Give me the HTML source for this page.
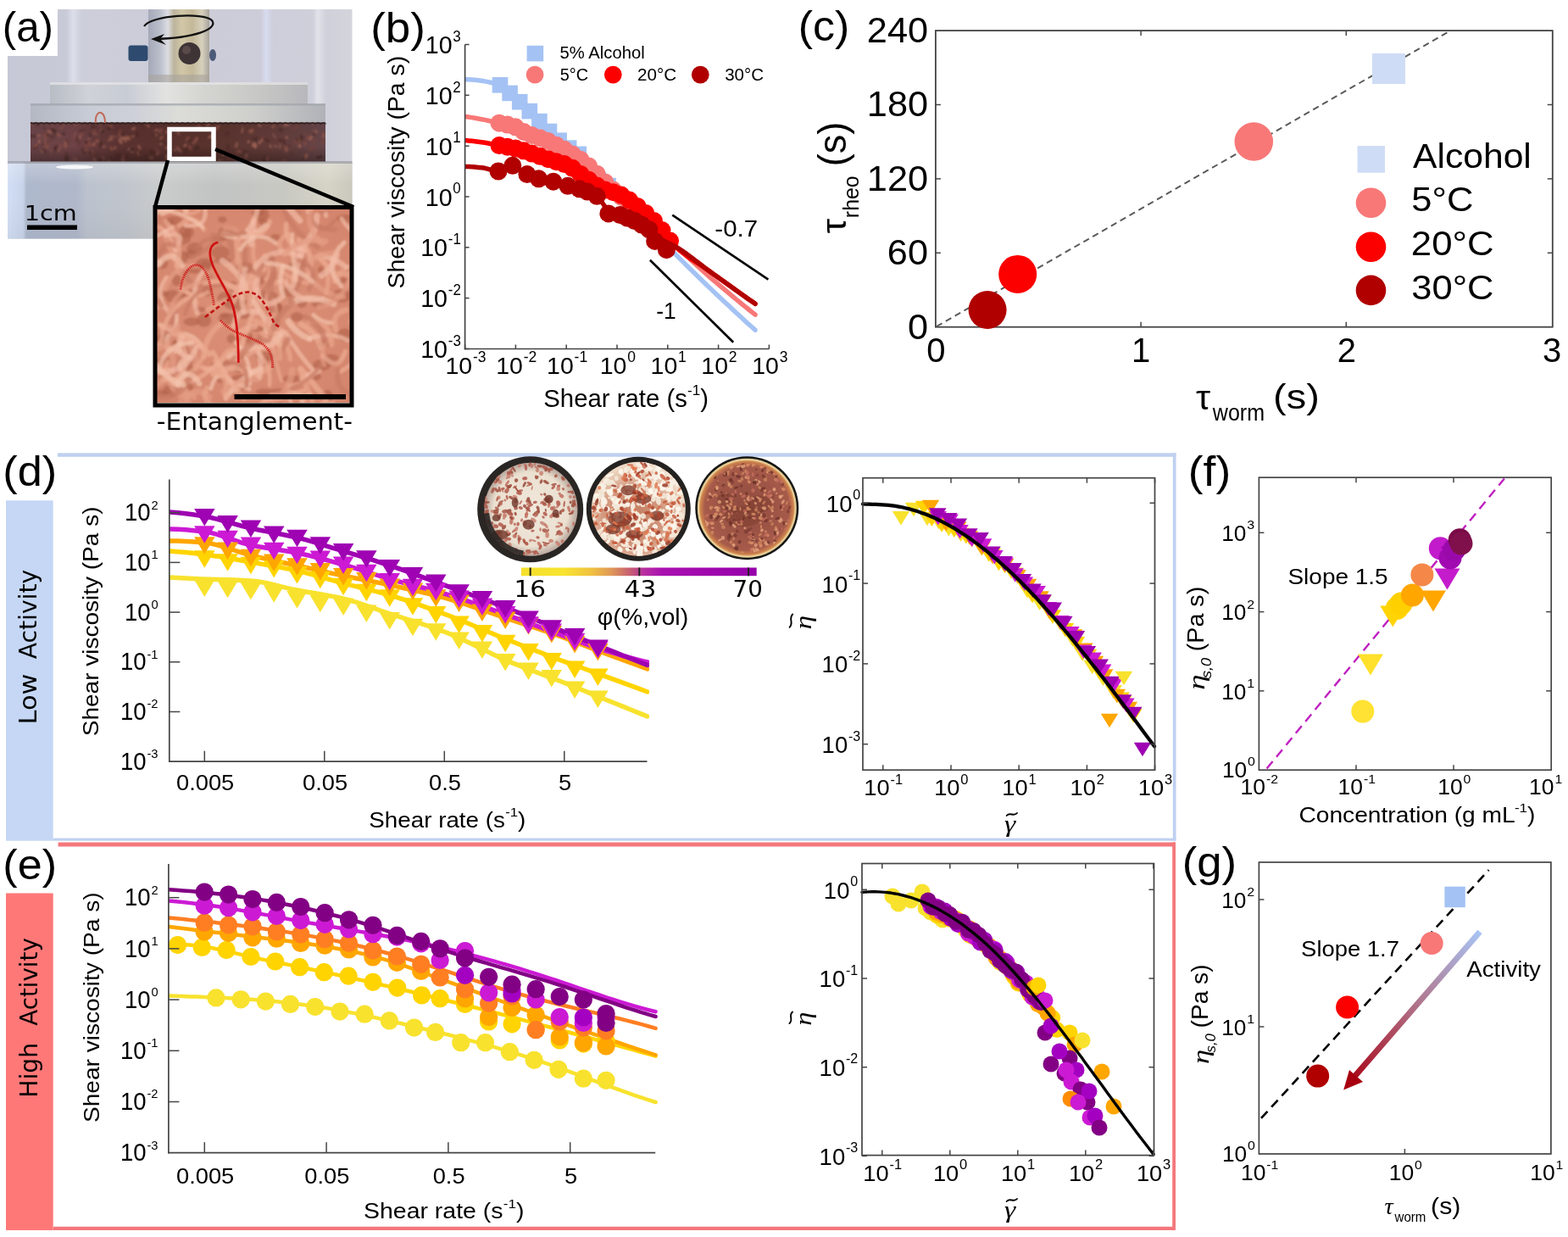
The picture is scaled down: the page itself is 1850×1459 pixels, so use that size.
<!DOCTYPE html>
<html><head><meta charset="utf-8"><title>Figure</title>
<style>html,body{margin:0;padding:0;background:#fff;width:1850px;height:1459px;overflow:hidden}svg{display:block}</style>
</head><body>
<svg width="1850" height="1459" viewBox="0 0 1850 1459">
<defs>
<linearGradient id="bgA" x1="0" x2="1" y1="0" y2="0">
 <stop offset="0" stop-color="#c6c8d6"/><stop offset="0.17" stop-color="#c8cad8"/><stop offset="0.19" stop-color="#dcdeea"/><stop offset="0.215" stop-color="#ccced9"/>
 <stop offset="0.5" stop-color="#ccccd8"/><stop offset="0.735" stop-color="#cdcdd9"/><stop offset="0.75" stop-color="#d8dcf0"/><stop offset="0.77" stop-color="#cecedb"/>
 <stop offset="0.885" stop-color="#cfcfda"/><stop offset="0.9" stop-color="#e2e2ea"/><stop offset="0.925" stop-color="#d0d0da"/><stop offset="1" stop-color="#d4d4dc"/>
</linearGradient>
<linearGradient id="shaft" x1="0" x2="1" y1="0" y2="0">
 <stop offset="0" stop-color="#a4a8b8"/><stop offset="0.2" stop-color="#bcc0cc"/><stop offset="0.32" stop-color="#dcdde2"/><stop offset="0.42" stop-color="#bcb49c"/><stop offset="0.55" stop-color="#d2c8a8"/><stop offset="0.72" stop-color="#c4b898"/><stop offset="0.88" stop-color="#d6d0bc"/><stop offset="1" stop-color="#a8a49c"/>
</linearGradient>
<linearGradient id="plate1" x1="0" x2="1" y1="0" y2="0">
 <stop offset="0" stop-color="#b8bcc4"/><stop offset="0.15" stop-color="#cfd2d8"/><stop offset="0.3" stop-color="#c8ccd4"/><stop offset="0.45" stop-color="#e2e2e0"/><stop offset="0.6" stop-color="#d4d4d0"/><stop offset="0.8" stop-color="#c8c8c6"/><stop offset="1" stop-color="#b8b8bc"/>
</linearGradient>
<linearGradient id="plate2" x1="0" x2="1" y1="0" y2="0">
 <stop offset="0" stop-color="#b4b8c2"/><stop offset="0.2" stop-color="#c8ccd6"/><stop offset="0.35" stop-color="#cdd0d8"/><stop offset="0.5" stop-color="#dcdcd8"/><stop offset="0.75" stop-color="#cfcfcc"/><stop offset="1" stop-color="#b0b2b8"/>
</linearGradient>
<linearGradient id="worms" x1="0" x2="1" y1="0" y2="0">
 <stop offset="0" stop-color="#6a4448"/><stop offset="0.15" stop-color="#6e4246"/><stop offset="0.3" stop-color="#5a3230"/><stop offset="0.6" stop-color="#58322c"/><stop offset="0.85" stop-color="#623c3a"/><stop offset="1" stop-color="#66464a"/>
</linearGradient>
<filter id="blurA" x="-5%" y="-5%" width="110%" height="110%"><feGaussianBlur stdDeviation="1.1"/></filter>
<filter id="blurB" x="-5%" y="-5%" width="110%" height="110%"><feGaussianBlur stdDeviation="1.1"/></filter>
<linearGradient id="wormV" x1="0" x2="0" y1="0" y2="1"><stop offset="0" stop-color="#000" stop-opacity="0.05"/><stop offset="0.6" stop-color="#000" stop-opacity="0"/><stop offset="1" stop-color="#000" stop-opacity="0.3"/></linearGradient>
<linearGradient id="base" x1="0" x2="1" y1="0" y2="0">
 <stop offset="0" stop-color="#d2def4"/><stop offset="0.045" stop-color="#c8d4ea"/><stop offset="0.055" stop-color="#aeb8cc"/><stop offset="0.2" stop-color="#b0b8ca"/><stop offset="0.23" stop-color="#bcc2ce"/><stop offset="0.34" stop-color="#c0c5cc"/><stop offset="0.45" stop-color="#cacccc"/><stop offset="0.6" stop-color="#c2c4c4"/><stop offset="0.8" stop-color="#c8c8c2"/><stop offset="0.93" stop-color="#d6d4c6"/><stop offset="1" stop-color="#cac8bc"/>
</linearGradient>
<linearGradient id="baseV" x1="0" x2="0" y1="0" y2="1">
 <stop offset="0" stop-color="#ffffff" stop-opacity="0.25"/><stop offset="0.3" stop-color="#ffffff" stop-opacity="0"/><stop offset="1" stop-color="#000000" stop-opacity="0.04"/>
</linearGradient>
<clipPath id="clipInset"><rect x="185" y="247" width="228" height="228"/></clipPath>
<clipPath id="clipWorm"><rect x="36" y="145" width="348" height="46"/></clipPath>
</defs>
<rect x="9.0" y="11.0" width="406.5" height="270.5" fill="url(#bgA)" />
<rect x="175.0" y="11.0" width="72.0" height="86.0" fill="url(#shaft)" />
<rect x="175.0" y="88.0" width="72.0" height="9.0" fill="#a8a49c" opacity="0.6"/>
<rect x="151.5" y="53.5" width="23" height="18.5" rx="3" fill="#2e4a6e"/>
<ellipse cx="251" cy="65" rx="4" ry="7" fill="#4a5a78"/>
<circle cx="223.5" cy="63.0" r="13.0" fill="#3e3436" />
<circle cx="220.0" cy="59.0" r="5.0" fill="#5a4a4a" />
<path d="M 170 31 C 178 18, 240 14, 250 24 C 258 34, 230 45, 182 46" fill="none" stroke="#111" stroke-width="2.2"/>
<path d="M 178 46 L 194 40 L 189 46 L 196 53 Z" fill="#111"/>
<rect x="59.0" y="97.0" width="304.0" height="27.0" fill="url(#plate1)" />
<rect x="59.0" y="97.0" width="304.0" height="3.0" fill="#e4e4e6" opacity="0.8"/>
<rect x="36.0" y="123.0" width="348.0" height="23.0" fill="url(#plate2)" />
<rect x="36.0" y="122.0" width="348.0" height="2.5" fill="#9ea2aa" opacity="0.7"/>
<rect x="36.0" y="145.0" width="348.0" height="46.0" fill="url(#worms)" />
<g clip-path="url(#clipWorm)"><g filter="url(#blurB)"><ellipse cx="118.8" cy="170.0" rx="4.2" ry="1.5" fill="#3e2420" opacity="0.7" transform="rotate(105 118.8 170.0)"/><ellipse cx="246.7" cy="186.8" rx="2.3" ry="1.1" fill="#5a3430" opacity="0.7" transform="rotate(179 246.7 186.8)"/><ellipse cx="199.7" cy="183.5" rx="2.7" ry="2.0" fill="#5a3430" opacity="0.7" transform="rotate(42 199.7 183.5)"/><ellipse cx="88.8" cy="187.6" rx="3.7" ry="1.7" fill="#8e5a50" opacity="0.7" transform="rotate(12 88.8 187.6)"/><ellipse cx="299.9" cy="172.2" rx="3.8" ry="2.0" fill="#a86a5a" opacity="0.7" transform="rotate(48 299.9 172.2)"/><ellipse cx="243.0" cy="187.3" rx="3.6" ry="2.1" fill="#8e5a50" opacity="0.7" transform="rotate(71 243.0 187.3)"/><ellipse cx="314.7" cy="165.5" rx="4.1" ry="0.9" fill="#4a2a26" opacity="0.7" transform="rotate(24 314.7 165.5)"/><ellipse cx="111.5" cy="189.4" rx="3.8" ry="2.0" fill="#8e5a50" opacity="0.7" transform="rotate(76 111.5 189.4)"/><ellipse cx="326.1" cy="171.4" rx="3.3" ry="2.1" fill="#8e5a50" opacity="0.7" transform="rotate(123 326.1 171.4)"/><ellipse cx="359.3" cy="184.4" rx="3.6" ry="1.3" fill="#4a2a26" opacity="0.7" transform="rotate(98 359.3 184.4)"/><ellipse cx="235.0" cy="149.8" rx="3.4" ry="2.2" fill="#7a443c" opacity="0.7" transform="rotate(48 235.0 149.8)"/><ellipse cx="79.3" cy="167.2" rx="1.8" ry="1.9" fill="#5a3430" opacity="0.7" transform="rotate(74 79.3 167.2)"/><ellipse cx="88.5" cy="158.5" rx="4.1" ry="0.9" fill="#8e5a50" opacity="0.7" transform="rotate(111 88.5 158.5)"/><ellipse cx="51.6" cy="178.0" rx="3.2" ry="2.1" fill="#3e2420" opacity="0.7" transform="rotate(50 51.6 178.0)"/><ellipse cx="118.1" cy="146.7" rx="1.7" ry="1.6" fill="#8a4c44" opacity="0.7" transform="rotate(6 118.1 146.7)"/><ellipse cx="104.7" cy="163.8" rx="2.0" ry="0.9" fill="#a86a5a" opacity="0.7" transform="rotate(156 104.7 163.8)"/><ellipse cx="145.2" cy="189.1" rx="2.6" ry="2.0" fill="#8e5a50" opacity="0.7" transform="rotate(70 145.2 189.1)"/><ellipse cx="337.7" cy="176.3" rx="3.4" ry="2.1" fill="#9a5a4c" opacity="0.7" transform="rotate(91 337.7 176.3)"/><ellipse cx="186.1" cy="178.1" rx="4.3" ry="1.4" fill="#7a443c" opacity="0.7" transform="rotate(46 186.1 178.1)"/><ellipse cx="141.4" cy="160.6" rx="4.5" ry="1.2" fill="#8e5a50" opacity="0.7" transform="rotate(68 141.4 160.6)"/><ellipse cx="241.0" cy="151.1" rx="2.9" ry="1.8" fill="#3e2420" opacity="0.7" transform="rotate(63 241.0 151.1)"/><ellipse cx="282.0" cy="178.9" rx="3.3" ry="2.1" fill="#8a4c44" opacity="0.7" transform="rotate(4 282.0 178.9)"/><ellipse cx="164.5" cy="173.9" rx="3.3" ry="1.2" fill="#a86a5a" opacity="0.7" transform="rotate(66 164.5 173.9)"/><ellipse cx="144.8" cy="162.0" rx="2.4" ry="1.3" fill="#a86a5a" opacity="0.7" transform="rotate(139 144.8 162.0)"/><ellipse cx="45.4" cy="171.2" rx="2.4" ry="1.1" fill="#4a2a26" opacity="0.7" transform="rotate(145 45.4 171.2)"/><ellipse cx="119.1" cy="153.6" rx="3.4" ry="0.9" fill="#8e5a50" opacity="0.7" transform="rotate(108 119.1 153.6)"/><ellipse cx="366.3" cy="176.0" rx="2.8" ry="2.0" fill="#7a443c" opacity="0.7" transform="rotate(30 366.3 176.0)"/><ellipse cx="153.2" cy="174.9" rx="2.3" ry="1.9" fill="#5a3430" opacity="0.7" transform="rotate(6 153.2 174.9)"/><ellipse cx="369.2" cy="159.5" rx="4.1" ry="1.3" fill="#4a2a26" opacity="0.7" transform="rotate(149 369.2 159.5)"/><ellipse cx="65.8" cy="173.5" rx="2.8" ry="1.5" fill="#4a2a26" opacity="0.7" transform="rotate(153 65.8 173.5)"/><ellipse cx="197.7" cy="174.2" rx="2.8" ry="1.4" fill="#a86a5a" opacity="0.7" transform="rotate(166 197.7 174.2)"/><ellipse cx="90.3" cy="145.2" rx="3.2" ry="2.2" fill="#8e5a50" opacity="0.7" transform="rotate(129 90.3 145.2)"/><ellipse cx="47.2" cy="166.0" rx="3.1" ry="2.0" fill="#a86a5a" opacity="0.7" transform="rotate(155 47.2 166.0)"/><ellipse cx="334.6" cy="189.7" rx="3.9" ry="0.9" fill="#9a5a4c" opacity="0.7" transform="rotate(163 334.6 189.7)"/><ellipse cx="277.4" cy="187.5" rx="3.2" ry="0.8" fill="#8e5a50" opacity="0.7" transform="rotate(134 277.4 187.5)"/><ellipse cx="95.8" cy="158.8" rx="3.1" ry="1.4" fill="#8a4c44" opacity="0.7" transform="rotate(169 95.8 158.8)"/><ellipse cx="249.0" cy="160.7" rx="4.4" ry="1.6" fill="#a86a5a" opacity="0.7" transform="rotate(146 249.0 160.7)"/><ellipse cx="57.4" cy="155.2" rx="3.1" ry="1.9" fill="#9a5a4c" opacity="0.7" transform="rotate(31 57.4 155.2)"/><ellipse cx="311.5" cy="187.4" rx="4.0" ry="0.8" fill="#4a2a26" opacity="0.7" transform="rotate(113 311.5 187.4)"/><ellipse cx="336.2" cy="147.3" rx="2.2" ry="1.7" fill="#a86a5a" opacity="0.7" transform="rotate(94 336.2 147.3)"/><ellipse cx="53.7" cy="159.9" rx="4.1" ry="1.9" fill="#8a4c44" opacity="0.7" transform="rotate(8 53.7 159.9)"/><ellipse cx="53.3" cy="167.2" rx="4.1" ry="0.9" fill="#8a4c44" opacity="0.7" transform="rotate(90 53.3 167.2)"/><ellipse cx="145.9" cy="159.5" rx="2.7" ry="1.3" fill="#3e2420" opacity="0.7" transform="rotate(55 145.9 159.5)"/><ellipse cx="128.2" cy="190.4" rx="1.9" ry="1.6" fill="#8e5a50" opacity="0.7" transform="rotate(129 128.2 190.4)"/><ellipse cx="168.3" cy="148.7" rx="1.6" ry="1.4" fill="#4a2a26" opacity="0.7" transform="rotate(117 168.3 148.7)"/><ellipse cx="224.4" cy="174.3" rx="3.4" ry="1.4" fill="#8a4c44" opacity="0.7" transform="rotate(67 224.4 174.3)"/><ellipse cx="208.7" cy="177.3" rx="4.4" ry="1.4" fill="#8e5a50" opacity="0.7" transform="rotate(3 208.7 177.3)"/><ellipse cx="112.1" cy="157.4" rx="3.9" ry="1.1" fill="#9a5a4c" opacity="0.7" transform="rotate(23 112.1 157.4)"/><ellipse cx="45.8" cy="160.0" rx="1.9" ry="1.8" fill="#a86a5a" opacity="0.7" transform="rotate(169 45.8 160.0)"/><ellipse cx="290.6" cy="184.1" rx="3.5" ry="1.8" fill="#8e5a50" opacity="0.7" transform="rotate(101 290.6 184.1)"/><ellipse cx="71.9" cy="172.0" rx="2.9" ry="1.1" fill="#8a4c44" opacity="0.7" transform="rotate(70 71.9 172.0)"/><ellipse cx="219.5" cy="171.0" rx="2.0" ry="0.8" fill="#8e5a50" opacity="0.7" transform="rotate(151 219.5 171.0)"/><ellipse cx="78.2" cy="183.8" rx="4.0" ry="2.1" fill="#5a3430" opacity="0.7" transform="rotate(104 78.2 183.8)"/><ellipse cx="314.0" cy="146.7" rx="1.8" ry="1.8" fill="#7a443c" opacity="0.7" transform="rotate(168 314.0 146.7)"/><ellipse cx="57.3" cy="159.9" rx="4.0" ry="1.1" fill="#4a2a26" opacity="0.7" transform="rotate(32 57.3 159.9)"/><ellipse cx="123.0" cy="173.3" rx="2.3" ry="1.6" fill="#8e5a50" opacity="0.7" transform="rotate(169 123.0 173.3)"/><ellipse cx="229.7" cy="189.5" rx="3.0" ry="2.2" fill="#8e5a50" opacity="0.7" transform="rotate(74 229.7 189.5)"/><ellipse cx="296.1" cy="152.4" rx="2.0" ry="1.4" fill="#5a3430" opacity="0.7" transform="rotate(160 296.1 152.4)"/><ellipse cx="92.6" cy="167.9" rx="4.2" ry="1.5" fill="#5a3430" opacity="0.7" transform="rotate(80 92.6 167.9)"/><ellipse cx="286.2" cy="153.6" rx="3.8" ry="1.0" fill="#a86a5a" opacity="0.7" transform="rotate(93 286.2 153.6)"/><ellipse cx="361.3" cy="184.2" rx="3.5" ry="2.0" fill="#a86a5a" opacity="0.7" transform="rotate(107 361.3 184.2)"/><ellipse cx="239.4" cy="190.3" rx="2.4" ry="1.2" fill="#7a443c" opacity="0.7" transform="rotate(145 239.4 190.3)"/><ellipse cx="105.8" cy="171.2" rx="2.5" ry="1.9" fill="#7a443c" opacity="0.7" transform="rotate(26 105.8 171.2)"/><ellipse cx="380.9" cy="167.1" rx="2.9" ry="2.0" fill="#7a443c" opacity="0.7" transform="rotate(148 380.9 167.1)"/><ellipse cx="229.9" cy="167.1" rx="4.1" ry="1.4" fill="#9a5a4c" opacity="0.7" transform="rotate(132 229.9 167.1)"/><ellipse cx="370.2" cy="166.5" rx="4.2" ry="1.7" fill="#7a443c" opacity="0.7" transform="rotate(140 370.2 166.5)"/><ellipse cx="60.1" cy="155.0" rx="2.2" ry="1.1" fill="#a86a5a" opacity="0.7" transform="rotate(47 60.1 155.0)"/><ellipse cx="101.1" cy="177.4" rx="4.2" ry="1.2" fill="#8a4c44" opacity="0.7" transform="rotate(156 101.1 177.4)"/><ellipse cx="145.1" cy="164.5" rx="1.9" ry="1.2" fill="#9a5a4c" opacity="0.7" transform="rotate(164 145.1 164.5)"/><ellipse cx="48.6" cy="165.8" rx="1.5" ry="1.3" fill="#3e2420" opacity="0.7" transform="rotate(79 48.6 165.8)"/><ellipse cx="205.1" cy="154.7" rx="2.7" ry="1.6" fill="#5a3430" opacity="0.7" transform="rotate(21 205.1 154.7)"/><ellipse cx="131.6" cy="175.6" rx="2.8" ry="1.5" fill="#9a5a4c" opacity="0.7" transform="rotate(45 131.6 175.6)"/><ellipse cx="219.6" cy="177.2" rx="3.8" ry="1.2" fill="#3e2420" opacity="0.7" transform="rotate(122 219.6 177.2)"/><ellipse cx="263.6" cy="182.1" rx="1.8" ry="2.1" fill="#a86a5a" opacity="0.7" transform="rotate(61 263.6 182.1)"/><ellipse cx="233.0" cy="169.2" rx="3.0" ry="0.9" fill="#5a3430" opacity="0.7" transform="rotate(53 233.0 169.2)"/><ellipse cx="289.3" cy="179.1" rx="2.0" ry="2.0" fill="#4a2a26" opacity="0.7" transform="rotate(118 289.3 179.1)"/><ellipse cx="78.8" cy="187.9" rx="4.3" ry="1.7" fill="#4a2a26" opacity="0.7" transform="rotate(117 78.8 187.9)"/><ellipse cx="182.2" cy="158.8" rx="2.9" ry="1.2" fill="#4a2a26" opacity="0.7" transform="rotate(32 182.2 158.8)"/><ellipse cx="59.9" cy="177.9" rx="2.6" ry="1.2" fill="#8e5a50" opacity="0.7" transform="rotate(69 59.9 177.9)"/><ellipse cx="339.6" cy="146.9" rx="2.2" ry="1.9" fill="#a86a5a" opacity="0.7" transform="rotate(64 339.6 146.9)"/><ellipse cx="151.8" cy="163.6" rx="2.6" ry="2.0" fill="#9a5a4c" opacity="0.7" transform="rotate(20 151.8 163.6)"/><ellipse cx="130.1" cy="149.6" rx="3.2" ry="2.1" fill="#9a5a4c" opacity="0.7" transform="rotate(20 130.1 149.6)"/><ellipse cx="279.0" cy="171.1" rx="3.9" ry="1.8" fill="#8e5a50" opacity="0.7" transform="rotate(107 279.0 171.1)"/><ellipse cx="87.0" cy="163.3" rx="3.1" ry="1.0" fill="#7a443c" opacity="0.7" transform="rotate(32 87.0 163.3)"/><ellipse cx="338.3" cy="162.0" rx="1.6" ry="1.9" fill="#a86a5a" opacity="0.7" transform="rotate(160 338.3 162.0)"/><ellipse cx="366.4" cy="162.6" rx="3.4" ry="2.2" fill="#a86a5a" opacity="0.7" transform="rotate(124 366.4 162.6)"/><ellipse cx="140.2" cy="184.6" rx="1.6" ry="1.1" fill="#5a3430" opacity="0.7" transform="rotate(114 140.2 184.6)"/><ellipse cx="73.4" cy="179.8" rx="3.0" ry="1.5" fill="#7a443c" opacity="0.7" transform="rotate(83 73.4 179.8)"/><ellipse cx="103.3" cy="169.4" rx="3.9" ry="2.1" fill="#8a4c44" opacity="0.7" transform="rotate(170 103.3 169.4)"/><ellipse cx="74.8" cy="158.0" rx="1.9" ry="1.9" fill="#4a2a26" opacity="0.7" transform="rotate(112 74.8 158.0)"/><ellipse cx="53.6" cy="161.6" rx="3.0" ry="1.5" fill="#7a443c" opacity="0.7" transform="rotate(3 53.6 161.6)"/><ellipse cx="154.2" cy="160.1" rx="3.6" ry="1.0" fill="#3e2420" opacity="0.7" transform="rotate(154 154.2 160.1)"/><ellipse cx="245.2" cy="187.6" rx="3.7" ry="1.3" fill="#9a5a4c" opacity="0.7" transform="rotate(145 245.2 187.6)"/><ellipse cx="360.2" cy="184.6" rx="3.6" ry="1.1" fill="#8e5a50" opacity="0.7" transform="rotate(57 360.2 184.6)"/><ellipse cx="309.8" cy="163.8" rx="3.6" ry="1.3" fill="#7a443c" opacity="0.7" transform="rotate(85 309.8 163.8)"/><ellipse cx="59.7" cy="184.2" rx="3.4" ry="1.2" fill="#7a443c" opacity="0.7" transform="rotate(84 59.7 184.2)"/><ellipse cx="299.5" cy="163.5" rx="2.9" ry="0.9" fill="#4a2a26" opacity="0.7" transform="rotate(46 299.5 163.5)"/><ellipse cx="331.4" cy="165.6" rx="3.3" ry="1.1" fill="#3e2420" opacity="0.7" transform="rotate(0 331.4 165.6)"/><ellipse cx="108.7" cy="181.0" rx="4.1" ry="1.5" fill="#4a2a26" opacity="0.7" transform="rotate(29 108.7 181.0)"/><ellipse cx="43.7" cy="171.9" rx="3.4" ry="1.0" fill="#4a2a26" opacity="0.7" transform="rotate(110 43.7 171.9)"/><ellipse cx="190.1" cy="153.5" rx="2.7" ry="1.2" fill="#8a4c44" opacity="0.7" transform="rotate(6 190.1 153.5)"/><ellipse cx="284.5" cy="156.0" rx="2.7" ry="0.8" fill="#8a4c44" opacity="0.7" transform="rotate(174 284.5 156.0)"/><ellipse cx="112.2" cy="149.3" rx="2.1" ry="1.3" fill="#5a3430" opacity="0.7" transform="rotate(21 112.2 149.3)"/><ellipse cx="353.6" cy="172.3" rx="2.3" ry="1.9" fill="#a86a5a" opacity="0.7" transform="rotate(84 353.6 172.3)"/><ellipse cx="360.7" cy="158.8" rx="3.2" ry="0.8" fill="#7a443c" opacity="0.7" transform="rotate(61 360.7 158.8)"/><ellipse cx="381.5" cy="159.6" rx="3.5" ry="2.2" fill="#8a4c44" opacity="0.7" transform="rotate(107 381.5 159.6)"/><ellipse cx="37.3" cy="146.4" rx="1.6" ry="1.5" fill="#9a5a4c" opacity="0.7" transform="rotate(87 37.3 146.4)"/><ellipse cx="101.8" cy="168.4" rx="2.1" ry="2.2" fill="#3e2420" opacity="0.7" transform="rotate(86 101.8 168.4)"/><ellipse cx="315.6" cy="187.2" rx="2.6" ry="1.9" fill="#8a4c44" opacity="0.7" transform="rotate(114 315.6 187.2)"/><ellipse cx="173.2" cy="188.6" rx="4.0" ry="1.0" fill="#4a2a26" opacity="0.7" transform="rotate(70 173.2 188.6)"/><ellipse cx="152.3" cy="176.3" rx="2.0" ry="1.8" fill="#8e5a50" opacity="0.7" transform="rotate(132 152.3 176.3)"/><ellipse cx="326.8" cy="170.5" rx="2.6" ry="1.4" fill="#4a2a26" opacity="0.7" transform="rotate(41 326.8 170.5)"/><ellipse cx="307.3" cy="167.1" rx="4.0" ry="1.5" fill="#a86a5a" opacity="0.7" transform="rotate(135 307.3 167.1)"/><ellipse cx="354.4" cy="177.1" rx="1.6" ry="1.0" fill="#5a3430" opacity="0.7" transform="rotate(135 354.4 177.1)"/><ellipse cx="322.3" cy="149.2" rx="2.5" ry="1.6" fill="#9a5a4c" opacity="0.7" transform="rotate(144 322.3 149.2)"/><ellipse cx="55.6" cy="173.2" rx="2.8" ry="2.1" fill="#8a4c44" opacity="0.7" transform="rotate(132 55.6 173.2)"/><ellipse cx="152.1" cy="162.0" rx="2.1" ry="1.9" fill="#9a5a4c" opacity="0.7" transform="rotate(165 152.1 162.0)"/><ellipse cx="153.8" cy="159.3" rx="1.7" ry="1.7" fill="#5a3430" opacity="0.7" transform="rotate(43 153.8 159.3)"/><ellipse cx="53.0" cy="152.0" rx="3.3" ry="0.8" fill="#4a2a26" opacity="0.7" transform="rotate(41 53.0 152.0)"/><ellipse cx="372.6" cy="155.1" rx="3.0" ry="2.1" fill="#8e5a50" opacity="0.7" transform="rotate(57 372.6 155.1)"/><ellipse cx="343.2" cy="181.0" rx="2.0" ry="0.9" fill="#5a3430" opacity="0.7" transform="rotate(149 343.2 181.0)"/><ellipse cx="75.2" cy="146.1" rx="2.1" ry="2.1" fill="#9a5a4c" opacity="0.7" transform="rotate(15 75.2 146.1)"/><ellipse cx="197.9" cy="155.2" rx="3.4" ry="1.9" fill="#9a5a4c" opacity="0.7" transform="rotate(157 197.9 155.2)"/><ellipse cx="156.4" cy="172.7" rx="3.8" ry="1.2" fill="#5a3430" opacity="0.7" transform="rotate(170 156.4 172.7)"/><ellipse cx="190.4" cy="162.5" rx="3.1" ry="1.4" fill="#9a5a4c" opacity="0.7" transform="rotate(131 190.4 162.5)"/><ellipse cx="62.9" cy="160.9" rx="3.8" ry="2.1" fill="#5a3430" opacity="0.7" transform="rotate(124 62.9 160.9)"/><ellipse cx="162.9" cy="181.1" rx="3.3" ry="1.1" fill="#9a5a4c" opacity="0.7" transform="rotate(63 162.9 181.1)"/><ellipse cx="382.5" cy="160.4" rx="2.8" ry="1.2" fill="#8e5a50" opacity="0.7" transform="rotate(58 382.5 160.4)"/><ellipse cx="296.8" cy="154.5" rx="4.1" ry="2.2" fill="#7a443c" opacity="0.7" transform="rotate(110 296.8 154.5)"/><ellipse cx="360.1" cy="169.6" rx="2.6" ry="1.1" fill="#8e5a50" opacity="0.7" transform="rotate(112 360.1 169.6)"/><ellipse cx="178.4" cy="186.1" rx="2.9" ry="1.6" fill="#8e5a50" opacity="0.7" transform="rotate(6 178.4 186.1)"/><ellipse cx="369.2" cy="145.8" rx="1.6" ry="1.0" fill="#9a5a4c" opacity="0.7" transform="rotate(91 369.2 145.8)"/><ellipse cx="57.4" cy="166.7" rx="3.7" ry="1.2" fill="#7a443c" opacity="0.7" transform="rotate(78 57.4 166.7)"/><ellipse cx="156.0" cy="179.1" rx="1.9" ry="1.4" fill="#a86a5a" opacity="0.7" transform="rotate(164 156.0 179.1)"/><ellipse cx="190.5" cy="154.5" rx="3.8" ry="1.8" fill="#5a3430" opacity="0.7" transform="rotate(176 190.5 154.5)"/><ellipse cx="376.9" cy="185.3" rx="4.3" ry="1.4" fill="#3e2420" opacity="0.7" transform="rotate(169 376.9 185.3)"/><ellipse cx="201.0" cy="190.9" rx="2.6" ry="2.0" fill="#7a443c" opacity="0.7" transform="rotate(51 201.0 190.9)"/><ellipse cx="197.2" cy="185.8" rx="3.7" ry="2.1" fill="#a86a5a" opacity="0.7" transform="rotate(94 197.2 185.8)"/><ellipse cx="41.0" cy="173.9" rx="3.1" ry="1.0" fill="#4a2a26" opacity="0.7" transform="rotate(9 41.0 173.9)"/><ellipse cx="107.0" cy="180.4" rx="2.6" ry="2.2" fill="#5a3430" opacity="0.7" transform="rotate(65 107.0 180.4)"/><ellipse cx="228.3" cy="167.5" rx="1.5" ry="1.4" fill="#7a443c" opacity="0.7" transform="rotate(61 228.3 167.5)"/><ellipse cx="53.8" cy="170.1" rx="2.9" ry="1.2" fill="#9a5a4c" opacity="0.7" transform="rotate(121 53.8 170.1)"/><ellipse cx="209.5" cy="178.3" rx="1.6" ry="1.4" fill="#3e2420" opacity="0.7" transform="rotate(113 209.5 178.3)"/><ellipse cx="271.0" cy="187.0" rx="4.4" ry="1.8" fill="#7a443c" opacity="0.7" transform="rotate(151 271.0 187.0)"/><ellipse cx="179.5" cy="179.5" rx="3.2" ry="1.2" fill="#3e2420" opacity="0.7" transform="rotate(30 179.5 179.5)"/><ellipse cx="41.9" cy="174.6" rx="2.9" ry="1.7" fill="#5a3430" opacity="0.7" transform="rotate(167 41.9 174.6)"/><ellipse cx="319.3" cy="172.7" rx="2.6" ry="1.7" fill="#8e5a50" opacity="0.7" transform="rotate(53 319.3 172.7)"/><ellipse cx="61.7" cy="151.4" rx="2.7" ry="1.3" fill="#9a5a4c" opacity="0.7" transform="rotate(82 61.7 151.4)"/><ellipse cx="315.4" cy="165.8" rx="3.2" ry="1.0" fill="#4a2a26" opacity="0.7" transform="rotate(7 315.4 165.8)"/><ellipse cx="205.0" cy="155.6" rx="4.3" ry="1.7" fill="#5a3430" opacity="0.7" transform="rotate(6 205.0 155.6)"/><ellipse cx="235.9" cy="170.3" rx="1.9" ry="1.9" fill="#5a3430" opacity="0.7" transform="rotate(136 235.9 170.3)"/><ellipse cx="129.1" cy="165.0" rx="2.6" ry="1.5" fill="#9a5a4c" opacity="0.7" transform="rotate(161 129.1 165.0)"/><ellipse cx="370.2" cy="174.6" rx="2.4" ry="1.3" fill="#7a443c" opacity="0.7" transform="rotate(118 370.2 174.6)"/><ellipse cx="363.7" cy="163.2" rx="2.3" ry="2.1" fill="#8a4c44" opacity="0.7" transform="rotate(170 363.7 163.2)"/><ellipse cx="146.5" cy="163.1" rx="1.6" ry="1.4" fill="#a86a5a" opacity="0.7" transform="rotate(74 146.5 163.1)"/><ellipse cx="349.0" cy="167.8" rx="3.7" ry="1.8" fill="#7a443c" opacity="0.7" transform="rotate(21 349.0 167.8)"/><ellipse cx="256.0" cy="150.7" rx="4.3" ry="2.2" fill="#8a4c44" opacity="0.7" transform="rotate(125 256.0 150.7)"/><ellipse cx="186.1" cy="190.3" rx="2.3" ry="1.6" fill="#5a3430" opacity="0.7" transform="rotate(8 186.1 190.3)"/><ellipse cx="118.1" cy="189.0" rx="1.9" ry="1.8" fill="#4a2a26" opacity="0.7" transform="rotate(124 118.1 189.0)"/><ellipse cx="198.6" cy="163.3" rx="1.9" ry="0.9" fill="#8a4c44" opacity="0.7" transform="rotate(137 198.6 163.3)"/><ellipse cx="97.3" cy="153.7" rx="4.1" ry="0.9" fill="#4a2a26" opacity="0.7" transform="rotate(173 97.3 153.7)"/><ellipse cx="222.1" cy="162.6" rx="2.8" ry="1.1" fill="#9a5a4c" opacity="0.7" transform="rotate(5 222.1 162.6)"/><ellipse cx="72.4" cy="150.3" rx="1.9" ry="1.3" fill="#a86a5a" opacity="0.7" transform="rotate(165 72.4 150.3)"/><ellipse cx="62.8" cy="153.8" rx="4.5" ry="2.2" fill="#3e2420" opacity="0.7" transform="rotate(44 62.8 153.8)"/><ellipse cx="159.3" cy="188.7" rx="1.8" ry="2.0" fill="#5a3430" opacity="0.7" transform="rotate(85 159.3 188.7)"/><ellipse cx="293.3" cy="169.4" rx="3.2" ry="1.4" fill="#5a3430" opacity="0.7" transform="rotate(97 293.3 169.4)"/><ellipse cx="189.9" cy="169.6" rx="2.1" ry="1.6" fill="#8e5a50" opacity="0.7" transform="rotate(168 189.9 169.6)"/><ellipse cx="331.2" cy="153.3" rx="2.5" ry="2.0" fill="#4a2a26" opacity="0.7" transform="rotate(23 331.2 153.3)"/><ellipse cx="246.0" cy="147.6" rx="1.8" ry="0.8" fill="#4a2a26" opacity="0.7" transform="rotate(157 246.0 147.6)"/><ellipse cx="312.3" cy="190.6" rx="3.1" ry="1.9" fill="#3e2420" opacity="0.7" transform="rotate(17 312.3 190.6)"/><ellipse cx="224.1" cy="165.3" rx="3.3" ry="1.1" fill="#4a2a26" opacity="0.7" transform="rotate(82 224.1 165.3)"/><ellipse cx="232.2" cy="174.3" rx="3.6" ry="1.9" fill="#3e2420" opacity="0.7" transform="rotate(130 232.2 174.3)"/><ellipse cx="155.7" cy="176.8" rx="2.4" ry="2.2" fill="#3e2420" opacity="0.7" transform="rotate(49 155.7 176.8)"/><ellipse cx="78.9" cy="168.0" rx="3.7" ry="1.1" fill="#3e2420" opacity="0.7" transform="rotate(78 78.9 168.0)"/><ellipse cx="128.9" cy="151.0" rx="3.1" ry="2.0" fill="#3e2420" opacity="0.7" transform="rotate(178 128.9 151.0)"/><ellipse cx="219.9" cy="165.3" rx="1.7" ry="1.4" fill="#8a4c44" opacity="0.7" transform="rotate(153 219.9 165.3)"/><ellipse cx="306.5" cy="147.7" rx="2.7" ry="2.2" fill="#8e5a50" opacity="0.7" transform="rotate(66 306.5 147.7)"/><ellipse cx="110.7" cy="170.2" rx="2.8" ry="2.0" fill="#9a5a4c" opacity="0.7" transform="rotate(128 110.7 170.2)"/><ellipse cx="161.8" cy="158.8" rx="2.7" ry="1.3" fill="#3e2420" opacity="0.7" transform="rotate(117 161.8 158.8)"/><ellipse cx="340.5" cy="171.9" rx="2.5" ry="0.8" fill="#4a2a26" opacity="0.7" transform="rotate(12 340.5 171.9)"/><ellipse cx="36.1" cy="185.7" rx="2.5" ry="1.2" fill="#7a443c" opacity="0.7" transform="rotate(5 36.1 185.7)"/><ellipse cx="223.5" cy="187.4" rx="3.7" ry="2.0" fill="#5a3430" opacity="0.7" transform="rotate(151 223.5 187.4)"/><ellipse cx="353.7" cy="165.3" rx="3.0" ry="2.1" fill="#9a5a4c" opacity="0.7" transform="rotate(40 353.7 165.3)"/><ellipse cx="84.3" cy="159.1" rx="1.9" ry="1.0" fill="#7a443c" opacity="0.7" transform="rotate(159 84.3 159.1)"/><ellipse cx="185.9" cy="181.6" rx="1.5" ry="2.0" fill="#8e5a50" opacity="0.7" transform="rotate(33 185.9 181.6)"/><ellipse cx="131.4" cy="162.9" rx="3.3" ry="2.1" fill="#8e5a50" opacity="0.7" transform="rotate(54 131.4 162.9)"/><ellipse cx="135.9" cy="174.5" rx="1.7" ry="2.0" fill="#9a5a4c" opacity="0.7" transform="rotate(134 135.9 174.5)"/><ellipse cx="147.8" cy="184.1" rx="2.9" ry="1.4" fill="#3e2420" opacity="0.7" transform="rotate(161 147.8 184.1)"/><ellipse cx="323.6" cy="160.3" rx="4.1" ry="1.1" fill="#8e5a50" opacity="0.7" transform="rotate(58 323.6 160.3)"/><ellipse cx="261.7" cy="189.1" rx="3.4" ry="0.8" fill="#8a4c44" opacity="0.7" transform="rotate(168 261.7 189.1)"/><ellipse cx="218.3" cy="171.4" rx="2.0" ry="1.9" fill="#9a5a4c" opacity="0.7" transform="rotate(148 218.3 171.4)"/><ellipse cx="355.5" cy="163.2" rx="4.4" ry="1.7" fill="#3e2420" opacity="0.7" transform="rotate(95 355.5 163.2)"/><ellipse cx="106.4" cy="158.7" rx="3.2" ry="1.3" fill="#4a2a26" opacity="0.7" transform="rotate(93 106.4 158.7)"/><ellipse cx="145.6" cy="184.6" rx="2.8" ry="1.8" fill="#7a443c" opacity="0.7" transform="rotate(154 145.6 184.6)"/><ellipse cx="255.1" cy="167.7" rx="2.1" ry="0.9" fill="#7a443c" opacity="0.7" transform="rotate(82 255.1 167.7)"/><ellipse cx="359.0" cy="168.1" rx="2.4" ry="1.9" fill="#7a443c" opacity="0.7" transform="rotate(59 359.0 168.1)"/><ellipse cx="121.9" cy="185.5" rx="2.2" ry="1.3" fill="#8a4c44" opacity="0.7" transform="rotate(40 121.9 185.5)"/><ellipse cx="135.2" cy="160.9" rx="3.6" ry="1.3" fill="#8a4c44" opacity="0.7" transform="rotate(20 135.2 160.9)"/><ellipse cx="112.7" cy="165.3" rx="2.2" ry="1.8" fill="#4a2a26" opacity="0.7" transform="rotate(39 112.7 165.3)"/><ellipse cx="269.4" cy="173.0" rx="3.6" ry="1.5" fill="#4a2a26" opacity="0.7" transform="rotate(108 269.4 173.0)"/><ellipse cx="183.7" cy="153.2" rx="2.8" ry="0.9" fill="#a86a5a" opacity="0.7" transform="rotate(142 183.7 153.2)"/><ellipse cx="335.2" cy="167.5" rx="2.3" ry="2.1" fill="#4a2a26" opacity="0.7" transform="rotate(123 335.2 167.5)"/><ellipse cx="113.2" cy="182.6" rx="2.5" ry="2.2" fill="#5a3430" opacity="0.7" transform="rotate(87 113.2 182.6)"/><ellipse cx="98.2" cy="178.0" rx="4.1" ry="1.0" fill="#3e2420" opacity="0.7" transform="rotate(58 98.2 178.0)"/><ellipse cx="157.5" cy="151.7" rx="2.9" ry="1.6" fill="#a86a5a" opacity="0.7" transform="rotate(155 157.5 151.7)"/><ellipse cx="191.4" cy="167.7" rx="4.0" ry="1.1" fill="#3e2420" opacity="0.7" transform="rotate(17 191.4 167.7)"/><ellipse cx="300.9" cy="170.4" rx="3.3" ry="1.7" fill="#a86a5a" opacity="0.7" transform="rotate(52 300.9 170.4)"/><ellipse cx="148.6" cy="163.9" rx="4.3" ry="1.4" fill="#a86a5a" opacity="0.7" transform="rotate(101 148.6 163.9)"/><ellipse cx="301.9" cy="164.4" rx="3.2" ry="1.1" fill="#3e2420" opacity="0.7" transform="rotate(126 301.9 164.4)"/><ellipse cx="231.8" cy="162.7" rx="2.5" ry="1.0" fill="#9a5a4c" opacity="0.7" transform="rotate(165 231.8 162.7)"/><ellipse cx="205.1" cy="169.9" rx="2.1" ry="1.4" fill="#5a3430" opacity="0.7" transform="rotate(104 205.1 169.9)"/><ellipse cx="73.2" cy="147.5" rx="3.6" ry="1.0" fill="#5a3430" opacity="0.7" transform="rotate(120 73.2 147.5)"/><ellipse cx="77.5" cy="170.4" rx="4.3" ry="2.0" fill="#9a5a4c" opacity="0.7" transform="rotate(93 77.5 170.4)"/><ellipse cx="174.3" cy="148.0" rx="3.6" ry="1.1" fill="#a86a5a" opacity="0.7" transform="rotate(47 174.3 148.0)"/><ellipse cx="109.7" cy="150.1" rx="2.8" ry="1.2" fill="#3e2420" opacity="0.7" transform="rotate(173 109.7 150.1)"/><ellipse cx="100.8" cy="171.3" rx="3.5" ry="1.1" fill="#7a443c" opacity="0.7" transform="rotate(47 100.8 171.3)"/><ellipse cx="157.0" cy="160.8" rx="1.8" ry="1.8" fill="#9a5a4c" opacity="0.7" transform="rotate(135 157.0 160.8)"/><ellipse cx="114.4" cy="166.0" rx="2.5" ry="1.9" fill="#9a5a4c" opacity="0.7" transform="rotate(30 114.4 166.0)"/><ellipse cx="268.2" cy="157.4" rx="2.6" ry="2.0" fill="#4a2a26" opacity="0.7" transform="rotate(134 268.2 157.4)"/><ellipse cx="211.4" cy="176.6" rx="4.4" ry="1.4" fill="#8e5a50" opacity="0.7" transform="rotate(53 211.4 176.6)"/><ellipse cx="130.8" cy="186.4" rx="1.6" ry="1.0" fill="#4a2a26" opacity="0.7" transform="rotate(115 130.8 186.4)"/><ellipse cx="109.5" cy="179.9" rx="4.0" ry="1.8" fill="#7a443c" opacity="0.7" transform="rotate(67 109.5 179.9)"/><ellipse cx="51.1" cy="170.6" rx="2.1" ry="1.0" fill="#3e2420" opacity="0.7" transform="rotate(176 51.1 170.6)"/><ellipse cx="293.3" cy="167.3" rx="1.9" ry="1.6" fill="#a86a5a" opacity="0.7" transform="rotate(120 293.3 167.3)"/><ellipse cx="246.1" cy="152.4" rx="1.8" ry="0.9" fill="#4a2a26" opacity="0.7" transform="rotate(123 246.1 152.4)"/><ellipse cx="69.2" cy="177.1" rx="3.6" ry="1.6" fill="#8e5a50" opacity="0.7" transform="rotate(119 69.2 177.1)"/><ellipse cx="190.1" cy="153.1" rx="1.7" ry="1.8" fill="#8a4c44" opacity="0.7" transform="rotate(75 190.1 153.1)"/><ellipse cx="38.4" cy="160.5" rx="4.0" ry="1.3" fill="#3e2420" opacity="0.7" transform="rotate(8 38.4 160.5)"/><ellipse cx="109.6" cy="145.5" rx="4.3" ry="1.8" fill="#5a3430" opacity="0.7" transform="rotate(113 109.6 145.5)"/><ellipse cx="189.5" cy="155.9" rx="2.5" ry="1.1" fill="#8a4c44" opacity="0.7" transform="rotate(75 189.5 155.9)"/><ellipse cx="69.4" cy="159.5" rx="3.1" ry="1.6" fill="#9a5a4c" opacity="0.7" transform="rotate(52 69.4 159.5)"/><ellipse cx="44.6" cy="146.2" rx="2.2" ry="1.4" fill="#3e2420" opacity="0.7" transform="rotate(92 44.6 146.2)"/><ellipse cx="258.8" cy="190.4" rx="3.5" ry="1.8" fill="#8e5a50" opacity="0.7" transform="rotate(94 258.8 190.4)"/><ellipse cx="184.4" cy="159.2" rx="2.0" ry="1.4" fill="#9a5a4c" opacity="0.7" transform="rotate(95 184.4 159.2)"/><ellipse cx="134.9" cy="188.2" rx="2.8" ry="1.0" fill="#4a2a26" opacity="0.7" transform="rotate(180 134.9 188.2)"/><ellipse cx="94.5" cy="161.8" rx="1.9" ry="1.5" fill="#a86a5a" opacity="0.7" transform="rotate(86 94.5 161.8)"/><ellipse cx="122.2" cy="187.5" rx="1.6" ry="0.8" fill="#8e5a50" opacity="0.7" transform="rotate(112 122.2 187.5)"/><ellipse cx="56.3" cy="168.4" rx="4.2" ry="0.9" fill="#5a3430" opacity="0.7" transform="rotate(122 56.3 168.4)"/><ellipse cx="142.0" cy="166.7" rx="3.8" ry="1.9" fill="#a86a5a" opacity="0.7" transform="rotate(56 142.0 166.7)"/><ellipse cx="232.0" cy="163.7" rx="1.8" ry="1.8" fill="#8a4c44" opacity="0.7" transform="rotate(43 232.0 163.7)"/><ellipse cx="91.2" cy="163.0" rx="3.4" ry="0.9" fill="#4a2a26" opacity="0.7" transform="rotate(121 91.2 163.0)"/><ellipse cx="214.3" cy="189.3" rx="3.0" ry="1.3" fill="#8a4c44" opacity="0.7" transform="rotate(90 214.3 189.3)"/><ellipse cx="65.9" cy="175.7" rx="3.2" ry="1.3" fill="#3e2420" opacity="0.7" transform="rotate(84 65.9 175.7)"/><ellipse cx="245.4" cy="146.3" rx="2.9" ry="1.7" fill="#a86a5a" opacity="0.7" transform="rotate(142 245.4 146.3)"/><ellipse cx="296.2" cy="154.5" rx="3.5" ry="1.8" fill="#9a5a4c" opacity="0.7" transform="rotate(172 296.2 154.5)"/><ellipse cx="201.9" cy="154.3" rx="3.3" ry="1.7" fill="#3e2420" opacity="0.7" transform="rotate(180 201.9 154.3)"/><ellipse cx="52.9" cy="163.5" rx="2.0" ry="0.9" fill="#8e5a50" opacity="0.7" transform="rotate(32 52.9 163.5)"/><ellipse cx="210.5" cy="156.7" rx="3.2" ry="1.3" fill="#8e5a50" opacity="0.7" transform="rotate(78 210.5 156.7)"/><ellipse cx="49.9" cy="178.7" rx="2.6" ry="1.8" fill="#8e5a50" opacity="0.7" transform="rotate(49 49.9 178.7)"/><ellipse cx="112.4" cy="155.5" rx="3.8" ry="0.8" fill="#7a443c" opacity="0.7" transform="rotate(74 112.4 155.5)"/><ellipse cx="330.1" cy="172.8" rx="2.9" ry="1.3" fill="#8e5a50" opacity="0.7" transform="rotate(91 330.1 172.8)"/><ellipse cx="186.6" cy="154.2" rx="1.7" ry="1.6" fill="#8e5a50" opacity="0.7" transform="rotate(29 186.6 154.2)"/><ellipse cx="43.6" cy="171.1" rx="4.4" ry="1.0" fill="#9a5a4c" opacity="0.7" transform="rotate(140 43.6 171.1)"/><ellipse cx="349.0" cy="150.6" rx="4.3" ry="1.2" fill="#7a443c" opacity="0.7" transform="rotate(154 349.0 150.6)"/><ellipse cx="351.4" cy="165.0" rx="2.0" ry="1.8" fill="#4a2a26" opacity="0.7" transform="rotate(113 351.4 165.0)"/><ellipse cx="209.2" cy="173.8" rx="2.3" ry="0.8" fill="#8a4c44" opacity="0.7" transform="rotate(171 209.2 173.8)"/><ellipse cx="146.3" cy="162.7" rx="2.3" ry="0.9" fill="#9a5a4c" opacity="0.7" transform="rotate(160 146.3 162.7)"/><ellipse cx="120.9" cy="155.2" rx="2.2" ry="2.1" fill="#3e2420" opacity="0.7" transform="rotate(60 120.9 155.2)"/><ellipse cx="141.5" cy="154.9" rx="3.2" ry="1.4" fill="#7a443c" opacity="0.7" transform="rotate(91 141.5 154.9)"/><ellipse cx="139.7" cy="183.5" rx="3.8" ry="1.9" fill="#4a2a26" opacity="0.7" transform="rotate(13 139.7 183.5)"/></g></g>
<rect x="36.0" y="145.0" width="348.0" height="46.0" fill="url(#wormV)" />
<rect x="36.0" y="144.0" width="348.0" height="2.0" fill="#3a2624" opacity="0.6"/>
<polyline points="36.0,144.5 39.2,146.1 42.4,144.5 45.6,146.1 48.8,144.5 52.0,146.1 55.2,144.5 58.4,146.1 61.6,144.5 64.8,146.1 68.0,144.5 71.2,146.1 74.4,144.5 77.6,146.1 80.8,144.5 84.0,146.1 87.2,144.5 90.4,146.1 93.6,144.5 96.8,146.1 100.0,144.5 103.2,146.1 106.4,144.5 109.6,146.1 112.8,144.5 116.0,146.1 119.2,144.5 122.4,146.1 125.6,144.5 128.8,146.1 132.0,144.5 135.2,146.1 138.4,144.5 141.6,146.1 144.8,144.5 148.0,146.1 151.2,144.5 154.4,146.1 157.6,144.5 160.8,146.1 164.0,144.5 167.2,146.1 170.4,144.5 173.6,146.1 176.8,144.5 180.0,146.1 183.2,144.5 186.4,146.1 189.6,144.5 192.8,146.1 196.0,144.5 199.2,146.1 202.4,144.5 205.6,146.1 208.8,144.5 212.0,146.1 215.2,144.5 218.4,146.1 221.6,144.5 224.8,146.1 228.0,144.5 231.2,146.1 234.4,144.5 237.6,146.1 240.8,144.5 244.0,146.1 247.2,144.5 250.4,146.1 253.6,144.5 256.8,146.1 260.0,144.5 263.2,146.1 266.4,144.5 269.6,146.1 272.8,144.5 276.0,146.1 279.2,144.5 282.4,146.1 285.6,144.5 288.8,146.1 292.0,144.5 295.2,146.1 298.4,144.5 301.6,146.1 304.8,144.5 308.0,146.1 311.2,144.5 314.4,146.1 317.6,144.5 320.8,146.1 324.0,144.5 327.2,146.1 330.4,144.5 333.6,146.1 336.8,144.5 340.0,146.1 343.2,144.5 346.4,146.1 349.6,144.5 352.8,146.1 356.0,144.5 359.2,146.1 362.4,144.5 365.6,146.1 368.8,144.5 372.0,146.1 375.2,144.5 378.4,146.1 381.6,144.5 384.8,146.1" fill="none" stroke="#2a1a18" stroke-width="1.4" opacity="0.7"/>
<path d="M 113 145 C 112 136, 116 132, 119 133 C 122 134, 124 139, 124 145" fill="none" stroke="#c06a58" stroke-width="2"/>
<rect x="9.0" y="191.0" width="406.5" height="90.5" fill="url(#base)" />
<rect x="9.0" y="191.0" width="406.5" height="90.5" fill="url(#baseV)" />
<rect x="9.0" y="190.0" width="406.5" height="3.0" fill="#8e9098" opacity="0.6"/>
<ellipse cx="88" cy="197" rx="22" ry="2.5" fill="#ffffff" opacity="0.85"/>
<rect x="0.0" y="0.0" width="68.0" height="66.0" fill="#ffffff" />
<rect x="0.0" y="0.0" width="9.0" height="1459.0" fill="#ffffff" />
<rect x="200" y="152.5" width="52" height="35" fill="none" stroke="#ffffff" stroke-width="5.5"/>
<line x1="198.0" y1="189.0" x2="183.0" y2="244.0" stroke="#000" stroke-width="4.5" />
<line x1="254.0" y1="176.0" x2="417.0" y2="244.0" stroke="#000" stroke-width="4.5" />
<rect x="32.0" y="265.5" width="59.0" height="5.5" fill="#000" />
<text transform="translate(28.85,260.00) scale(1.1472,1)" fill="#000" style='font-family:"DejaVu Sans", Verdana, sans-serif;font-size:25px;'>1cm</text>
<defs><radialGradient id="insG" cx="0.5" cy="0.5" r="0.7"><stop offset="0" stop-color="#dc9278"/><stop offset="1" stop-color="#d4846c"/></radialGradient></defs>
<rect x="185.0" y="247.0" width="228.0" height="228.0" fill="url(#insG)" />
<g clip-path="url(#clipInset)"><g fill="none" stroke-linecap="round" filter="url(#blurA)"><ellipse cx="258.8" cy="281.4" rx="9.6" ry="3.4" fill="#b0604a" opacity="0.6"/><ellipse cx="307.2" cy="330.4" rx="5.4" ry="5.5" fill="#b0604a" opacity="0.6"/><ellipse cx="193.5" cy="345.9" rx="5.5" ry="3.5" fill="#b0604a" opacity="0.6"/><ellipse cx="281.8" cy="435.5" rx="5.9" ry="4.1" fill="#b0604a" opacity="0.6"/><ellipse cx="328.1" cy="463.1" rx="9.0" ry="5.0" fill="#b0604a" opacity="0.6"/><ellipse cx="407.6" cy="257.6" rx="11.0" ry="4.4" fill="#b0604a" opacity="0.6"/><ellipse cx="217.9" cy="273.9" rx="7.2" ry="7.1" fill="#b0604a" opacity="0.6"/><ellipse cx="226.2" cy="379.6" rx="9.5" ry="4.9" fill="#b0604a" opacity="0.6"/><ellipse cx="309.9" cy="261.3" rx="5.4" ry="4.0" fill="#b0604a" opacity="0.6"/><ellipse cx="340.1" cy="344.5" rx="7.2" ry="5.9" fill="#b0604a" opacity="0.6"/><ellipse cx="288.3" cy="315.3" rx="10.6" ry="6.5" fill="#b0604a" opacity="0.6"/><ellipse cx="240.7" cy="378.0" rx="8.7" ry="7.4" fill="#b0604a" opacity="0.6"/><ellipse cx="351.3" cy="312.6" rx="11.9" ry="3.6" fill="#b0604a" opacity="0.6"/><ellipse cx="280.3" cy="419.6" rx="6.1" ry="5.4" fill="#b0604a" opacity="0.6"/><ellipse cx="193.9" cy="399.4" rx="10.4" ry="5.9" fill="#b0604a" opacity="0.6"/><ellipse cx="384.6" cy="318.5" rx="9.9" ry="6.0" fill="#b0604a" opacity="0.6"/><ellipse cx="317.2" cy="351.0" rx="10.9" ry="7.7" fill="#b0604a" opacity="0.6"/><ellipse cx="293.1" cy="398.4" rx="5.4" ry="6.5" fill="#b0604a" opacity="0.6"/><ellipse cx="332.5" cy="473.4" rx="10.8" ry="4.4" fill="#b0604a" opacity="0.6"/><ellipse cx="273.0" cy="399.5" rx="5.2" ry="5.3" fill="#b0604a" opacity="0.6"/><ellipse cx="223.3" cy="273.7" rx="5.4" ry="6.8" fill="#b0604a" opacity="0.6"/><ellipse cx="214.5" cy="303.5" rx="7.7" ry="7.4" fill="#b0604a" opacity="0.6"/><ellipse cx="203.4" cy="349.4" rx="8.8" ry="7.4" fill="#b0604a" opacity="0.6"/><ellipse cx="371.8" cy="444.0" rx="6.9" ry="5.1" fill="#b0604a" opacity="0.6"/><ellipse cx="266.8" cy="448.6" rx="11.7" ry="3.8" fill="#b0604a" opacity="0.6"/><ellipse cx="225.2" cy="299.9" rx="6.6" ry="5.4" fill="#b0604a" opacity="0.6"/><ellipse cx="319.3" cy="306.9" rx="5.0" ry="5.1" fill="#b0604a" opacity="0.6"/><ellipse cx="269.2" cy="376.1" rx="11.7" ry="6.5" fill="#b0604a" opacity="0.6"/><ellipse cx="302.5" cy="387.8" rx="9.7" ry="3.3" fill="#b0604a" opacity="0.6"/><ellipse cx="390.1" cy="424.8" rx="11.1" ry="7.0" fill="#b0604a" opacity="0.6"/><ellipse cx="274.5" cy="338.0" rx="5.7" ry="6.2" fill="#b0604a" opacity="0.6"/><ellipse cx="199.2" cy="262.4" rx="6.5" ry="3.8" fill="#b0604a" opacity="0.6"/><ellipse cx="262.5" cy="259.0" rx="5.0" ry="3.8" fill="#b0604a" opacity="0.6"/><ellipse cx="208.1" cy="329.9" rx="5.2" ry="7.4" fill="#b0604a" opacity="0.6"/><ellipse cx="325.0" cy="280.9" rx="6.8" ry="4.7" fill="#b0604a" opacity="0.6"/><ellipse cx="268.0" cy="275.0" rx="10.9" ry="8.0" fill="#b0604a" opacity="0.6"/><ellipse cx="291.2" cy="357.3" rx="5.6" ry="3.5" fill="#b0604a" opacity="0.6"/><ellipse cx="263.1" cy="307.4" rx="10.8" ry="3.8" fill="#b0604a" opacity="0.6"/><ellipse cx="190.3" cy="463.8" rx="8.7" ry="3.7" fill="#b0604a" opacity="0.6"/><ellipse cx="308.8" cy="253.2" rx="8.7" ry="7.9" fill="#b0604a" opacity="0.6"/><ellipse cx="381.8" cy="405.7" rx="6.8" ry="4.8" fill="#b0604a" opacity="0.6"/><ellipse cx="223.1" cy="423.0" rx="8.7" ry="6.9" fill="#b0604a" opacity="0.6"/><ellipse cx="260.2" cy="297.9" rx="10.7" ry="7.9" fill="#b0604a" opacity="0.6"/><ellipse cx="379.4" cy="430.8" rx="10.7" ry="6.7" fill="#b0604a" opacity="0.6"/><ellipse cx="236.7" cy="365.0" rx="7.5" ry="3.1" fill="#b0604a" opacity="0.6"/><ellipse cx="191.4" cy="310.7" rx="6.8" ry="6.5" fill="#b0604a" opacity="0.6"/><ellipse cx="403.1" cy="349.0" rx="11.6" ry="7.9" fill="#b0604a" opacity="0.6"/><ellipse cx="402.7" cy="330.1" rx="6.5" ry="4.1" fill="#b0604a" opacity="0.6"/><ellipse cx="229.8" cy="293.6" rx="9.4" ry="7.5" fill="#b0604a" opacity="0.6"/><ellipse cx="376.6" cy="356.3" rx="9.6" ry="7.0" fill="#b0604a" opacity="0.6"/><ellipse cx="204.3" cy="397.6" rx="11.4" ry="6.9" fill="#b0604a" opacity="0.6"/><ellipse cx="356.0" cy="356.0" rx="6.2" ry="6.9" fill="#b0604a" opacity="0.6"/><ellipse cx="260.8" cy="429.6" rx="11.8" ry="5.0" fill="#b0604a" opacity="0.6"/><ellipse cx="276.5" cy="462.9" rx="10.1" ry="3.9" fill="#b0604a" opacity="0.6"/><ellipse cx="214.0" cy="281.5" rx="11.3" ry="7.0" fill="#b0604a" opacity="0.6"/><ellipse cx="218.3" cy="435.4" rx="11.9" ry="6.3" fill="#b0604a" opacity="0.6"/><ellipse cx="264.9" cy="372.1" rx="5.9" ry="3.1" fill="#b0604a" opacity="0.6"/><ellipse cx="406.4" cy="395.1" rx="8.7" ry="7.7" fill="#b0604a" opacity="0.6"/><ellipse cx="283.9" cy="445.8" rx="10.8" ry="4.1" fill="#b0604a" opacity="0.6"/><ellipse cx="242.4" cy="313.8" rx="6.7" ry="5.9" fill="#b0604a" opacity="0.6"/><ellipse cx="244.1" cy="342.5" rx="5.9" ry="7.6" fill="#b0604a" opacity="0.6"/><ellipse cx="265.7" cy="351.5" rx="9.1" ry="7.5" fill="#b0604a" opacity="0.6"/><ellipse cx="280.9" cy="456.2" rx="8.5" ry="5.7" fill="#b0604a" opacity="0.6"/><ellipse cx="304.4" cy="251.3" rx="8.1" ry="3.9" fill="#b0604a" opacity="0.6"/><ellipse cx="185.9" cy="429.2" rx="6.2" ry="5.4" fill="#b0604a" opacity="0.6"/><ellipse cx="350.3" cy="373.9" rx="7.3" ry="5.6" fill="#b0604a" opacity="0.6"/><ellipse cx="311.6" cy="425.8" rx="5.7" ry="5.8" fill="#b0604a" opacity="0.6"/><ellipse cx="241.7" cy="310.1" rx="10.4" ry="5.5" fill="#b0604a" opacity="0.6"/><ellipse cx="313.1" cy="420.3" rx="11.4" ry="5.2" fill="#b0604a" opacity="0.6"/><ellipse cx="324.7" cy="362.3" rx="8.6" ry="6.5" fill="#b0604a" opacity="0.6"/><ellipse cx="288.1" cy="368.6" rx="8.3" ry="7.7" fill="#b0604a" opacity="0.6"/><ellipse cx="344.4" cy="446.9" rx="11.6" ry="4.3" fill="#b0604a" opacity="0.6"/><ellipse cx="312.6" cy="462.1" rx="10.9" ry="3.7" fill="#b0604a" opacity="0.6"/><ellipse cx="212.7" cy="347.8" rx="5.5" ry="4.2" fill="#b0604a" opacity="0.6"/><ellipse cx="201.7" cy="399.6" rx="10.5" ry="7.5" fill="#b0604a" opacity="0.6"/><ellipse cx="220.2" cy="410.3" rx="9.6" ry="3.7" fill="#b0604a" opacity="0.6"/><ellipse cx="386.3" cy="467.6" rx="6.5" ry="7.8" fill="#b0604a" opacity="0.6"/><ellipse cx="275.8" cy="358.1" rx="11.9" ry="7.2" fill="#b0604a" opacity="0.6"/><ellipse cx="221.8" cy="345.4" rx="8.6" ry="4.7" fill="#b0604a" opacity="0.6"/><ellipse cx="229.6" cy="319.6" rx="10.1" ry="3.1" fill="#b0604a" opacity="0.6"/><ellipse cx="311.3" cy="347.4" rx="5.1" ry="4.7" fill="#b0604a" opacity="0.6"/><ellipse cx="327.3" cy="363.8" rx="5.5" ry="7.9" fill="#b0604a" opacity="0.6"/><ellipse cx="364.7" cy="468.5" rx="5.7" ry="4.3" fill="#b0604a" opacity="0.6"/><ellipse cx="194.0" cy="424.6" rx="6.9" ry="3.6" fill="#b0604a" opacity="0.6"/><ellipse cx="281.3" cy="454.8" rx="10.7" ry="4.3" fill="#b0604a" opacity="0.6"/><ellipse cx="219.1" cy="456.6" rx="9.0" ry="6.5" fill="#b0604a" opacity="0.6"/><ellipse cx="205.4" cy="260.1" rx="9.8" ry="5.1" fill="#b0604a" opacity="0.6"/><ellipse cx="201.5" cy="460.9" rx="9.4" ry="7.0" fill="#b0604a" opacity="0.6"/><ellipse cx="204.1" cy="442.2" rx="5.5" ry="7.3" fill="#b0604a" opacity="0.6"/><ellipse cx="288.5" cy="324.3" rx="8.9" ry="7.6" fill="#b0604a" opacity="0.6"/><path d="M240.6 271.0 Q229.4 249.3 211.5 266.0" stroke="#eaa68c" stroke-width="5.3" opacity="0.7"/><path d="M219.4 463.7 Q215.8 438.7 190.9 433.9" stroke="#e49c84" stroke-width="6.0" opacity="0.7"/><path d="M218.6 323.3 Q230.7 349.1 248.4 326.7" stroke="#c87a64" stroke-width="6.0" opacity="0.7"/><path d="M414.6 363.4 Q423.0 382.1 415.7 401.3" stroke="#c87a64" stroke-width="5.8" opacity="0.7"/><path d="M296.3 440.3 Q286.4 460.2 264.8 465.4" stroke="#eaa68c" stroke-width="5.5" opacity="0.7"/><path d="M378.9 409.6 Q372.8 391.0 355.1 382.3" stroke="#eeae96" stroke-width="7.0" opacity="0.7"/><path d="M178.5 390.1 Q207.3 393.5 205.6 364.6" stroke="#c87a64" stroke-width="7.0" opacity="0.7"/><path d="M388.3 400.9 Q375.2 413.4 382.4 430.0" stroke="#e49c84" stroke-width="5.1" opacity="0.7"/><path d="M240.9 240.9 Q248.3 269.3 219.1 265.9" stroke="#f2bca6" stroke-width="5.2" opacity="0.7"/><path d="M411.6 314.3 Q400.7 318.5 399.1 330.0" stroke="#e49c84" stroke-width="5.3" opacity="0.7"/><path d="M335.7 299.6 Q322.0 285.3 339.6 276.2" stroke="#eaa68c" stroke-width="5.7" opacity="0.7"/><path d="M185.2 245.4 Q184.3 260.6 175.4 273.0" stroke="#f4c4ae" stroke-width="7.1" opacity="0.7"/><path d="M213.0 454.3 Q204.8 430.0 222.3 411.4" stroke="#c87a64" stroke-width="7.5" opacity="0.7"/><path d="M211.6 413.8 Q191.7 415.7 198.1 396.8" stroke="#f4c4ae" stroke-width="6.4" opacity="0.7"/><path d="M354.8 434.9 Q368.1 450.5 381.0 466.4" stroke="#eeae96" stroke-width="7.0" opacity="0.7"/><path d="M318.1 454.3 Q320.6 427.0 298.6 410.7" stroke="#eeae96" stroke-width="4.6" opacity="0.7"/><path d="M331.1 470.3 Q301.8 467.6 303.9 496.9" stroke="#eeae96" stroke-width="6.4" opacity="0.7"/><path d="M341.8 357.4 Q368.0 345.6 393.7 358.5" stroke="#f4c4ae" stroke-width="7.2" opacity="0.7"/><path d="M197.5 366.2 Q181.5 347.2 196.5 327.3" stroke="#f2bca6" stroke-width="5.2" opacity="0.7"/><path d="M360.3 295.4 Q335.1 290.0 337.7 264.3" stroke="#eeae96" stroke-width="5.9" opacity="0.7"/><path d="M342.5 424.1 Q339.7 393.1 308.6 393.4" stroke="#eaa68c" stroke-width="5.5" opacity="0.7"/><path d="M334.6 406.3 Q326.1 396.9 316.3 388.8" stroke="#e49c84" stroke-width="5.3" opacity="0.7"/><path d="M339.6 406.1 Q331.8 392.4 325.4 377.9" stroke="#e49c84" stroke-width="5.9" opacity="0.7"/><path d="M363.0 478.4 Q353.8 453.7 332.0 468.5" stroke="#e49c84" stroke-width="4.6" opacity="0.7"/><path d="M287.4 436.8 Q308.4 444.3 324.7 429.2" stroke="#eaa68c" stroke-width="7.2" opacity="0.7"/><path d="M403.0 257.9 Q417.6 281.4 445.1 284.7" stroke="#f2bca6" stroke-width="4.9" opacity="0.7"/><path d="M376.0 362.1 Q403.0 356.6 412.4 330.7" stroke="#e49c84" stroke-width="5.7" opacity="0.7"/><path d="M214.0 468.0 Q196.1 456.3 198.9 435.1" stroke="#e49c84" stroke-width="5.5" opacity="0.7"/><path d="M252.4 441.7 Q277.6 425.0 302.5 442.2" stroke="#eeae96" stroke-width="7.3" opacity="0.7"/><path d="M223.0 242.8 Q243.7 226.4 221.0 212.7" stroke="#e49c84" stroke-width="7.5" opacity="0.7"/><path d="M319.3 326.6 Q295.5 313.0 291.5 340.1" stroke="#eeae96" stroke-width="4.7" opacity="0.7"/><path d="M337.2 392.4 Q352.1 418.0 372.1 439.8" stroke="#f2bca6" stroke-width="5.1" opacity="0.7"/><path d="M266.5 469.5 Q281.7 447.1 305.7 434.6" stroke="#f4c4ae" stroke-width="6.1" opacity="0.7"/><path d="M351.3 251.9 Q336.6 234.4 347.1 214.1" stroke="#c87a64" stroke-width="7.1" opacity="0.7"/><path d="M294.0 458.9 Q282.5 450.7 268.5 450.5" stroke="#f2bca6" stroke-width="5.4" opacity="0.7"/><path d="M356.1 474.3 Q344.6 496.7 353.1 520.5" stroke="#f4c4ae" stroke-width="6.5" opacity="0.7"/><path d="M204.3 394.4 Q229.3 389.6 240.0 412.6" stroke="#f4c4ae" stroke-width="5.2" opacity="0.7"/><path d="M397.0 479.2 Q380.1 468.5 372.7 487.1" stroke="#eeae96" stroke-width="5.0" opacity="0.7"/><path d="M311.2 316.6 Q282.5 325.8 275.7 355.2" stroke="#eeae96" stroke-width="6.7" opacity="0.7"/><path d="M276.1 339.3 Q260.0 328.7 241.5 334.0" stroke="#eeae96" stroke-width="6.0" opacity="0.7"/><path d="M315.7 326.4 Q294.3 313.1 299.8 288.5" stroke="#eaa68c" stroke-width="4.8" opacity="0.7"/><path d="M394.7 332.3 Q390.8 311.8 372.0 302.7" stroke="#eeae96" stroke-width="4.9" opacity="0.7"/><path d="M279.2 423.3 Q289.5 395.8 298.8 367.9" stroke="#eeae96" stroke-width="5.7" opacity="0.7"/><path d="M402.1 438.1 Q430.1 422.7 438.3 391.7" stroke="#eeae96" stroke-width="5.2" opacity="0.7"/><path d="M212.3 473.3 Q239.2 482.2 253.3 506.8" stroke="#e49c84" stroke-width="4.8" opacity="0.7"/><path d="M365.3 240.3 Q364.0 271.8 395.5 270.7" stroke="#c87a64" stroke-width="5.4" opacity="0.7"/><path d="M206.4 300.4 Q205.3 269.6 174.9 264.2" stroke="#eeae96" stroke-width="5.4" opacity="0.7"/><path d="M406.2 286.0 Q379.5 310.1 402.6 337.5" stroke="#f4c4ae" stroke-width="5.4" opacity="0.7"/><path d="M287.9 470.1 Q271.8 447.6 253.8 426.5" stroke="#eaa68c" stroke-width="6.1" opacity="0.7"/><path d="M182.2 338.8 Q188.0 320.8 169.1 320.9" stroke="#c87a64" stroke-width="6.4" opacity="0.7"/><path d="M194.9 294.7 Q179.2 302.3 163.9 310.6" stroke="#c87a64" stroke-width="5.5" opacity="0.7"/><path d="M278.0 403.8 Q297.7 424.6 294.7 453.0" stroke="#f4c4ae" stroke-width="4.7" opacity="0.7"/><path d="M296.4 288.1 Q299.6 274.5 299.2 260.5" stroke="#f2bca6" stroke-width="6.8" opacity="0.7"/><path d="M247.3 468.5 Q233.1 455.0 219.8 469.2" stroke="#e49c84" stroke-width="7.2" opacity="0.7"/><path d="M188.8 382.8 Q209.8 398.5 208.4 372.3" stroke="#f4c4ae" stroke-width="4.9" opacity="0.7"/><path d="M187.7 254.4 Q177.7 286.8 143.9 289.2" stroke="#c87a64" stroke-width="4.8" opacity="0.7"/><path d="M194.4 279.8 Q204.0 300.8 211.2 322.7" stroke="#e49c84" stroke-width="4.6" opacity="0.7"/><path d="M337.8 330.9 Q314.3 331.1 314.4 354.6" stroke="#eeae96" stroke-width="4.7" opacity="0.7"/><path d="M194.8 340.8 Q202.2 317.1 226.7 312.8" stroke="#e49c84" stroke-width="5.6" opacity="0.7"/><path d="M376.3 437.3 Q365.7 440.6 356.3 446.3" stroke="#f2bca6" stroke-width="6.1" opacity="0.7"/><path d="M284.4 317.6 Q276.2 298.7 281.3 278.7" stroke="#eaa68c" stroke-width="6.9" opacity="0.7"/><path d="M362.8 249.8 Q378.4 231.7 384.8 254.6" stroke="#f2bca6" stroke-width="5.1" opacity="0.7"/><path d="M190.4 385.3 Q196.7 412.8 168.6 410.7" stroke="#eeae96" stroke-width="5.3" opacity="0.7"/><path d="M350.6 316.0 Q361.6 328.0 347.3 335.8" stroke="#c87a64" stroke-width="7.3" opacity="0.7"/><path d="M191.0 438.2 Q208.9 454.8 229.0 468.6" stroke="#e49c84" stroke-width="6.9" opacity="0.7"/><path d="M398.8 435.6 Q394.0 466.8 425.6 465.1" stroke="#c87a64" stroke-width="5.4" opacity="0.7"/><path d="M344.6 276.3 Q345.0 303.6 349.3 330.6" stroke="#f4c4ae" stroke-width="4.7" opacity="0.7"/><path d="M223.3 420.7 Q200.2 432.4 223.7 443.3" stroke="#f4c4ae" stroke-width="6.1" opacity="0.7"/><path d="M214.4 342.4 Q227.2 344.5 232.4 356.4" stroke="#eaa68c" stroke-width="4.8" opacity="0.7"/><path d="M297.1 410.3 Q281.9 411.2 269.4 420.0" stroke="#f4c4ae" stroke-width="7.2" opacity="0.7"/><path d="M232.6 369.3 Q222.5 342.3 240.1 319.4" stroke="#f2bca6" stroke-width="5.4" opacity="0.7"/><path d="M313.9 329.5 Q325.4 314.6 311.8 301.6" stroke="#eaa68c" stroke-width="5.2" opacity="0.7"/><path d="M243.9 457.8 Q236.7 473.0 252.5 478.7" stroke="#eaa68c" stroke-width="6.0" opacity="0.7"/><path d="M231.7 434.0 Q231.0 398.2 197.6 385.1" stroke="#e49c84" stroke-width="7.1" opacity="0.7"/><path d="M231.6 347.6 Q202.8 357.8 193.0 386.8" stroke="#eeae96" stroke-width="5.1" opacity="0.7"/><path d="M413.4 380.0 Q421.4 356.0 445.0 365.1" stroke="#e49c84" stroke-width="6.3" opacity="0.7"/><path d="M364.9 399.5 Q388.0 390.0 410.3 401.4" stroke="#f2bca6" stroke-width="5.2" opacity="0.7"/><path d="M265.3 273.9 Q274.4 287.0 273.9 302.9" stroke="#c87a64" stroke-width="7.2" opacity="0.7"/><path d="M374.6 436.5 Q363.2 451.0 345.3 455.4" stroke="#eeae96" stroke-width="5.1" opacity="0.7"/><path d="M369.8 371.5 Q378.9 381.0 392.0 380.8" stroke="#f4c4ae" stroke-width="5.0" opacity="0.7"/><path d="M305.8 396.7 Q308.1 425.5 281.1 415.2" stroke="#c87a64" stroke-width="5.4" opacity="0.7"/><path d="M408.5 315.0 Q394.6 304.2 377.2 301.0" stroke="#f2bca6" stroke-width="6.4" opacity="0.7"/><path d="M270.7 337.2 Q294.3 346.6 305.6 323.9" stroke="#eeae96" stroke-width="7.0" opacity="0.7"/><path d="M274.5 451.9 Q255.8 431.6 248.8 458.3" stroke="#f4c4ae" stroke-width="4.9" opacity="0.7"/><path d="M372.6 335.2 Q341.7 333.2 321.4 310.0" stroke="#eaa68c" stroke-width="4.9" opacity="0.7"/><path d="M244.4 365.1 Q255.5 360.0 266.1 354.1" stroke="#eaa68c" stroke-width="5.4" opacity="0.7"/><path d="M380.1 250.4 Q391.2 237.4 407.9 233.5" stroke="#c87a64" stroke-width="5.7" opacity="0.7"/><path d="M396.5 388.9 Q389.7 370.6 408.5 365.3" stroke="#eaa68c" stroke-width="6.4" opacity="0.7"/><path d="M325.6 287.1 Q300.7 268.1 283.6 294.3" stroke="#f4c4ae" stroke-width="5.0" opacity="0.7"/><path d="M263.0 275.9 Q291.7 286.2 314.7 266.2" stroke="#f4c4ae" stroke-width="7.0" opacity="0.7"/><path d="M339.7 400.3 Q329.7 415.2 323.7 432.1" stroke="#c87a64" stroke-width="6.8" opacity="0.7"/><path d="M334.0 314.0 Q327.5 331.8 334.2 349.5" stroke="#f4c4ae" stroke-width="5.8" opacity="0.7"/><path d="M180.7 388.5 Q166.9 402.7 151.4 390.5" stroke="#e49c84" stroke-width="7.0" opacity="0.7"/><path d="M373.6 336.1 Q386.5 349.3 404.9 350.1" stroke="#e49c84" stroke-width="6.0" opacity="0.7"/><path d="M336.0 249.8 Q348.6 276.9 374.9 291.3" stroke="#c87a64" stroke-width="6.0" opacity="0.7"/><path d="M188.3 360.9 Q154.8 368.0 146.5 401.2" stroke="#eeae96" stroke-width="7.5" opacity="0.7"/><path d="M354.4 435.6 Q364.2 463.5 374.9 491.2" stroke="#eaa68c" stroke-width="6.6" opacity="0.7"/><path d="M351.7 293.1 Q373.5 280.0 373.8 254.6" stroke="#f2bca6" stroke-width="7.2" opacity="0.7"/><path d="M242.4 435.8 Q271.3 438.5 267.2 467.2" stroke="#eaa68c" stroke-width="6.3" opacity="0.7"/><path d="M325.9 297.0 Q312.7 303.7 306.5 317.1" stroke="#c87a64" stroke-width="7.3" opacity="0.7"/><path d="M341.5 454.9 Q337.3 486.7 366.6 499.7" stroke="#f4c4ae" stroke-width="4.6" opacity="0.7"/><path d="M385.3 471.9 Q368.5 486.8 346.2 483.8" stroke="#eeae96" stroke-width="5.3" opacity="0.7"/><path d="M306.2 445.6 Q311.1 427.7 303.6 410.8" stroke="#f2bca6" stroke-width="6.2" opacity="0.7"/><path d="M263.3 423.5 Q254.9 439.7 238.0 433.1" stroke="#eeae96" stroke-width="5.4" opacity="0.7"/><path d="M301.4 314.4 Q323.7 287.7 355.0 302.8" stroke="#f2bca6" stroke-width="6.7" opacity="0.7"/><path d="M358.0 293.2 Q348.3 313.9 346.6 336.7" stroke="#f2bca6" stroke-width="7.2" opacity="0.7"/><path d="M207.3 294.5 Q221.8 271.8 195.4 277.4" stroke="#f2bca6" stroke-width="5.4" opacity="0.7"/><path d="M303.2 368.2 Q280.0 360.8 275.8 384.8" stroke="#f2bca6" stroke-width="6.4" opacity="0.7"/><path d="M291.4 272.3 Q311.9 282.7 318.8 260.8" stroke="#eeae96" stroke-width="4.7" opacity="0.7"/><path d="M210.4 399.7 Q230.4 428.6 204.0 451.8" stroke="#eeae96" stroke-width="6.4" opacity="0.7"/><path d="M312.8 324.1 Q283.9 322.5 289.7 294.2" stroke="#c87a64" stroke-width="6.0" opacity="0.7"/><path d="M215.4 240.1 Q219.3 258.6 234.9 248.0" stroke="#eaa68c" stroke-width="4.7" opacity="0.7"/><path d="M365.8 243.0 Q344.1 216.9 311.1 224.8" stroke="#eaa68c" stroke-width="6.1" opacity="0.7"/><path d="M332.5 395.4 Q313.5 407.1 294.1 418.0" stroke="#eeae96" stroke-width="5.4" opacity="0.7"/><path d="M186.9 453.4 Q216.0 434.7 196.9 405.9" stroke="#e49c84" stroke-width="6.7" opacity="0.7"/><path d="M289.0 418.0 Q269.3 403.4 261.2 426.6" stroke="#eaa68c" stroke-width="6.4" opacity="0.7"/><path d="M205.2 453.9 Q236.3 451.4 256.7 427.8" stroke="#eeae96" stroke-width="5.3" opacity="0.7"/><path d="M310.7 344.7 Q327.0 327.6 320.5 304.9" stroke="#c87a64" stroke-width="7.3" opacity="0.7"/><path d="M394.1 260.5 Q379.7 280.1 367.3 259.3" stroke="#c87a64" stroke-width="5.1" opacity="0.7"/><path d="M214.0 459.6 Q225.1 474.4 226.7 492.8" stroke="#e49c84" stroke-width="7.2" opacity="0.7"/><path d="M329.5 406.3 Q315.8 380.0 299.5 355.3" stroke="#f4c4ae" stroke-width="6.6" opacity="0.7"/><path d="M385.1 344.9 Q391.2 322.3 378.3 302.7" stroke="#eaa68c" stroke-width="5.7" opacity="0.7"/><path d="M318.4 375.6 Q306.4 394.2 328.5 394.4" stroke="#f4c4ae" stroke-width="7.3" opacity="0.7"/><path d="M259.5 274.0 Q271.9 266.5 280.8 277.9" stroke="#c87a64" stroke-width="4.6" opacity="0.7"/><path d="M191.6 251.2 Q219.1 240.7 222.9 211.6" stroke="#f4c4ae" stroke-width="7.2" opacity="0.7"/><path d="M191.2 448.3 Q226.0 450.3 240.8 418.7" stroke="#eaa68c" stroke-width="5.1" opacity="0.7"/><path d="M183.3 467.8 Q215.5 472.0 225.8 441.2" stroke="#c87a64" stroke-width="6.4" opacity="0.7"/><path d="M291.9 271.8 Q307.8 252.4 303.8 227.6" stroke="#f2bca6" stroke-width="5.8" opacity="0.7"/><path d="M180.1 301.6 Q168.7 324.1 170.2 349.2" stroke="#f2bca6" stroke-width="6.8" opacity="0.7"/><path d="M322.5 354.3 Q330.7 381.9 310.8 402.7" stroke="#eeae96" stroke-width="5.8" opacity="0.7"/><path d="M364.4 323.2 Q372.2 299.3 352.7 283.4" stroke="#eeae96" stroke-width="6.2" opacity="0.7"/><path d="M245.3 344.7 Q227.9 354.7 214.2 340.0" stroke="#eeae96" stroke-width="4.5" opacity="0.7"/><path d="M295.3 358.0 Q299.5 344.9 303.2 331.7" stroke="#f2bca6" stroke-width="7.4" opacity="0.7"/><path d="M301.2 378.7 Q333.9 389.0 329.7 422.9" stroke="#eaa68c" stroke-width="6.0" opacity="0.7"/><path d="M201.9 392.8 Q229.2 396.7 246.9 417.8" stroke="#eeae96" stroke-width="6.4" opacity="0.7"/><path d="M262.1 336.3 Q227.5 337.1 218.3 370.5" stroke="#c87a64" stroke-width="4.6" opacity="0.7"/><path d="M225.5 303.2 Q245.3 296.4 258.1 279.9" stroke="#c87a64" stroke-width="5.2" opacity="0.7"/><path d="M287.9 367.6 Q281.3 342.3 289.3 317.5" stroke="#f2bca6" stroke-width="6.2" opacity="0.7"/><path d="M302.8 448.3 Q280.1 446.4 262.7 461.3" stroke="#e49c84" stroke-width="5.8" opacity="0.7"/><path d="M364.5 379.0 Q391.7 379.2 391.5 406.4" stroke="#eaa68c" stroke-width="6.0" opacity="0.7"/><path d="M240.5 421.1 Q241.0 396.2 261.2 381.5" stroke="#eaa68c" stroke-width="6.7" opacity="0.7"/><path d="M322.7 323.7 Q313.2 353.7 327.7 381.7" stroke="#c87a64" stroke-width="7.5" opacity="0.7"/><path d="M215.3 397.9 Q203.1 416.1 224.1 422.4" stroke="#f2bca6" stroke-width="6.7" opacity="0.7"/><path d="M281.6 287.1 Q284.9 268.3 265.8 268.6" stroke="#e49c84" stroke-width="5.9" opacity="0.7"/><path d="M178.1 445.0 Q174.1 472.8 151.5 456.3" stroke="#f2bca6" stroke-width="5.9" opacity="0.7"/><path d="M209.7 384.9 Q200.7 415.7 168.7 412.9" stroke="#e49c84" stroke-width="6.6" opacity="0.7"/><path d="M318.9 395.3 Q325.9 371.8 345.4 356.9" stroke="#c87a64" stroke-width="6.6" opacity="0.7"/><path d="M383.8 403.1 Q379.1 382.4 359.8 373.5" stroke="#c87a64" stroke-width="6.6" opacity="0.7"/><path d="M394.2 298.2 Q364.5 298.5 354.9 326.7" stroke="#e49c84" stroke-width="5.9" opacity="0.7"/><path d="M179.8 446.0 Q154.6 461.9 133.7 440.7" stroke="#c87a64" stroke-width="5.5" opacity="0.7"/><path d="M177.6 439.6 Q194.6 443.5 197.9 426.4" stroke="#eaa68c" stroke-width="5.0" opacity="0.7"/><path d="M366.5 465.7 Q354.2 468.0 342.7 462.8" stroke="#f4c4ae" stroke-width="5.1" opacity="0.7"/><path d="M291.6 243.9 Q303.7 229.2 300.8 210.3" stroke="#c87a64" stroke-width="7.3" opacity="0.7"/><path d="M226.5 404.2 Q195.0 405.3 187.1 435.8" stroke="#f4c4ae" stroke-width="5.6" opacity="0.7"/><path d="M188.9 305.8 Q178.2 308.6 172.3 317.9" stroke="#e49c84" stroke-width="6.4" opacity="0.7"/><path d="M340.3 379.2 Q349.6 393.3 365.2 399.6" stroke="#f4c4ae" stroke-width="7.4" opacity="0.7"/><path d="M418.6 470.6 Q410.7 494.6 392.8 476.9" stroke="#eeae96" stroke-width="6.9" opacity="0.7"/><path d="M330.4 352.6 Q308.2 368.5 303.5 341.6" stroke="#f2bca6" stroke-width="6.5" opacity="0.7"/><path d="M378.5 430.9 Q359.7 457.5 327.3 461.9" stroke="#c87a64" stroke-width="4.9" opacity="0.7"/><path d="M379.3 325.1 Q393.3 316.4 397.4 300.4" stroke="#f2bca6" stroke-width="7.4" opacity="0.7"/><path d="M341.3 355.6 Q356.9 333.6 359.0 306.7" stroke="#c87a64" stroke-width="5.4" opacity="0.7"/><path d="M292.5 342.8 Q282.6 320.8 262.3 307.6" stroke="#f2bca6" stroke-width="7.1" opacity="0.7"/><path d="M189.0 438.7 Q220.3 439.3 231.6 410.0" stroke="#f2bca6" stroke-width="6.4" opacity="0.7"/><path d="M178.7 242.8 Q204.5 247.8 222.8 229.0" stroke="#eeae96" stroke-width="6.2" opacity="0.7"/><path d="M384.3 284.6 Q355.4 278.3 335.2 299.8" stroke="#e49c84" stroke-width="6.9" opacity="0.7"/><path d="M216.1 453.9 Q190.9 444.3 176.3 421.6" stroke="#f4c4ae" stroke-width="6.9" opacity="0.7"/><path d="M380.5 287.4 Q361.9 272.3 366.0 248.8" stroke="#e49c84" stroke-width="6.5" opacity="0.7"/><path d="M203.7 268.4 Q179.8 280.2 157.3 294.3" stroke="#f4c4ae" stroke-width="4.7" opacity="0.7"/><path d="M289.4 274.7 Q269.6 277.7 249.6 276.8" stroke="#c87a64" stroke-width="4.5" opacity="0.7"/><path d="M381.0 352.3 Q352.9 359.1 337.9 334.5" stroke="#f2bca6" stroke-width="5.8" opacity="0.7"/><path d="M420.0 402.2 Q433.9 414.7 434.5 433.4" stroke="#eeae96" stroke-width="6.3" opacity="0.7"/><path d="M342.2 463.6 Q328.3 489.7 313.5 515.4" stroke="#e49c84" stroke-width="6.8" opacity="0.7"/><path d="M210.4 291.2 Q189.3 280.1 188.8 303.9" stroke="#c87a64" stroke-width="5.6" opacity="0.7"/><path d="M291.3 366.1 Q296.3 352.5 294.9 337.9" stroke="#e49c84" stroke-width="5.3" opacity="0.7"/><path d="M187.9 309.4 Q169.2 320.0 163.5 340.8" stroke="#f2bca6" stroke-width="7.1" opacity="0.7"/><path d="M259.5 288.8 Q246.4 274.1 234.8 290.1" stroke="#c87a64" stroke-width="5.4" opacity="0.7"/><path d="M318.7 392.4 Q310.1 379.4 323.3 371.3" stroke="#e49c84" stroke-width="6.1" opacity="0.7"/><path d="M187.2 312.1 Q201.8 291.6 214.8 313.2" stroke="#f4c4ae" stroke-width="6.8" opacity="0.7"/><path d="M189.7 360.2 Q177.6 338.5 156.0 350.7" stroke="#c87a64" stroke-width="6.6" opacity="0.7"/><path d="M321.1 403.4 Q324.5 426.6 332.0 448.8" stroke="#eaa68c" stroke-width="4.8" opacity="0.7"/><path d="M219.4 248.9 Q216.1 219.7 228.1 193.0" stroke="#f2bca6" stroke-width="7.1" opacity="0.7"/><path d="M209.0 314.2 Q217.5 283.9 195.5 261.4" stroke="#eeae96" stroke-width="5.5" opacity="0.7"/><path d="M280.5 394.0 Q289.3 386.5 300.8 385.1" stroke="#eeae96" stroke-width="7.0" opacity="0.7"/><path d="M364.6 341.1 Q378.9 316.8 352.5 307.0" stroke="#c87a64" stroke-width="5.7" opacity="0.7"/><path d="M320.0 465.1 Q339.9 467.1 358.8 460.4" stroke="#eeae96" stroke-width="4.7" opacity="0.7"/><path d="M290.7 455.0 Q295.3 424.6 264.8 428.5" stroke="#c87a64" stroke-width="4.9" opacity="0.7"/><path d="M411.8 261.2 Q438.0 268.4 428.9 242.8" stroke="#c87a64" stroke-width="6.2" opacity="0.7"/><path d="M285.4 418.6 Q295.0 399.6 316.1 402.5" stroke="#c87a64" stroke-width="7.1" opacity="0.7"/><path d="M353.8 260.2 Q338.5 241.4 320.4 225.3" stroke="#f2bca6" stroke-width="7.2" opacity="0.7"/><path d="M187.9 247.7 Q217.1 249.3 239.3 268.2" stroke="#f4c4ae" stroke-width="4.7" opacity="0.7"/><path d="M251.2 415.1 Q264.3 438.9 278.6 462.1" stroke="#eeae96" stroke-width="5.4" opacity="0.7"/><path d="M407.4 414.7 Q398.8 440.1 381.3 419.7" stroke="#eeae96" stroke-width="5.6" opacity="0.7"/><path d="M333.0 391.1 Q324.6 412.3 302.2 408.6" stroke="#f2bca6" stroke-width="6.9" opacity="0.7"/><path d="M313.9 310.2 Q345.0 311.7 368.6 332.1" stroke="#f4c4ae" stroke-width="5.5" opacity="0.7"/><path d="M323.4 474.6 Q342.5 460.1 345.0 436.2" stroke="#e49c84" stroke-width="7.4" opacity="0.7"/><path d="M235.3 333.0 Q207.9 341.3 199.1 368.7" stroke="#e49c84" stroke-width="5.3" opacity="0.7"/><path d="M175.4 303.1 Q163.6 327.3 137.0 323.5" stroke="#eeae96" stroke-width="5.4" opacity="0.7"/><path d="M209.5 453.7 Q221.3 429.4 235.3 452.6" stroke="#f4c4ae" stroke-width="6.6" opacity="0.7"/><path d="M398.9 323.2 Q424.6 321.2 435.1 344.7" stroke="#eaa68c" stroke-width="6.9" opacity="0.7"/><path d="M351.9 475.7 Q343.0 484.2 343.8 496.5" stroke="#c87a64" stroke-width="5.1" opacity="0.7"/></g></g>
<path d="M 257.3 285.7 C 248 288, 245 297, 250.6 312 C 258 330, 270 345, 275 362 C 280 380, 281.3 400, 281.3 427.7" fill="none" stroke="#d01010" stroke-width="2.7"/>
<path d="M 213.2 341.3 C 214 328, 222 313, 231.4 312.5 C 240 312, 246 325, 248.7 339.4 C 251 350, 252 356, 252.5 360.5" fill="none" stroke="#d01818" stroke-width="2.8" stroke-dasharray="1.3 1.0"/>
<path d="M 260.2 377.8 C 266 384, 272 389, 277.5 391.2 C 288 396, 300 400, 310 406 C 318 412, 321.6 420, 321.6 433.4" fill="none" stroke="#d01818" stroke-width="2.8" stroke-dasharray="1.3 1.0"/>
<path d="M 242 374 C 255 364, 268 354, 277.5 349 C 286 344, 296 342, 304.3 349 C 312 356, 318 368, 323.5 381.6 L 329.3 385.4" fill="none" stroke="#c01010" stroke-width="2.6" stroke-dasharray="5 3"/>
<rect x="276.5" y="465.0" width="131.5" height="6.0" fill="#000" />
<rect x="183" y="244.5" width="232" height="233.5" fill="none" stroke="#000" stroke-width="5"/>
<text transform="translate(184.66,506.50) scale(1.0751,1)" fill="#000" style='font-family:"DejaVu Sans", Verdana, sans-serif;font-size:27.7px;'>-Entanglement-</text>
<text transform="translate(2.74,48.70) scale(0.9873,1)" fill="#000" style='font-family:"Liberation Sans", Arial, sans-serif;font-size:50px;'>(a)</text>
<defs><clipPath id="clipB"><rect x="548.6" y="40" width="363.8" height="371.5"/></clipPath></defs>
<g clip-path="url(#clipB)"><polyline points="549.0,93.7 552.8,93.8 556.7,93.9 560.5,94.3 564.4,94.7 568.2,95.2 572.1,95.9 575.9,96.6 579.7,97.5 583.6,98.5 587.4,99.5 591.3,100.8 595.1,103.6 599.0,107.3 602.8,110.9 606.6,114.3 610.5,117.7 614.3,121.2 618.2,124.8 622.0,128.4 625.9,132.1 629.7,136.1 633.5,140.1 637.4,144.1 641.2,148.1 645.1,152.1 648.9,155.9 652.8,159.5 656.6,163.1 660.4,166.4 664.3,169.5 668.1,172.4 672.0,175.1 675.8,177.3 679.7,179.5 683.5,182.5 687.3,188.3 691.2,195.6 695.0,201.3 698.9,205.6 702.7,209.5 706.6,212.7 710.4,215.2 714.2,217.2 718.1,219.4 721.9,222.3 725.8,225.9 729.6,229.7 733.4,233.4 737.3,237.2 741.1,241.1 745.0,245.1 748.8,249.2 752.7,253.5 756.5,257.6 760.3,261.8 764.2,266.0 768.0,270.1 771.9,274.3 775.7,278.5 779.6,282.6 783.4,286.5 787.2,290.4 791.1,294.2 794.9,298.0 798.8,301.8 802.6,305.6 806.5,309.4 810.3,313.2 814.1,317.0 818.0,320.7 821.8,324.5 825.7,328.2 829.5,332.0 833.4,335.7 837.2,339.4 841.0,343.0 844.9,346.7 848.7,350.3 852.6,353.9 856.4,357.5 860.3,361.1 864.1,364.7 867.9,368.3 871.8,371.8 875.6,375.3 879.5,378.9 883.3,382.4 887.2,385.8 891.0,389.3" fill="none" stroke="#a4c2f4" stroke-width="5.5" stroke-linejoin="round" stroke-linecap="round" stroke-linecap="butt"/><rect x="580.7" y="91.0" width="18.6" height="18.6" fill="#a4c2f4" /><rect x="592.3" y="100.6" width="18.6" height="18.6" fill="#a4c2f4" /><rect x="603.9" y="110.9" width="18.6" height="18.6" fill="#a4c2f4" /><rect x="615.5" y="121.8" width="18.6" height="18.6" fill="#a4c2f4" /><rect x="627.1" y="133.8" width="18.6" height="18.6" fill="#a4c2f4" /><rect x="638.7" y="145.7" width="18.6" height="18.6" fill="#a4c2f4" /><rect x="650.3" y="156.4" width="18.6" height="18.6" fill="#a4c2f4" /><rect x="661.9" y="165.3" width="18.6" height="18.6" fill="#a4c2f4" /><rect x="673.5" y="172.5" width="18.6" height="18.6" fill="#a4c2f4" /><rect x="685.1" y="191.2" width="18.6" height="18.6" fill="#a4c2f4" /><rect x="696.7" y="202.9" width="18.6" height="18.6" fill="#a4c2f4" /><rect x="708.3" y="209.8" width="18.6" height="18.6" fill="#a4c2f4" /><polyline points="549.0,137.5 552.8,138.0 556.7,138.6 560.5,139.3 564.4,140.0 568.2,140.7 572.1,141.4 575.9,142.2 579.7,143.1 583.6,144.0 587.4,144.9 591.3,145.6 595.1,146.3 599.0,147.0 602.8,147.9 606.6,149.1 610.5,151.0 614.3,153.3 618.2,155.7 622.0,157.6 625.9,159.1 629.7,160.4 633.5,161.6 637.4,162.8 641.2,164.2 645.1,165.8 648.9,167.5 652.8,169.4 656.6,171.4 660.4,173.4 664.3,175.5 668.1,177.7 672.0,180.0 675.8,182.3 679.7,184.8 683.5,187.3 687.3,190.0 691.2,193.0 695.0,196.3 698.9,200.0 702.7,203.7 706.6,207.5 710.4,211.4 714.2,215.4 718.1,219.2 721.9,222.8 725.8,226.1 729.6,229.3 733.4,232.4 737.3,235.6 741.1,239.0 745.0,242.7 748.8,246.5 752.7,250.5 756.5,254.5 760.3,258.8 764.2,263.3 768.0,267.9 771.9,271.9 775.7,275.3 779.6,278.3 783.4,281.0 787.2,283.7 791.1,286.3 794.9,289.2 798.8,292.3 802.6,295.5 806.5,298.8 810.3,302.2 814.1,305.7 818.0,309.2 821.8,312.7 825.7,316.2 829.5,319.7 833.4,323.2 837.2,326.6 841.0,329.9 844.9,333.2 848.7,336.4 852.6,339.7 856.4,342.9 860.3,346.1 864.1,349.3 867.9,352.5 871.8,355.7 875.6,358.8 879.5,361.9 883.3,365.0 887.2,368.1 891.0,371.2" fill="none" stroke="#f87878" stroke-width="5.5" stroke-linejoin="round" stroke-linecap="round" stroke-linecap="butt"/><circle cx="589.0" cy="145.2" r="10.5" fill="#f87878" /><circle cx="598.6" cy="147.0" r="10.5" fill="#f87878" /><circle cx="608.2" cy="149.8" r="10.5" fill="#f87878" /><circle cx="617.8" cy="155.4" r="10.5" fill="#f87878" /><circle cx="627.4" cy="159.6" r="10.5" fill="#f87878" /><circle cx="637.0" cy="162.7" r="10.5" fill="#f87878" /><circle cx="646.6" cy="166.5" r="10.5" fill="#f87878" /><circle cx="656.2" cy="171.2" r="10.5" fill="#f87878" /><circle cx="665.8" cy="176.3" r="10.5" fill="#f87878" /><circle cx="675.4" cy="182.1" r="10.5" fill="#f87878" /><circle cx="685.0" cy="188.3" r="10.5" fill="#f87878" /><circle cx="694.6" cy="196.0" r="10.5" fill="#f87878" /><circle cx="704.2" cy="205.2" r="10.5" fill="#f87878" /><circle cx="713.8" cy="214.9" r="10.5" fill="#f87878" /><circle cx="723.4" cy="224.1" r="10.5" fill="#f87878" /><circle cx="733.0" cy="232.0" r="10.5" fill="#f87878" /><circle cx="742.6" cy="240.4" r="10.5" fill="#f87878" /><circle cx="752.2" cy="250.0" r="10.5" fill="#f87878" /><circle cx="761.8" cy="260.5" r="10.5" fill="#f87878" /><circle cx="771.4" cy="271.5" r="10.5" fill="#f87878" /><circle cx="781.0" cy="279.4" r="10.5" fill="#f87878" /><polyline points="549.0,165.6 552.8,165.9 556.7,166.3 560.5,166.7 564.4,167.2 568.2,167.7 572.1,168.3 575.9,169.0 579.7,169.8 583.6,170.5 587.4,171.3 591.3,172.0 595.1,172.6 599.0,173.3 602.8,173.9 606.6,174.7 610.5,175.6 614.3,176.7 618.2,177.9 622.0,179.2 625.9,180.5 629.7,181.8 633.5,183.1 637.4,184.5 641.2,185.8 645.1,187.2 648.9,188.5 652.8,189.7 656.6,190.8 660.4,191.9 664.3,193.1 668.1,194.5 672.0,196.3 675.8,198.6 679.7,201.3 683.5,204.2 687.3,207.1 691.2,209.8 695.0,212.5 698.9,215.3 702.7,218.1 706.6,220.5 710.4,222.5 714.2,224.1 718.1,225.2 721.9,226.3 725.8,227.4 729.6,228.6 733.4,230.3 737.3,232.4 741.1,235.0 745.0,237.8 748.8,240.8 752.7,243.8 756.5,246.9 760.3,250.1 764.2,253.5 768.0,257.1 771.9,260.9 775.7,265.0 779.6,269.7 783.4,274.7 787.2,279.8 791.1,284.7 794.9,289.0 798.8,292.6 802.6,295.9 806.5,298.9 810.3,301.8 814.1,304.6 818.0,307.2 821.8,309.8 825.7,312.3 829.5,314.8 833.4,317.4 837.2,320.0 841.0,322.8 844.9,325.5 848.7,328.3 852.6,331.0 856.4,333.8 860.3,336.5 864.1,339.2 867.9,342.0 871.8,344.7 875.6,347.4 879.5,350.2 883.3,352.9 887.2,355.6 891.0,358.3" fill="none" stroke="#fc0000" stroke-width="5.5" stroke-linejoin="round" stroke-linecap="round" stroke-linecap="butt"/><circle cx="589.0" cy="171.6" r="10.5" fill="#fc0000" /><circle cx="598.6" cy="173.2" r="10.5" fill="#fc0000" /><circle cx="608.2" cy="175.0" r="10.5" fill="#fc0000" /><circle cx="617.8" cy="177.8" r="10.5" fill="#fc0000" /><circle cx="627.4" cy="181.1" r="10.5" fill="#fc0000" /><circle cx="637.0" cy="184.3" r="10.5" fill="#fc0000" /><circle cx="646.6" cy="187.7" r="10.5" fill="#fc0000" /><circle cx="656.2" cy="190.7" r="10.5" fill="#fc0000" /><circle cx="665.8" cy="193.6" r="10.5" fill="#fc0000" /><circle cx="675.4" cy="198.3" r="10.5" fill="#fc0000" /><circle cx="685.0" cy="205.4" r="10.5" fill="#fc0000" /><circle cx="694.6" cy="212.2" r="10.5" fill="#fc0000" /><circle cx="704.2" cy="219.0" r="10.5" fill="#fc0000" /><circle cx="713.8" cy="223.9" r="10.5" fill="#fc0000" /><circle cx="723.4" cy="226.7" r="10.5" fill="#fc0000" /><circle cx="733.0" cy="230.1" r="10.5" fill="#fc0000" /><circle cx="742.6" cy="236.1" r="10.5" fill="#fc0000" /><circle cx="752.2" cy="243.5" r="10.5" fill="#fc0000" /><circle cx="761.8" cy="251.4" r="10.5" fill="#fc0000" /><circle cx="771.4" cy="260.4" r="10.5" fill="#fc0000" /><circle cx="781.0" cy="271.6" r="10.5" fill="#fc0000" /><circle cx="790.6" cy="284.1" r="10.5" fill="#fc0000" /><polyline points="549.0,196.5 552.8,196.6 556.7,196.8 560.5,197.0 564.4,197.4 568.2,197.8 572.1,198.3 575.9,199.3 579.7,200.5 583.6,201.5 587.4,202.0 591.3,201.6 595.1,200.5 599.0,199.2 602.8,198.2 606.6,198.1 610.5,199.4 614.3,201.4 618.2,203.7 622.0,205.6 625.9,207.2 629.7,208.7 633.5,210.1 637.4,211.1 641.2,212.0 645.1,212.6 648.9,213.3 652.8,214.1 656.6,215.2 660.4,216.3 664.3,217.6 668.1,218.8 672.0,219.8 675.8,220.7 679.7,221.6 683.5,222.6 687.3,223.9 691.2,225.1 695.0,226.6 698.9,228.4 702.7,230.5 706.6,233.6 710.4,238.8 714.2,244.3 718.1,248.0 721.9,250.0 725.8,251.4 729.6,252.7 733.4,254.2 737.3,255.7 741.1,257.1 745.0,258.7 748.8,260.4 752.7,262.4 756.5,264.6 760.3,266.9 764.2,269.5 768.0,272.2 771.9,275.5 775.7,278.8 779.6,281.7 783.4,284.0 787.2,285.9 791.1,287.7 794.9,289.6 798.8,291.9 802.6,294.3 806.5,296.9 810.3,299.6 814.1,302.5 818.0,305.3 821.8,308.3 825.7,311.2 829.5,314.2 833.4,317.1 837.2,320.0 841.0,322.8 844.9,325.5 848.7,328.3 852.6,331.0 856.4,333.8 860.3,336.5 864.1,339.2 867.9,342.0 871.8,344.7 875.6,347.4 879.5,350.2 883.3,352.9 887.2,355.6 891.0,358.3" fill="none" stroke="#b00000" stroke-width="5.5" stroke-linejoin="round" stroke-linecap="round" stroke-linecap="butt"/><circle cx="588.0" cy="202.0" r="10.5" fill="#b00000" /><circle cx="604.8" cy="195.3" r="10.5" fill="#b00000" /><circle cx="621.9" cy="205.6" r="10.5" fill="#b00000" /><circle cx="635.6" cy="210.8" r="10.5" fill="#b00000" /><circle cx="652.8" cy="214.2" r="10.5" fill="#b00000" /><circle cx="669.9" cy="219.3" r="10.5" fill="#b00000" /><circle cx="683.6" cy="222.8" r="10.5" fill="#b00000" /><circle cx="704.2" cy="231.3" r="10.5" fill="#b00000" /><circle cx="717.9" cy="251.9" r="10.5" fill="#b00000" /><circle cx="731.6" cy="253.6" r="10.5" fill="#b00000" /><circle cx="748.7" cy="260.5" r="10.5" fill="#b00000" /><circle cx="765.8" cy="270.7" r="10.5" fill="#b00000" /><circle cx="772.7" cy="284.4" r="10.5" fill="#b00000" /><circle cx="786.4" cy="294.7" r="10.5" fill="#b00000" /><circle cx="693.0" cy="226.0" r="10.5" fill="#b00000" /><circle cx="740.0" cy="257.0" r="10.5" fill="#b00000" /><circle cx="757.0" cy="265.0" r="10.5" fill="#b00000" /></g>
<line x1="793.3" y1="253.6" x2="906.4" y2="329.7" stroke="#000" stroke-width="2.6" />
<line x1="766.9" y1="306.7" x2="865.2" y2="403.7" stroke="#000" stroke-width="2.6" />
<text transform="translate(843.34,279.30) scale(1.0909,1)" fill="#000" style='font-family:"Liberation Sans", Arial, sans-serif;font-size:27px;'>-0.7</text>
<text transform="translate(774.17,375.70) scale(0.9814,1)" fill="#000" style='font-family:"Liberation Sans", Arial, sans-serif;font-size:27px;'>-1</text>
<line x1="548.6" y1="52.5" x2="548.6" y2="412.3" stroke="#444" stroke-width="1.7" />
<line x1="547.8" y1="411.5" x2="907.4" y2="411.5" stroke="#444" stroke-width="1.7" />
<line x1="548.6" y1="411.5" x2="548.6" y2="406.5" stroke="#444" stroke-width="1.5" />
<line x1="548.6" y1="411.5" x2="553.6" y2="411.5" stroke="#444" stroke-width="1.5" />
<text transform="translate(525.47,441.30) scale(1.0000,1)" style='font-family:"Liberation Sans", Arial, sans-serif;font-size:28.5px;'>10</text><text transform="translate(557.98,427.30) scale(1.0000,1)" style='font-family:"Liberation Sans", Arial, sans-serif;font-size:17.5px;'>-3</text>
<text transform="translate(496.19,422.08) scale(0.9700,1)" style='font-family:"Liberation Sans", Arial, sans-serif;font-size:29.5px;'>10</text><text transform="translate(528.79,407.78) scale(0.9700,1)" style='font-family:"Liberation Sans", Arial, sans-serif;font-size:17.5px;'>-3</text>
<line x1="608.4" y1="411.5" x2="608.4" y2="406.5" stroke="#444" stroke-width="1.5" />
<line x1="548.6" y1="351.6" x2="553.6" y2="351.6" stroke="#444" stroke-width="1.5" />
<text transform="translate(585.27,441.30) scale(1.0000,1)" style='font-family:"Liberation Sans", Arial, sans-serif;font-size:28.5px;'>10</text><text transform="translate(617.78,427.30) scale(1.0000,1)" style='font-family:"Liberation Sans", Arial, sans-serif;font-size:17.5px;'>-2</text>
<text transform="translate(496.19,362.25) scale(0.9700,1)" style='font-family:"Liberation Sans", Arial, sans-serif;font-size:29.5px;'>10</text><text transform="translate(528.79,347.95) scale(0.9700,1)" style='font-family:"Liberation Sans", Arial, sans-serif;font-size:17.5px;'>-2</text>
<line x1="668.2" y1="411.5" x2="668.2" y2="406.5" stroke="#444" stroke-width="1.5" />
<line x1="548.6" y1="291.8" x2="553.6" y2="291.8" stroke="#444" stroke-width="1.5" />
<text transform="translate(645.07,441.30) scale(1.0000,1)" style='font-family:"Liberation Sans", Arial, sans-serif;font-size:28.5px;'>10</text><text transform="translate(677.58,427.30) scale(1.0000,1)" style='font-family:"Liberation Sans", Arial, sans-serif;font-size:17.5px;'>-1</text>
<text transform="translate(496.19,302.42) scale(0.9700,1)" style='font-family:"Liberation Sans", Arial, sans-serif;font-size:29.5px;'>10</text><text transform="translate(528.79,288.12) scale(0.9700,1)" style='font-family:"Liberation Sans", Arial, sans-serif;font-size:17.5px;'>-1</text>
<line x1="728.0" y1="411.5" x2="728.0" y2="406.5" stroke="#444" stroke-width="1.5" />
<line x1="548.6" y1="232.0" x2="553.6" y2="232.0" stroke="#444" stroke-width="1.5" />
<text transform="translate(707.75,441.30) scale(1.0000,1)" style='font-family:"Liberation Sans", Arial, sans-serif;font-size:28.5px;'>10</text><text transform="translate(740.25,427.30) scale(1.0000,1)" style='font-family:"Liberation Sans", Arial, sans-serif;font-size:17.5px;'>0</text>
<text transform="translate(501.77,242.59) scale(0.9700,1)" style='font-family:"Liberation Sans", Arial, sans-serif;font-size:29.5px;'>10</text><text transform="translate(534.37,228.29) scale(0.9700,1)" style='font-family:"Liberation Sans", Arial, sans-serif;font-size:17.5px;'>0</text>
<line x1="787.8" y1="411.5" x2="787.8" y2="406.5" stroke="#444" stroke-width="1.5" />
<line x1="548.6" y1="172.2" x2="553.6" y2="172.2" stroke="#444" stroke-width="1.5" />
<text transform="translate(767.55,441.30) scale(1.0000,1)" style='font-family:"Liberation Sans", Arial, sans-serif;font-size:28.5px;'>10</text><text transform="translate(800.05,427.30) scale(1.0000,1)" style='font-family:"Liberation Sans", Arial, sans-serif;font-size:17.5px;'>1</text>
<text transform="translate(501.77,182.76) scale(0.9700,1)" style='font-family:"Liberation Sans", Arial, sans-serif;font-size:29.5px;'>10</text><text transform="translate(534.37,168.46) scale(0.9700,1)" style='font-family:"Liberation Sans", Arial, sans-serif;font-size:17.5px;'>1</text>
<line x1="847.6" y1="411.5" x2="847.6" y2="406.5" stroke="#444" stroke-width="1.5" />
<line x1="548.6" y1="112.3" x2="553.6" y2="112.3" stroke="#444" stroke-width="1.5" />
<text transform="translate(827.35,441.30) scale(1.0000,1)" style='font-family:"Liberation Sans", Arial, sans-serif;font-size:28.5px;'>10</text><text transform="translate(859.85,427.30) scale(1.0000,1)" style='font-family:"Liberation Sans", Arial, sans-serif;font-size:17.5px;'>2</text>
<text transform="translate(501.77,122.93) scale(0.9700,1)" style='font-family:"Liberation Sans", Arial, sans-serif;font-size:29.5px;'>10</text><text transform="translate(534.37,108.63) scale(0.9700,1)" style='font-family:"Liberation Sans", Arial, sans-serif;font-size:17.5px;'>2</text>
<line x1="907.4" y1="411.5" x2="907.4" y2="406.5" stroke="#444" stroke-width="1.5" />
<line x1="548.6" y1="52.5" x2="553.6" y2="52.5" stroke="#444" stroke-width="1.5" />
<text transform="translate(887.15,441.30) scale(1.0000,1)" style='font-family:"Liberation Sans", Arial, sans-serif;font-size:28.5px;'>10</text><text transform="translate(919.65,427.30) scale(1.0000,1)" style='font-family:"Liberation Sans", Arial, sans-serif;font-size:17.5px;'>3</text>
<text transform="translate(501.77,63.10) scale(0.9700,1)" style='font-family:"Liberation Sans", Arial, sans-serif;font-size:29.5px;'>10</text><text transform="translate(534.37,48.80) scale(0.9700,1)" style='font-family:"Liberation Sans", Arial, sans-serif;font-size:17.5px;'>3</text>
<rect x="621.6" y="53.8" width="19.6" height="18.6" fill="#a4c2f4" />
<text transform="translate(660.61,69.40) scale(1.0488,1)" fill="#000" style='font-family:"Liberation Sans", Arial, sans-serif;font-size:19.3px;'>5% Alcohol</text>
<circle cx="631.1" cy="88.1" r="10.4" fill="#f87878" />
<text transform="translate(660.63,94.50) scale(1.0323,1)" fill="#000" style='font-family:"Liberation Sans", Arial, sans-serif;font-size:19.3px;'>5°C</text>
<circle cx="723.3" cy="88.1" r="10.4" fill="#fc0000" />
<text transform="translate(752.03,94.50) scale(1.0691,1)" fill="#000" style='font-family:"Liberation Sans", Arial, sans-serif;font-size:19.3px;'>20°C</text>
<circle cx="826.3" cy="88.1" r="10.4" fill="#b00000" />
<text transform="translate(855.20,94.50) scale(1.0651,1)" fill="#000" style='font-family:"Liberation Sans", Arial, sans-serif;font-size:19.3px;'>30°C</text>
<text transform="translate(641.23,479.80) scale(1.0127,1)" style='font-family:"Liberation Sans", Arial, sans-serif;font-size:29px;'>Shear rate (s</text><text transform="translate(810.99,466.30) scale(1.0127,1)" style='font-family:"Liberation Sans", Arial, sans-serif;font-size:17px;'>-1</text><text transform="translate(826.30,479.80) scale(1.0127,1)" style='font-family:"Liberation Sans", Arial, sans-serif;font-size:29px;'>)</text>
<text transform="translate(477.00,340.56) rotate(-90) scale(1.0083,1)" fill="#000" style='font-family:"Liberation Sans", Arial, sans-serif;font-size:28.2px;'>Shear viscosity (Pa s)</text>
<text transform="translate(437.13,49.70) scale(1.0582,1)" fill="#000" style='font-family:"Liberation Sans", Arial, sans-serif;font-size:50px;'>(b)</text>
<rect x="1103.9" y="36.1" width="727.9" height="349.6" fill="none" stroke="#444" stroke-width="1.8"/>
<line x1="1346.1" y1="385.7" x2="1346.1" y2="379.7" stroke="#444" stroke-width="1.5" />
<line x1="1346.1" y1="36.1" x2="1346.1" y2="42.1" stroke="#444" stroke-width="1.5" />
<line x1="1588.3" y1="385.7" x2="1588.3" y2="379.7" stroke="#444" stroke-width="1.5" />
<line x1="1588.3" y1="36.1" x2="1588.3" y2="42.1" stroke="#444" stroke-width="1.5" />
<line x1="1103.9" y1="298.3" x2="1109.9" y2="298.3" stroke="#444" stroke-width="1.5" />
<line x1="1831.8" y1="298.3" x2="1825.8" y2="298.3" stroke="#444" stroke-width="1.5" />
<line x1="1103.9" y1="210.9" x2="1109.9" y2="210.9" stroke="#444" stroke-width="1.5" />
<line x1="1831.8" y1="210.9" x2="1825.8" y2="210.9" stroke="#444" stroke-width="1.5" />
<line x1="1103.9" y1="123.5" x2="1109.9" y2="123.5" stroke="#444" stroke-width="1.5" />
<line x1="1831.8" y1="123.5" x2="1825.8" y2="123.5" stroke="#444" stroke-width="1.5" />
<line x1="1105.0" y1="385.0" x2="1708.8" y2="37.6" stroke="#5a5a5a" stroke-width="2.0" stroke-dasharray="7.5 5"/>
<rect x="1619.0" y="63.0" width="39.0" height="36.0" fill="#cfdcf5" />
<circle cx="1479.3" cy="167.0" r="22.8" fill="#f87878" />
<circle cx="1200.7" cy="323.4" r="22.5" fill="#fc0000" />
<circle cx="1165.1" cy="365.5" r="22.5" fill="#b00000" />
<rect x="1601.5" y="172.0" width="32.5" height="31.7" fill="#cfdcf5" />
<text transform="translate(1667.00,197.90) scale(1.0661,1)" fill="#000" style='font-family:"Liberation Sans", Arial, sans-serif;font-size:40px;'>Alcohol</text>
<circle cx="1617.5" cy="239.2" r="17.8" fill="#f87878" />
<text transform="translate(1665.37,249.40) scale(1.0891,1)" fill="#000" style='font-family:"Liberation Sans", Arial, sans-serif;font-size:40px;'>5°C</text>
<circle cx="1617.5" cy="291.2" r="17.8" fill="#fc0000" />
<text transform="translate(1664.81,301.40) scale(1.0939,1)" fill="#000" style='font-family:"Liberation Sans", Arial, sans-serif;font-size:40px;'>20°C</text>
<circle cx="1617.5" cy="342.4" r="17.8" fill="#b00000" />
<text transform="translate(1665.37,353.30) scale(1.0875,1)" fill="#000" style='font-family:"Liberation Sans", Arial, sans-serif;font-size:40px;'>30°C</text>
<text transform="translate(1071.06,399.60) scale(1.0200,1)" fill="#000" style='font-family:"Liberation Sans", Arial, sans-serif;font-size:42.5px;'>0</text>
<text transform="translate(1046.84,312.20) scale(1.0200,1)" fill="#000" style='font-family:"Liberation Sans", Arial, sans-serif;font-size:42.5px;'>60</text>
<text transform="translate(1022.87,224.80) scale(1.0200,1)" fill="#000" style='font-family:"Liberation Sans", Arial, sans-serif;font-size:42.5px;'>120</text>
<text transform="translate(1022.87,137.40) scale(1.0200,1)" fill="#000" style='font-family:"Liberation Sans", Arial, sans-serif;font-size:42.5px;'>180</text>
<text transform="translate(1022.87,50.00) scale(1.0200,1)" fill="#000" style='font-family:"Liberation Sans", Arial, sans-serif;font-size:42.5px;'>240</text>
<text transform="translate(1093.28,426.50) scale(1.0000,1)" fill="#000" style='font-family:"Liberation Sans", Arial, sans-serif;font-size:40px;'>0</text>
<text transform="translate(1334.98,426.50) scale(1.0000,1)" fill="#000" style='font-family:"Liberation Sans", Arial, sans-serif;font-size:40px;'>1</text>
<text transform="translate(1577.68,426.50) scale(1.0000,1)" fill="#000" style='font-family:"Liberation Sans", Arial, sans-serif;font-size:40px;'>2</text>
<text transform="translate(1820.00,426.50) scale(1.0000,1)" fill="#000" style='font-family:"Liberation Sans", Arial, sans-serif;font-size:40px;'>3</text>
<text transform="translate(1410.96,483.00) scale(1.0867,1)" fill="#000" style='font-family:"Liberation Sans", Arial, sans-serif;font-size:40px;'>τ</text>
<text transform="translate(1430.80,496.40) scale(0.8947,1)" fill="#000" style='font-family:"Liberation Sans", Arial, sans-serif;font-size:28px;'>worm</text>
<text transform="translate(1502.08,482.20) scale(1.1667,1)" fill="#000" style='font-family:"Liberation Sans", Arial, sans-serif;font-size:40.2px;'>(s)</text>
<text transform="translate(997.70,275.25) rotate(-90) scale(1.1000,1)" fill="#000" style='font-family:"Liberation Sans", Arial, sans-serif;font-size:40px;'>τ</text>
<text transform="translate(1013.00,257.14) rotate(-90) scale(0.9373,1)" fill="#000" style='font-family:"Liberation Sans", Arial, sans-serif;font-size:26.5px;'>rheo</text>
<text transform="translate(997.70,196.32) rotate(-90) scale(0.9885,1)" fill="#000" style='font-family:"Liberation Sans", Arial, sans-serif;font-size:45.6px;'>(s)</text>
<text transform="translate(941.78,48.40) scale(1.0392,1)" fill="#000" style='font-family:"Liberation Sans", Arial, sans-serif;font-size:50px;'>(c)</text>
<rect x="7.0" y="590.3" width="55.7" height="401.4" fill="#c5d7f4" />
<rect x="7.0" y="1053.5" width="55.7" height="397.5" fill="#ff7878" />
<rect x="68.0" y="534.3" width="1319.5" height="4.5" fill="#bfd0f0" />
<rect x="1383.8" y="534.3" width="3.7" height="457.4" fill="#bfd0f0" />
<rect x="62.7" y="988.6" width="1324.8" height="3.1" fill="#bfd0f0" />
<rect x="68.6" y="993.5" width="1318.4" height="5.0" fill="#f4787c" />
<rect x="1383.2" y="993.5" width="3.8" height="457.5" fill="#f4787c" />
<rect x="62.7" y="1446.8" width="1324.3" height="4.2" fill="#f4787c" />
<text transform="translate(42.80,854.49) rotate(-90) scale(1.0868,1)" fill="#000" style='font-family:"DejaVu Sans", Verdana, sans-serif;font-size:28px;'>Low</text>
<text transform="translate(42.80,777.25) rotate(-90) scale(1.0072,1)" fill="#000" style='font-family:"DejaVu Sans", Verdana, sans-serif;font-size:28px;'>Activity</text>
<text transform="translate(44.20,1294.67) rotate(-90) scale(1.0076,1)" fill="#000" style='font-family:"DejaVu Sans", Verdana, sans-serif;font-size:28px;'>High</text>
<text transform="translate(44.20,1209.85) rotate(-90) scale(0.9908,1)" fill="#000" style='font-family:"DejaVu Sans", Verdana, sans-serif;font-size:28px;'>Activity</text>
<text transform="translate(3.36,572.70) scale(1.0455,1)" fill="#000" style='font-family:"Liberation Sans", Arial, sans-serif;font-size:50px;'>(d)</text>
<text transform="translate(3.37,1036.70) scale(1.0418,1)" fill="#000" style='font-family:"Liberation Sans", Arial, sans-serif;font-size:50px;'>(e)</text>
<defs>
<radialGradient id="dish1" cx="0.5" cy="0.5" r="0.5"><stop offset="0" stop-color="#f0e8dc"/><stop offset="0.8" stop-color="#ebe0d0"/><stop offset="1" stop-color="#b8a69c"/></radialGradient>
<radialGradient id="dish2" cx="0.45" cy="0.6" r="0.55"><stop offset="0" stop-color="#c0785c"/><stop offset="0.6" stop-color="#d49a80"/><stop offset="1" stop-color="#eed8c4"/></radialGradient>
<radialGradient id="dish3" cx="0.5" cy="0.5" r="0.5"><stop offset="0" stop-color="#8e4a3e"/><stop offset="0.85" stop-color="#a65a4a"/><stop offset="0.94" stop-color="#d0844c"/><stop offset="0.975" stop-color="#ead49c"/><stop offset="1" stop-color="#d8c088"/></radialGradient>
<clipPath id="cd1"><circle cx="625.7" cy="600.8" r="55"/></clipPath>
<clipPath id="cd2"><circle cx="753.3" cy="600.3" r="55.5"/></clipPath>
<clipPath id="cd3"><circle cx="881.3" cy="599.2" r="53"/></clipPath>
<filter id="soft" x="-5%" y="-5%" width="110%" height="110%"><feGaussianBlur stdDeviation="0.7"/></filter>
</defs>
<circle cx="625.7" cy="600.8" r="62.5" fill="#2a2624" />
<circle cx="626.5" cy="600.8" r="55.0" fill="url(#dish1)" />
<g clip-path="url(#cd1)" filter="url(#soft)"><ellipse cx="677.5" cy="586.2" rx="1.7" ry="1.5" fill="#b0584a" opacity="0.85" transform="rotate(30 677.5 586.2)"/><ellipse cx="644.4" cy="553.4" rx="3.0" ry="1.9" fill="#9a4a3a" opacity="0.85" transform="rotate(105 644.4 553.4)"/><ellipse cx="645.6" cy="631.1" rx="3.5" ry="2.3" fill="#c88070" opacity="0.85" transform="rotate(92 645.6 631.1)"/><ellipse cx="589.1" cy="639.1" rx="2.2" ry="1.1" fill="#a85848" opacity="0.85" transform="rotate(5 589.1 639.1)"/><ellipse cx="595.7" cy="607.6" rx="2.6" ry="2.3" fill="#c88070" opacity="0.85" transform="rotate(30 595.7 607.6)"/><ellipse cx="637.6" cy="624.5" rx="2.3" ry="1.2" fill="#c07060" opacity="0.85" transform="rotate(92 637.6 624.5)"/><ellipse cx="671.2" cy="600.4" rx="4.0" ry="1.7" fill="#c07060" opacity="0.85" transform="rotate(75 671.2 600.4)"/><ellipse cx="574.2" cy="592.5" rx="3.5" ry="1.5" fill="#9a4a3a" opacity="0.85" transform="rotate(177 574.2 592.5)"/><ellipse cx="647.5" cy="595.6" rx="3.3" ry="1.7" fill="#c88070" opacity="0.85" transform="rotate(95 647.5 595.6)"/><ellipse cx="573.2" cy="604.1" rx="2.8" ry="2.2" fill="#a85848" opacity="0.85" transform="rotate(119 573.2 604.1)"/><ellipse cx="575.8" cy="615.5" rx="2.9" ry="2.4" fill="#9a4a3a" opacity="0.85" transform="rotate(130 575.8 615.5)"/><ellipse cx="600.2" cy="603.0" rx="3.5" ry="2.3" fill="#9a4a3a" opacity="0.85" transform="rotate(158 600.2 603.0)"/><ellipse cx="590.0" cy="568.5" rx="2.3" ry="2.4" fill="#c88070" opacity="0.85" transform="rotate(127 590.0 568.5)"/><ellipse cx="586.4" cy="599.7" rx="3.0" ry="1.5" fill="#a85848" opacity="0.85" transform="rotate(37 586.4 599.7)"/><ellipse cx="573.0" cy="596.8" rx="3.7" ry="2.2" fill="#a85848" opacity="0.85" transform="rotate(61 573.0 596.8)"/><ellipse cx="675.6" cy="603.4" rx="1.6" ry="2.0" fill="#b0584a" opacity="0.85" transform="rotate(49 675.6 603.4)"/><ellipse cx="633.5" cy="651.7" rx="3.4" ry="1.2" fill="#b0584a" opacity="0.85" transform="rotate(48 633.5 651.7)"/><ellipse cx="650.2" cy="553.2" rx="2.6" ry="2.1" fill="#b0584a" opacity="0.85" transform="rotate(6 650.2 553.2)"/><ellipse cx="611.2" cy="618.2" rx="1.7" ry="2.4" fill="#b0584a" opacity="0.85" transform="rotate(5 611.2 618.2)"/><ellipse cx="625.0" cy="592.9" rx="1.8" ry="2.4" fill="#9a4a3a" opacity="0.85" transform="rotate(132 625.0 592.9)"/><ellipse cx="623.6" cy="600.5" rx="1.6" ry="2.5" fill="#a85848" opacity="0.85" transform="rotate(27 623.6 600.5)"/><ellipse cx="657.4" cy="608.1" rx="3.1" ry="2.1" fill="#a85848" opacity="0.85" transform="rotate(51 657.4 608.1)"/><ellipse cx="595.5" cy="603.0" rx="3.4" ry="2.1" fill="#a85848" opacity="0.85" transform="rotate(162 595.5 603.0)"/><ellipse cx="627.8" cy="549.8" rx="2.7" ry="1.3" fill="#c07060" opacity="0.85" transform="rotate(119 627.8 549.8)"/><ellipse cx="618.9" cy="616.9" rx="3.5" ry="2.4" fill="#c88070" opacity="0.85" transform="rotate(93 618.9 616.9)"/><ellipse cx="633.4" cy="563.1" rx="1.9" ry="2.4" fill="#9a4a3a" opacity="0.85" transform="rotate(47 633.4 563.1)"/><ellipse cx="598.0" cy="578.8" rx="3.2" ry="2.4" fill="#b0584a" opacity="0.85" transform="rotate(121 598.0 578.8)"/><ellipse cx="625.6" cy="620.8" rx="1.7" ry="2.0" fill="#c07060" opacity="0.85" transform="rotate(91 625.6 620.8)"/><ellipse cx="678.9" cy="595.3" rx="2.1" ry="1.7" fill="#c07060" opacity="0.85" transform="rotate(45 678.9 595.3)"/><ellipse cx="589.5" cy="577.2" rx="3.3" ry="1.4" fill="#a85848" opacity="0.85" transform="rotate(76 589.5 577.2)"/><ellipse cx="622.2" cy="600.2" rx="2.5" ry="1.2" fill="#b0584a" opacity="0.85" transform="rotate(92 622.2 600.2)"/><ellipse cx="641.0" cy="610.0" rx="2.0" ry="1.3" fill="#b0584a" opacity="0.85" transform="rotate(39 641.0 610.0)"/><ellipse cx="588.8" cy="595.9" rx="2.8" ry="1.6" fill="#9a4a3a" opacity="0.85" transform="rotate(123 588.8 595.9)"/><ellipse cx="627.7" cy="575.6" rx="2.6" ry="1.0" fill="#c88070" opacity="0.85" transform="rotate(106 627.7 575.6)"/><ellipse cx="665.0" cy="564.9" rx="2.0" ry="1.1" fill="#a85848" opacity="0.85" transform="rotate(144 665.0 564.9)"/><ellipse cx="599.6" cy="630.3" rx="3.0" ry="1.4" fill="#b0584a" opacity="0.85" transform="rotate(177 599.6 630.3)"/><ellipse cx="620.7" cy="606.3" rx="1.8" ry="1.5" fill="#c88070" opacity="0.85" transform="rotate(151 620.7 606.3)"/><ellipse cx="622.8" cy="594.7" rx="1.6" ry="2.0" fill="#c88070" opacity="0.85" transform="rotate(83 622.8 594.7)"/><ellipse cx="659.1" cy="573.2" rx="2.2" ry="1.6" fill="#b0584a" opacity="0.85" transform="rotate(168 659.1 573.2)"/><ellipse cx="668.4" cy="622.9" rx="1.8" ry="1.6" fill="#c07060" opacity="0.85" transform="rotate(129 668.4 622.9)"/><ellipse cx="646.6" cy="625.6" rx="2.1" ry="1.2" fill="#b0584a" opacity="0.85" transform="rotate(111 646.6 625.6)"/><ellipse cx="608.6" cy="630.5" rx="3.2" ry="1.0" fill="#c07060" opacity="0.85" transform="rotate(119 608.6 630.5)"/><ellipse cx="634.0" cy="554.7" rx="2.2" ry="2.4" fill="#c88070" opacity="0.85" transform="rotate(25 634.0 554.7)"/><ellipse cx="599.0" cy="627.9" rx="3.3" ry="2.1" fill="#c88070" opacity="0.85" transform="rotate(75 599.0 627.9)"/><ellipse cx="580.7" cy="603.0" rx="2.1" ry="1.7" fill="#c88070" opacity="0.85" transform="rotate(47 580.7 603.0)"/><ellipse cx="585.3" cy="620.7" rx="3.0" ry="2.2" fill="#b0584a" opacity="0.85" transform="rotate(17 585.3 620.7)"/><ellipse cx="592.0" cy="644.0" rx="3.5" ry="2.3" fill="#c07060" opacity="0.85" transform="rotate(144 592.0 644.0)"/><ellipse cx="664.5" cy="576.8" rx="1.8" ry="1.4" fill="#b0584a" opacity="0.85" transform="rotate(42 664.5 576.8)"/><ellipse cx="604.3" cy="560.9" rx="1.9" ry="1.4" fill="#c88070" opacity="0.85" transform="rotate(28 604.3 560.9)"/><ellipse cx="679.9" cy="596.3" rx="1.7" ry="1.8" fill="#c88070" opacity="0.85" transform="rotate(129 679.9 596.3)"/><ellipse cx="623.6" cy="652.8" rx="3.9" ry="1.4" fill="#c88070" opacity="0.85" transform="rotate(157 623.6 652.8)"/><ellipse cx="595.7" cy="638.1" rx="2.7" ry="2.1" fill="#c07060" opacity="0.85" transform="rotate(146 595.7 638.1)"/><ellipse cx="590.9" cy="632.4" rx="2.8" ry="1.7" fill="#c88070" opacity="0.85" transform="rotate(73 590.9 632.4)"/><ellipse cx="612.9" cy="549.2" rx="2.4" ry="1.8" fill="#c88070" opacity="0.85" transform="rotate(128 612.9 549.2)"/><ellipse cx="639.4" cy="592.6" rx="2.8" ry="1.3" fill="#c07060" opacity="0.85" transform="rotate(147 639.4 592.6)"/><ellipse cx="587.8" cy="635.5" rx="2.3" ry="1.8" fill="#b0584a" opacity="0.85" transform="rotate(163 587.8 635.5)"/><ellipse cx="603.4" cy="605.7" rx="1.5" ry="2.4" fill="#b0584a" opacity="0.85" transform="rotate(131 603.4 605.7)"/><ellipse cx="584.9" cy="568.4" rx="2.5" ry="1.8" fill="#b0584a" opacity="0.85" transform="rotate(144 584.9 568.4)"/><ellipse cx="617.9" cy="653.0" rx="2.0" ry="2.2" fill="#a85848" opacity="0.85" transform="rotate(25 617.9 653.0)"/><ellipse cx="598.4" cy="577.3" rx="2.8" ry="1.3" fill="#9a4a3a" opacity="0.85" transform="rotate(128 598.4 577.3)"/><ellipse cx="673.2" cy="592.5" rx="1.5" ry="1.7" fill="#9a4a3a" opacity="0.85" transform="rotate(151 673.2 592.5)"/><ellipse cx="600.0" cy="560.7" rx="3.8" ry="2.4" fill="#c88070" opacity="0.85" transform="rotate(83 600.0 560.7)"/><ellipse cx="652.8" cy="574.8" rx="3.0" ry="1.5" fill="#b0584a" opacity="0.85" transform="rotate(137 652.8 574.8)"/><ellipse cx="676.9" cy="580.1" rx="3.2" ry="2.2" fill="#9a4a3a" opacity="0.85" transform="rotate(156 676.9 580.1)"/><ellipse cx="640.7" cy="617.4" rx="4.0" ry="2.0" fill="#c88070" opacity="0.85" transform="rotate(28 640.7 617.4)"/><ellipse cx="618.3" cy="637.6" rx="2.4" ry="1.8" fill="#b0584a" opacity="0.85" transform="rotate(69 618.3 637.6)"/><ellipse cx="578.0" cy="618.8" rx="2.7" ry="1.2" fill="#9a4a3a" opacity="0.85" transform="rotate(124 578.0 618.8)"/><ellipse cx="618.7" cy="571.4" rx="3.6" ry="1.5" fill="#9a4a3a" opacity="0.85" transform="rotate(116 618.7 571.4)"/><ellipse cx="638.6" cy="558.2" rx="2.8" ry="2.4" fill="#c88070" opacity="0.85" transform="rotate(92 638.6 558.2)"/><ellipse cx="636.4" cy="642.0" rx="3.5" ry="1.9" fill="#c07060" opacity="0.85" transform="rotate(55 636.4 642.0)"/><ellipse cx="630.0" cy="637.8" rx="2.8" ry="1.1" fill="#c07060" opacity="0.85" transform="rotate(20 630.0 637.8)"/><ellipse cx="603.9" cy="557.3" rx="2.0" ry="1.5" fill="#9a4a3a" opacity="0.85" transform="rotate(60 603.9 557.3)"/><ellipse cx="600.8" cy="630.3" rx="2.7" ry="1.2" fill="#9a4a3a" opacity="0.85" transform="rotate(129 600.8 630.3)"/><ellipse cx="651.5" cy="599.3" rx="2.3" ry="1.1" fill="#9a4a3a" opacity="0.85" transform="rotate(43 651.5 599.3)"/><ellipse cx="642.8" cy="642.9" rx="2.0" ry="1.2" fill="#9a4a3a" opacity="0.85" transform="rotate(24 642.8 642.9)"/><ellipse cx="621.2" cy="641.3" rx="2.5" ry="2.2" fill="#c88070" opacity="0.85" transform="rotate(62 621.2 641.3)"/><ellipse cx="664.3" cy="564.2" rx="3.0" ry="2.1" fill="#a85848" opacity="0.85" transform="rotate(58 664.3 564.2)"/><ellipse cx="588.5" cy="628.2" rx="2.8" ry="2.0" fill="#9a4a3a" opacity="0.85" transform="rotate(13 588.5 628.2)"/><ellipse cx="612.2" cy="636.5" rx="3.9" ry="1.5" fill="#9a4a3a" opacity="0.85" transform="rotate(86 612.2 636.5)"/><ellipse cx="644.6" cy="586.1" rx="1.8" ry="1.0" fill="#c88070" opacity="0.85" transform="rotate(63 644.6 586.1)"/><ellipse cx="592.6" cy="641.6" rx="1.5" ry="1.5" fill="#c88070" opacity="0.85" transform="rotate(149 592.6 641.6)"/><ellipse cx="592.5" cy="578.1" rx="3.1" ry="1.2" fill="#c88070" opacity="0.85" transform="rotate(57 592.5 578.1)"/><ellipse cx="641.2" cy="593.2" rx="3.5" ry="1.5" fill="#c07060" opacity="0.85" transform="rotate(25 641.2 593.2)"/><ellipse cx="615.5" cy="613.4" rx="2.1" ry="1.4" fill="#c07060" opacity="0.85" transform="rotate(110 615.5 613.4)"/><ellipse cx="608.6" cy="629.5" rx="1.7" ry="1.2" fill="#a85848" opacity="0.85" transform="rotate(153 608.6 629.5)"/><ellipse cx="582.1" cy="621.5" rx="2.3" ry="1.9" fill="#c07060" opacity="0.85" transform="rotate(21 582.1 621.5)"/><ellipse cx="598.3" cy="563.6" rx="2.1" ry="1.1" fill="#c88070" opacity="0.85" transform="rotate(138 598.3 563.6)"/><ellipse cx="574.8" cy="604.1" rx="3.6" ry="1.9" fill="#a85848" opacity="0.85" transform="rotate(106 574.8 604.1)"/><ellipse cx="573.0" cy="587.7" rx="3.6" ry="1.7" fill="#c88070" opacity="0.85" transform="rotate(74 573.0 587.7)"/><ellipse cx="614.3" cy="599.0" rx="2.6" ry="1.9" fill="#b0584a" opacity="0.85" transform="rotate(21 614.3 599.0)"/><ellipse cx="660.2" cy="582.3" rx="1.7" ry="1.5" fill="#c07060" opacity="0.85" transform="rotate(144 660.2 582.3)"/><ellipse cx="643.9" cy="601.8" rx="2.1" ry="1.0" fill="#9a4a3a" opacity="0.85" transform="rotate(77 643.9 601.8)"/><ellipse cx="657.7" cy="597.5" rx="1.6" ry="2.3" fill="#c88070" opacity="0.85" transform="rotate(43 657.7 597.5)"/><ellipse cx="585.2" cy="605.6" rx="3.2" ry="1.8" fill="#c07060" opacity="0.85" transform="rotate(9 585.2 605.6)"/><ellipse cx="621.8" cy="599.6" rx="2.3" ry="1.8" fill="#a85848" opacity="0.85" transform="rotate(43 621.8 599.6)"/><ellipse cx="624.5" cy="602.3" rx="1.8" ry="1.2" fill="#a85848" opacity="0.85" transform="rotate(38 624.5 602.3)"/><ellipse cx="650.1" cy="609.2" rx="2.3" ry="2.0" fill="#c88070" opacity="0.85" transform="rotate(71 650.1 609.2)"/><ellipse cx="662.6" cy="585.0" rx="2.8" ry="2.2" fill="#c07060" opacity="0.85" transform="rotate(27 662.6 585.0)"/><ellipse cx="648.1" cy="594.7" rx="2.2" ry="1.6" fill="#c07060" opacity="0.85" transform="rotate(77 648.1 594.7)"/><ellipse cx="586.6" cy="630.1" rx="2.9" ry="1.7" fill="#b0584a" opacity="0.85" transform="rotate(51 586.6 630.1)"/><ellipse cx="631.3" cy="546.4" rx="2.6" ry="1.2" fill="#c07060" opacity="0.85" transform="rotate(98 631.3 546.4)"/><ellipse cx="659.9" cy="626.7" rx="2.0" ry="1.6" fill="#c07060" opacity="0.85" transform="rotate(7 659.9 626.7)"/><ellipse cx="631.5" cy="607.2" rx="3.3" ry="1.7" fill="#9a4a3a" opacity="0.85" transform="rotate(9 631.5 607.2)"/><ellipse cx="632.9" cy="551.4" rx="3.0" ry="1.1" fill="#c07060" opacity="0.85" transform="rotate(35 632.9 551.4)"/><ellipse cx="660.1" cy="628.4" rx="3.8" ry="2.1" fill="#a85848" opacity="0.85" transform="rotate(17 660.1 628.4)"/><ellipse cx="606.2" cy="553.5" rx="3.9" ry="1.2" fill="#9a4a3a" opacity="0.85" transform="rotate(58 606.2 553.5)"/><ellipse cx="647.6" cy="554.9" rx="2.9" ry="1.6" fill="#a85848" opacity="0.85" transform="rotate(75 647.6 554.9)"/><ellipse cx="619.2" cy="564.3" rx="3.1" ry="2.1" fill="#b0584a" opacity="0.85" transform="rotate(170 619.2 564.3)"/><ellipse cx="661.4" cy="604.3" rx="2.8" ry="1.6" fill="#9a4a3a" opacity="0.85" transform="rotate(95 661.4 604.3)"/><ellipse cx="647.9" cy="589.4" rx="3.2" ry="2.2" fill="#c07060" opacity="0.85" transform="rotate(81 647.9 589.4)"/><ellipse cx="595.0" cy="609.9" rx="3.0" ry="1.9" fill="#c88070" opacity="0.85" transform="rotate(105 595.0 609.9)"/><ellipse cx="581.0" cy="617.0" rx="2.3" ry="1.1" fill="#a85848" opacity="0.85" transform="rotate(67 581.0 617.0)"/><ellipse cx="599.5" cy="573.9" rx="3.1" ry="1.9" fill="#a85848" opacity="0.85" transform="rotate(23 599.5 573.9)"/><ellipse cx="672.9" cy="580.2" rx="3.6" ry="1.4" fill="#a85848" opacity="0.85" transform="rotate(2 672.9 580.2)"/><ellipse cx="642.8" cy="583.0" rx="1.6" ry="1.8" fill="#9a4a3a" opacity="0.85" transform="rotate(143 642.8 583.0)"/><ellipse cx="600.5" cy="557.9" rx="2.5" ry="2.3" fill="#b0584a" opacity="0.85" transform="rotate(3 600.5 557.9)"/><ellipse cx="608.5" cy="591.2" rx="1.9" ry="2.2" fill="#c07060" opacity="0.85" transform="rotate(130 608.5 591.2)"/><ellipse cx="601.4" cy="573.5" rx="3.1" ry="1.7" fill="#9a4a3a" opacity="0.85" transform="rotate(144 601.4 573.5)"/><ellipse cx="644.5" cy="590.0" rx="3.6" ry="2.3" fill="#9a4a3a" opacity="0.85" transform="rotate(41 644.5 590.0)"/><ellipse cx="587.1" cy="565.0" rx="3.0" ry="2.1" fill="#9a4a3a" opacity="0.85" transform="rotate(94 587.1 565.0)"/><ellipse cx="628.4" cy="626.1" rx="2.2" ry="1.4" fill="#b0584a" opacity="0.85" transform="rotate(170 628.4 626.1)"/><ellipse cx="620.4" cy="551.2" rx="3.9" ry="1.6" fill="#b0584a" opacity="0.85" transform="rotate(85 620.4 551.2)"/><ellipse cx="607.4" cy="618.3" rx="1.6" ry="1.8" fill="#c07060" opacity="0.85" transform="rotate(160 607.4 618.3)"/><ellipse cx="593.6" cy="576.4" rx="1.6" ry="2.1" fill="#b0584a" opacity="0.85" transform="rotate(72 593.6 576.4)"/><ellipse cx="608.6" cy="599.2" rx="2.4" ry="2.4" fill="#a85848" opacity="0.85" transform="rotate(89 608.6 599.2)"/><ellipse cx="659.7" cy="616.7" rx="2.2" ry="1.0" fill="#c07060" opacity="0.85" transform="rotate(8 659.7 616.7)"/><ellipse cx="611.2" cy="580.7" rx="2.8" ry="1.9" fill="#c07060" opacity="0.85" transform="rotate(116 611.2 580.7)"/><ellipse cx="642.4" cy="594.6" rx="2.9" ry="2.0" fill="#a85848" opacity="0.85" transform="rotate(25 642.4 594.6)"/><ellipse cx="623.3" cy="591.0" rx="3.2" ry="1.7" fill="#a85848" opacity="0.85" transform="rotate(170 623.3 591.0)"/><ellipse cx="606.3" cy="626.1" rx="3.0" ry="1.2" fill="#b0584a" opacity="0.85" transform="rotate(141 606.3 626.1)"/><ellipse cx="591.0" cy="641.3" rx="3.5" ry="2.3" fill="#9a4a3a" opacity="0.85" transform="rotate(92 591.0 641.3)"/><ellipse cx="634.6" cy="599.0" rx="2.6" ry="1.9" fill="#9a4a3a" opacity="0.85" transform="rotate(63 634.6 599.0)"/><ellipse cx="665.7" cy="594.5" rx="3.7" ry="1.1" fill="#b0584a" opacity="0.85" transform="rotate(97 665.7 594.5)"/><ellipse cx="598.0" cy="577.7" rx="2.1" ry="1.3" fill="#c88070" opacity="0.85" transform="rotate(110 598.0 577.7)"/><ellipse cx="673.7" cy="605.6" rx="3.2" ry="1.4" fill="#9a4a3a" opacity="0.85" transform="rotate(163 673.7 605.6)"/><ellipse cx="652.4" cy="607.6" rx="2.5" ry="2.4" fill="#c07060" opacity="0.85" transform="rotate(20 652.4 607.6)"/><ellipse cx="614.3" cy="592.6" rx="2.9" ry="1.2" fill="#c07060" opacity="0.85" transform="rotate(125 614.3 592.6)"/><ellipse cx="670.5" cy="625.3" rx="3.1" ry="1.1" fill="#a85848" opacity="0.85" transform="rotate(93 670.5 625.3)"/><ellipse cx="591.6" cy="594.7" rx="1.9" ry="1.2" fill="#c07060" opacity="0.85" transform="rotate(132 591.6 594.7)"/><ellipse cx="676.9" cy="618.3" rx="2.8" ry="1.7" fill="#c07060" opacity="0.85" transform="rotate(79 676.9 618.3)"/><ellipse cx="672.9" cy="585.9" rx="1.9" ry="1.9" fill="#c88070" opacity="0.85" transform="rotate(23 672.9 585.9)"/><ellipse cx="621.1" cy="607.5" rx="3.9" ry="2.0" fill="#c07060" opacity="0.85" transform="rotate(103 621.1 607.5)"/><ellipse cx="625.9" cy="637.4" rx="2.0" ry="1.7" fill="#c88070" opacity="0.85" transform="rotate(139 625.9 637.4)"/><ellipse cx="599.6" cy="635.7" rx="3.6" ry="1.9" fill="#b0584a" opacity="0.85" transform="rotate(5 599.6 635.7)"/><ellipse cx="609.7" cy="648.5" rx="2.7" ry="1.4" fill="#a85848" opacity="0.85" transform="rotate(49 609.7 648.5)"/><ellipse cx="589.6" cy="608.6" rx="3.6" ry="1.7" fill="#a85848" opacity="0.85" transform="rotate(119 589.6 608.6)"/><ellipse cx="588.3" cy="586.9" rx="2.2" ry="2.4" fill="#c88070" opacity="0.85" transform="rotate(65 588.3 586.9)"/><ellipse cx="661.1" cy="629.7" rx="3.4" ry="2.0" fill="#c07060" opacity="0.85" transform="rotate(173 661.1 629.7)"/><ellipse cx="657.5" cy="629.4" rx="2.8" ry="1.1" fill="#a85848" opacity="0.85" transform="rotate(134 657.5 629.4)"/><ellipse cx="644.4" cy="568.7" rx="3.8" ry="1.8" fill="#9a4a3a" opacity="0.85" transform="rotate(30 644.4 568.7)"/><ellipse cx="631.4" cy="652.6" rx="2.5" ry="1.7" fill="#c07060" opacity="0.85" transform="rotate(178 631.4 652.6)"/><ellipse cx="638.5" cy="568.0" rx="2.9" ry="1.6" fill="#9a4a3a" opacity="0.85" transform="rotate(116 638.5 568.0)"/><ellipse cx="636.9" cy="549.9" rx="3.2" ry="1.6" fill="#9a4a3a" opacity="0.85" transform="rotate(7 636.9 549.9)"/><ellipse cx="608.2" cy="606.0" rx="2.3" ry="1.5" fill="#9a4a3a" opacity="0.85" transform="rotate(73 608.2 606.0)"/><ellipse cx="625.2" cy="547.9" rx="2.8" ry="1.7" fill="#b0584a" opacity="0.85" transform="rotate(112 625.2 547.9)"/><ellipse cx="630.8" cy="652.3" rx="1.5" ry="1.0" fill="#a85848" opacity="0.85" transform="rotate(89 630.8 652.3)"/><ellipse cx="623.2" cy="588.7" rx="2.5" ry="2.0" fill="#9a4a3a" opacity="0.85" transform="rotate(110 623.2 588.7)"/><ellipse cx="664.2" cy="602.0" rx="2.0" ry="2.1" fill="#a85848" opacity="0.85" transform="rotate(59 664.2 602.0)"/><ellipse cx="601.5" cy="642.8" rx="2.9" ry="2.1" fill="#c88070" opacity="0.85" transform="rotate(84 601.5 642.8)"/><ellipse cx="618.8" cy="639.2" rx="2.4" ry="1.5" fill="#a85848" opacity="0.85" transform="rotate(67 618.8 639.2)"/><ellipse cx="642.5" cy="551.5" rx="3.5" ry="2.1" fill="#a85848" opacity="0.85" transform="rotate(40 642.5 551.5)"/><ellipse cx="603.0" cy="587.0" rx="3.0" ry="1.8" fill="#9a4a3a" opacity="0.85" transform="rotate(29 603.0 587.0)"/><ellipse cx="594.6" cy="621.9" rx="3.1" ry="2.0" fill="#9a4a3a" opacity="0.85" transform="rotate(131 594.6 621.9)"/><ellipse cx="607.6" cy="586.2" rx="3.0" ry="2.2" fill="#c88070" opacity="0.85" transform="rotate(24 607.6 586.2)"/><ellipse cx="637.5" cy="645.5" rx="3.1" ry="1.7" fill="#b0584a" opacity="0.85" transform="rotate(115 637.5 645.5)"/><ellipse cx="624.4" cy="572.1" rx="3.6" ry="1.0" fill="#a85848" opacity="0.85" transform="rotate(158 624.4 572.1)"/><ellipse cx="612.0" cy="639.9" rx="2.5" ry="1.1" fill="#c88070" opacity="0.85" transform="rotate(83 612.0 639.9)"/><ellipse cx="658.2" cy="641.1" rx="3.8" ry="2.0" fill="#c88070" opacity="0.85" transform="rotate(48 658.2 641.1)"/><ellipse cx="653.6" cy="571.4" rx="3.3" ry="1.4" fill="#a85848" opacity="0.85" transform="rotate(165 653.6 571.4)"/><ellipse cx="586.6" cy="588.8" rx="2.5" ry="1.2" fill="#b0584a" opacity="0.85" transform="rotate(106 586.6 588.8)"/><ellipse cx="602.1" cy="606.3" rx="3.2" ry="1.7" fill="#b0584a" opacity="0.85" transform="rotate(11 602.1 606.3)"/><ellipse cx="676.5" cy="595.4" rx="3.1" ry="2.2" fill="#9a4a3a" opacity="0.85" transform="rotate(116 676.5 595.4)"/><ellipse cx="638.7" cy="583.2" rx="1.6" ry="1.2" fill="#c07060" opacity="0.85" transform="rotate(19 638.7 583.2)"/><ellipse cx="632.1" cy="562.2" rx="1.8" ry="1.2" fill="#a85848" opacity="0.85" transform="rotate(76 632.1 562.2)"/><ellipse cx="624.7" cy="570.2" rx="3.4" ry="1.5" fill="#b0584a" opacity="0.85" transform="rotate(27 624.7 570.2)"/><ellipse cx="662.3" cy="618.9" rx="1.8" ry="2.1" fill="#b0584a" opacity="0.85" transform="rotate(177 662.3 618.9)"/><ellipse cx="609.1" cy="566.6" rx="2.2" ry="2.3" fill="#9a4a3a" opacity="0.85" transform="rotate(27 609.1 566.6)"/><ellipse cx="625.7" cy="596.2" rx="3.7" ry="1.5" fill="#b0584a" opacity="0.85" transform="rotate(152 625.7 596.2)"/><ellipse cx="642.8" cy="625.8" rx="3.2" ry="2.4" fill="#a85848" opacity="0.85" transform="rotate(23 642.8 625.8)"/><ellipse cx="652.3" cy="599.5" rx="3.5" ry="2.5" fill="#c07060" opacity="0.85" transform="rotate(158 652.3 599.5)"/><ellipse cx="613.5" cy="578.9" rx="3.6" ry="1.5" fill="#b0584a" opacity="0.85" transform="rotate(167 613.5 578.9)"/><ellipse cx="607.5" cy="574.3" rx="2.8" ry="1.2" fill="#c07060" opacity="0.85" transform="rotate(155 607.5 574.3)"/><ellipse cx="663.9" cy="638.8" rx="2.6" ry="2.1" fill="#c07060" opacity="0.85" transform="rotate(40 663.9 638.8)"/><ellipse cx="621.4" cy="641.0" rx="1.7" ry="2.3" fill="#b0584a" opacity="0.85" transform="rotate(130 621.4 641.0)"/><ellipse cx="645.7" cy="641.0" rx="3.2" ry="1.1" fill="#a85848" opacity="0.85" transform="rotate(170 645.7 641.0)"/><ellipse cx="644.4" cy="620.3" rx="3.2" ry="1.7" fill="#c88070" opacity="0.85" transform="rotate(56 644.4 620.3)"/><ellipse cx="643.2" cy="606.1" rx="2.9" ry="2.1" fill="#b0584a" opacity="0.85" transform="rotate(47 643.2 606.1)"/><ellipse cx="595.9" cy="590.0" rx="1.6" ry="1.3" fill="#c07060" opacity="0.85" transform="rotate(24 595.9 590.0)"/><ellipse cx="618.7" cy="548.0" rx="1.9" ry="1.2" fill="#c88070" opacity="0.85" transform="rotate(54 618.7 548.0)"/><ellipse cx="621.8" cy="602.9" rx="1.5" ry="1.1" fill="#c88070" opacity="0.85" transform="rotate(6 621.8 602.9)"/><ellipse cx="603.9" cy="610.5" rx="3.5" ry="2.3" fill="#c88070" opacity="0.85" transform="rotate(31 603.9 610.5)"/><ellipse cx="655.9" cy="561.3" rx="2.1" ry="1.8" fill="#a85848" opacity="0.85" transform="rotate(146 655.9 561.3)"/><ellipse cx="613.1" cy="633.9" rx="3.7" ry="1.6" fill="#c88070" opacity="0.85" transform="rotate(53 613.1 633.9)"/><ellipse cx="591.1" cy="628.4" rx="2.2" ry="1.9" fill="#c88070" opacity="0.85" transform="rotate(95 591.1 628.4)"/><ellipse cx="598.2" cy="586.7" rx="2.9" ry="1.4" fill="#b0584a" opacity="0.85" transform="rotate(74 598.2 586.7)"/><ellipse cx="585.3" cy="577.7" rx="2.9" ry="1.8" fill="#a85848" opacity="0.85" transform="rotate(50 585.3 577.7)"/><ellipse cx="658.7" cy="593.6" rx="3.3" ry="2.5" fill="#b0584a" opacity="0.85" transform="rotate(78 658.7 593.6)"/><ellipse cx="677.0" cy="591.6" rx="2.5" ry="2.2" fill="#a85848" opacity="0.85" transform="rotate(156 677.0 591.6)"/><ellipse cx="612.8" cy="635.5" rx="1.7" ry="1.6" fill="#a85848" opacity="0.85" transform="rotate(33 612.8 635.5)"/><ellipse cx="658.8" cy="576.4" rx="2.9" ry="2.3" fill="#c88070" opacity="0.85" transform="rotate(98 658.8 576.4)"/><ellipse cx="608.2" cy="652.8" rx="3.5" ry="2.3" fill="#c88070" opacity="0.85" transform="rotate(168 608.2 652.8)"/><ellipse cx="581.4" cy="578.4" rx="3.7" ry="1.8" fill="#a85848" opacity="0.85" transform="rotate(109 581.4 578.4)"/><ellipse cx="650.1" cy="637.9" rx="2.8" ry="2.1" fill="#c88070" opacity="0.85" transform="rotate(10 650.1 637.9)"/><ellipse cx="585.1" cy="603.2" rx="3.3" ry="2.4" fill="#9a4a3a" opacity="0.85" transform="rotate(8 585.1 603.2)"/><ellipse cx="607.2" cy="632.4" rx="2.4" ry="2.5" fill="#c07060" opacity="0.85" transform="rotate(80 607.2 632.4)"/><ellipse cx="602.7" cy="554.8" rx="3.3" ry="1.0" fill="#b0584a" opacity="0.85" transform="rotate(118 602.7 554.8)"/><ellipse cx="644.5" cy="642.5" rx="1.8" ry="2.0" fill="#c88070" opacity="0.85" transform="rotate(53 644.5 642.5)"/><ellipse cx="613.4" cy="581.7" rx="2.5" ry="2.2" fill="#b0584a" opacity="0.85" transform="rotate(174 613.4 581.7)"/><ellipse cx="619.0" cy="596.9" rx="2.0" ry="2.0" fill="#9a4a3a" opacity="0.85" transform="rotate(102 619.0 596.9)"/><ellipse cx="591.0" cy="592.1" rx="3.2" ry="1.5" fill="#a85848" opacity="0.85" transform="rotate(151 591.0 592.1)"/><ellipse cx="633.4" cy="604.7" rx="3.6" ry="2.2" fill="#a85848" opacity="0.85" transform="rotate(160 633.4 604.7)"/><ellipse cx="635.1" cy="602.6" rx="1.8" ry="2.0" fill="#9a4a3a" opacity="0.85" transform="rotate(4 635.1 602.6)"/><ellipse cx="609.0" cy="624.2" rx="3.2" ry="2.0" fill="#c88070" opacity="0.85" transform="rotate(118 609.0 624.2)"/><ellipse cx="603.3" cy="614.9" rx="3.8" ry="2.1" fill="#c07060" opacity="0.85" transform="rotate(98 603.3 614.9)"/><ellipse cx="654.3" cy="606.7" rx="3.0" ry="1.1" fill="#c07060" opacity="0.85" transform="rotate(147 654.3 606.7)"/><ellipse cx="630.3" cy="650.6" rx="3.8" ry="1.0" fill="#a85848" opacity="0.85" transform="rotate(172 630.3 650.6)"/><ellipse cx="587.7" cy="578.8" rx="2.3" ry="1.1" fill="#9a4a3a" opacity="0.85" transform="rotate(117 587.7 578.8)"/><ellipse cx="598.4" cy="569.8" rx="4.0" ry="1.5" fill="#c07060" opacity="0.85" transform="rotate(125 598.4 569.8)"/><ellipse cx="634.5" cy="633.9" rx="1.7" ry="2.2" fill="#b0584a" opacity="0.85" transform="rotate(102 634.5 633.9)"/><ellipse cx="609.0" cy="576.4" rx="4.0" ry="1.1" fill="#9a4a3a" opacity="0.85" transform="rotate(56 609.0 576.4)"/><ellipse cx="658.1" cy="621.0" rx="3.0" ry="1.5" fill="#c07060" opacity="0.85" transform="rotate(173 658.1 621.0)"/><ellipse cx="586.9" cy="562.3" rx="3.7" ry="2.2" fill="#c88070" opacity="0.85" transform="rotate(171 586.9 562.3)"/><ellipse cx="642.6" cy="640.2" rx="3.1" ry="1.1" fill="#a85848" opacity="0.85" transform="rotate(15 642.6 640.2)"/><ellipse cx="631.9" cy="608.2" rx="2.0" ry="1.6" fill="#c88070" opacity="0.85" transform="rotate(117 631.9 608.2)"/><ellipse cx="603.5" cy="610.9" rx="2.4" ry="1.7" fill="#9a4a3a" opacity="0.85" transform="rotate(45 603.5 610.9)"/><ellipse cx="623.3" cy="650.1" rx="3.3" ry="2.2" fill="#b0584a" opacity="0.85" transform="rotate(1 623.3 650.1)"/><ellipse cx="629.5" cy="613.4" rx="3.8" ry="2.1" fill="#c88070" opacity="0.85" transform="rotate(37 629.5 613.4)"/><ellipse cx="631.3" cy="592.4" rx="2.5" ry="1.6" fill="#b0584a" opacity="0.85" transform="rotate(169 631.3 592.4)"/><ellipse cx="591.0" cy="618.9" rx="3.4" ry="2.1" fill="#b0584a" opacity="0.85" transform="rotate(31 591.0 618.9)"/><ellipse cx="670.6" cy="572.7" rx="1.7" ry="2.1" fill="#c07060" opacity="0.85" transform="rotate(93 670.6 572.7)"/><ellipse cx="623.7" cy="618.8" rx="7.0" ry="6.0" fill="#6e3428" opacity="0.8"/><ellipse cx="647.7" cy="588.8" rx="5.0" ry="5.0" fill="#6e3428" opacity="0.8"/><ellipse cx="607.7" cy="592.8" rx="4.0" ry="6.0" fill="#6e3428" opacity="0.8"/><ellipse cx="655.7" cy="605.8" rx="4.0" ry="5.0" fill="#6e3428" opacity="0.8"/><ellipse cx="589.7" cy="630.8" rx="10.0" ry="6.0" fill="#6e3428" opacity="0.8"/><ellipse cx="585.7" cy="610.8" rx="5.0" ry="4.0" fill="#6e3428" opacity="0.8"/></g>
<path d="M 571.7 605.6 A 55 55 0 0 0 616.9 655" stroke="#2a2624" stroke-width="11" fill="none" clip-path="url(#cd1)" opacity="0.9"/>
<circle cx="753.3" cy="600.3" r="61.5" fill="#242220" />
<circle cx="753.3" cy="600.3" r="55.5" fill="url(#dish2)" />
<g clip-path="url(#cd2)" filter="url(#soft)"><ellipse cx="725.6" cy="593.7" rx="4.7" ry="2.1" fill="#f8f0e4" opacity="0.92" transform="rotate(133 725.6 593.7)"/><ellipse cx="792.1" cy="623.7" rx="5.2" ry="2.8" fill="#f8f0e4" opacity="0.92" transform="rotate(163 792.1 623.7)"/><ellipse cx="765.1" cy="564.9" rx="4.3" ry="2.7" fill="#f8f0e4" opacity="0.92" transform="rotate(151 765.1 564.9)"/><ellipse cx="802.1" cy="590.9" rx="4.4" ry="2.0" fill="#f2e6d6" opacity="0.92" transform="rotate(125 802.1 590.9)"/><ellipse cx="764.4" cy="547.1" rx="2.6" ry="1.9" fill="#f8f0e4" opacity="0.92" transform="rotate(76 764.4 547.1)"/><ellipse cx="781.6" cy="558.2" rx="3.0" ry="2.7" fill="#f8f0e4" opacity="0.92" transform="rotate(157 781.6 558.2)"/><ellipse cx="723.2" cy="629.8" rx="2.7" ry="2.5" fill="#f8f0e4" opacity="0.92" transform="rotate(20 723.2 629.8)"/><ellipse cx="713.2" cy="632.3" rx="4.8" ry="2.4" fill="#fcf6ec" opacity="0.92" transform="rotate(77 713.2 632.3)"/><ellipse cx="746.5" cy="555.9" rx="4.4" ry="2.0" fill="#fcf6ec" opacity="0.92" transform="rotate(99 746.5 555.9)"/><ellipse cx="708.3" cy="584.6" rx="4.7" ry="3.1" fill="#f8f0e4" opacity="0.92" transform="rotate(174 708.3 584.6)"/><ellipse cx="749.0" cy="637.0" rx="4.6" ry="3.3" fill="#f2e6d6" opacity="0.92" transform="rotate(178 749.0 637.0)"/><ellipse cx="754.8" cy="548.7" rx="5.1" ry="2.0" fill="#f8f0e4" opacity="0.92" transform="rotate(21 754.8 548.7)"/><ellipse cx="792.9" cy="607.6" rx="3.4" ry="2.4" fill="#f8f0e4" opacity="0.92" transform="rotate(132 792.9 607.6)"/><ellipse cx="744.2" cy="582.2" rx="2.2" ry="3.4" fill="#fcf6ec" opacity="0.92" transform="rotate(7 744.2 582.2)"/><ellipse cx="792.0" cy="574.7" rx="4.7" ry="1.9" fill="#fcf6ec" opacity="0.92" transform="rotate(90 792.0 574.7)"/><ellipse cx="744.1" cy="613.3" rx="5.5" ry="2.7" fill="#f2e6d6" opacity="0.92" transform="rotate(29 744.1 613.3)"/><ellipse cx="729.6" cy="613.7" rx="2.7" ry="2.0" fill="#fcf6ec" opacity="0.92" transform="rotate(148 729.6 613.7)"/><ellipse cx="776.9" cy="590.7" rx="5.1" ry="3.0" fill="#f2e6d6" opacity="0.92" transform="rotate(81 776.9 590.7)"/><ellipse cx="753.7" cy="593.3" rx="3.4" ry="2.6" fill="#f2e6d6" opacity="0.92" transform="rotate(117 753.7 593.3)"/><ellipse cx="704.4" cy="590.9" rx="3.6" ry="2.6" fill="#f8f0e4" opacity="0.92" transform="rotate(119 704.4 590.9)"/><ellipse cx="725.2" cy="589.6" rx="4.5" ry="3.2" fill="#f8f0e4" opacity="0.92" transform="rotate(93 725.2 589.6)"/><ellipse cx="799.5" cy="608.4" rx="4.1" ry="2.7" fill="#f8f0e4" opacity="0.92" transform="rotate(113 799.5 608.4)"/><ellipse cx="710.0" cy="633.1" rx="4.0" ry="1.8" fill="#fcf6ec" opacity="0.92" transform="rotate(102 710.0 633.1)"/><ellipse cx="786.7" cy="641.0" rx="4.5" ry="1.6" fill="#f2e6d6" opacity="0.92" transform="rotate(145 786.7 641.0)"/><ellipse cx="763.3" cy="641.6" rx="3.3" ry="1.5" fill="#f8f0e4" opacity="0.92" transform="rotate(123 763.3 641.6)"/><ellipse cx="736.2" cy="613.0" rx="4.1" ry="2.3" fill="#f8f0e4" opacity="0.92" transform="rotate(58 736.2 613.0)"/><ellipse cx="726.5" cy="595.2" rx="4.9" ry="2.0" fill="#f2e6d6" opacity="0.92" transform="rotate(90 726.5 595.2)"/><ellipse cx="778.0" cy="585.1" rx="4.7" ry="2.2" fill="#fcf6ec" opacity="0.92" transform="rotate(1 778.0 585.1)"/><ellipse cx="780.9" cy="561.5" rx="4.1" ry="1.7" fill="#fcf6ec" opacity="0.92" transform="rotate(171 780.9 561.5)"/><ellipse cx="720.6" cy="618.0" rx="3.0" ry="3.0" fill="#fcf6ec" opacity="0.92" transform="rotate(172 720.6 618.0)"/><ellipse cx="753.1" cy="607.5" rx="4.1" ry="2.2" fill="#f8f0e4" opacity="0.92" transform="rotate(39 753.1 607.5)"/><ellipse cx="775.7" cy="553.6" rx="3.2" ry="3.3" fill="#fcf6ec" opacity="0.92" transform="rotate(61 775.7 553.6)"/><ellipse cx="787.9" cy="629.3" rx="2.6" ry="2.8" fill="#f2e6d6" opacity="0.92" transform="rotate(26 787.9 629.3)"/><ellipse cx="750.1" cy="639.5" rx="2.9" ry="2.6" fill="#fcf6ec" opacity="0.92" transform="rotate(93 750.1 639.5)"/><ellipse cx="718.4" cy="578.8" rx="4.8" ry="1.7" fill="#f2e6d6" opacity="0.92" transform="rotate(14 718.4 578.8)"/><ellipse cx="771.1" cy="588.6" rx="3.4" ry="3.0" fill="#f2e6d6" opacity="0.92" transform="rotate(123 771.1 588.6)"/><ellipse cx="784.2" cy="617.5" rx="4.2" ry="3.4" fill="#f2e6d6" opacity="0.92" transform="rotate(165 784.2 617.5)"/><ellipse cx="791.4" cy="597.6" rx="3.7" ry="2.6" fill="#fcf6ec" opacity="0.92" transform="rotate(114 791.4 597.6)"/><ellipse cx="772.1" cy="584.3" rx="2.0" ry="3.2" fill="#f8f0e4" opacity="0.92" transform="rotate(47 772.1 584.3)"/><ellipse cx="802.2" cy="608.4" rx="4.3" ry="3.1" fill="#f8f0e4" opacity="0.92" transform="rotate(71 802.2 608.4)"/><ellipse cx="753.9" cy="645.1" rx="2.9" ry="2.3" fill="#fcf6ec" opacity="0.92" transform="rotate(49 753.9 645.1)"/><ellipse cx="748.5" cy="651.3" rx="2.7" ry="1.9" fill="#f8f0e4" opacity="0.92" transform="rotate(59 748.5 651.3)"/><ellipse cx="749.2" cy="623.9" rx="4.4" ry="3.3" fill="#fcf6ec" opacity="0.92" transform="rotate(106 749.2 623.9)"/><ellipse cx="770.7" cy="602.7" rx="4.3" ry="2.3" fill="#f2e6d6" opacity="0.92" transform="rotate(25 770.7 602.7)"/><ellipse cx="763.9" cy="633.7" rx="4.4" ry="2.3" fill="#f8f0e4" opacity="0.92" transform="rotate(74 763.9 633.7)"/><ellipse cx="786.7" cy="616.1" rx="4.4" ry="2.8" fill="#f8f0e4" opacity="0.92" transform="rotate(83 786.7 616.1)"/><ellipse cx="725.0" cy="604.1" rx="5.2" ry="2.4" fill="#fcf6ec" opacity="0.92" transform="rotate(43 725.0 604.1)"/><ellipse cx="783.2" cy="575.5" rx="2.7" ry="2.4" fill="#f2e6d6" opacity="0.92" transform="rotate(164 783.2 575.5)"/><ellipse cx="758.1" cy="592.4" rx="2.9" ry="2.1" fill="#fcf6ec" opacity="0.92" transform="rotate(39 758.1 592.4)"/><ellipse cx="791.6" cy="579.1" rx="2.3" ry="3.2" fill="#f8f0e4" opacity="0.92" transform="rotate(166 791.6 579.1)"/><ellipse cx="767.3" cy="626.2" rx="2.8" ry="1.9" fill="#fcf6ec" opacity="0.92" transform="rotate(170 767.3 626.2)"/><ellipse cx="787.9" cy="618.1" rx="3.6" ry="2.5" fill="#fcf6ec" opacity="0.92" transform="rotate(26 787.9 618.1)"/><ellipse cx="760.4" cy="617.9" rx="3.7" ry="2.5" fill="#fcf6ec" opacity="0.92" transform="rotate(114 760.4 617.9)"/><ellipse cx="758.2" cy="568.6" rx="3.6" ry="1.6" fill="#f8f0e4" opacity="0.92" transform="rotate(76 758.2 568.6)"/><ellipse cx="730.2" cy="595.9" rx="4.1" ry="2.5" fill="#f8f0e4" opacity="0.92" transform="rotate(51 730.2 595.9)"/><ellipse cx="772.7" cy="621.7" rx="3.5" ry="3.3" fill="#fcf6ec" opacity="0.92" transform="rotate(120 772.7 621.7)"/><ellipse cx="771.2" cy="628.6" rx="4.9" ry="3.3" fill="#fcf6ec" opacity="0.92" transform="rotate(101 771.2 628.6)"/><ellipse cx="761.9" cy="641.3" rx="3.9" ry="3.1" fill="#f2e6d6" opacity="0.92" transform="rotate(122 761.9 641.3)"/><ellipse cx="758.3" cy="570.1" rx="5.4" ry="2.8" fill="#fcf6ec" opacity="0.92" transform="rotate(13 758.3 570.1)"/><ellipse cx="734.4" cy="558.5" rx="2.0" ry="2.6" fill="#f2e6d6" opacity="0.92" transform="rotate(179 734.4 558.5)"/><ellipse cx="793.5" cy="618.7" rx="3.4" ry="2.7" fill="#f8f0e4" opacity="0.92" transform="rotate(136 793.5 618.7)"/><ellipse cx="773.6" cy="576.5" rx="5.3" ry="1.5" fill="#fcf6ec" opacity="0.92" transform="rotate(94 773.6 576.5)"/><ellipse cx="759.4" cy="548.0" rx="3.3" ry="3.0" fill="#f8f0e4" opacity="0.92" transform="rotate(162 759.4 548.0)"/><ellipse cx="753.7" cy="619.2" rx="3.2" ry="1.7" fill="#f8f0e4" opacity="0.92" transform="rotate(9 753.7 619.2)"/><ellipse cx="751.4" cy="617.3" rx="2.3" ry="2.9" fill="#fcf6ec" opacity="0.92" transform="rotate(35 751.4 617.3)"/><ellipse cx="728.4" cy="589.2" rx="4.2" ry="1.9" fill="#f2e6d6" opacity="0.92" transform="rotate(25 728.4 589.2)"/><ellipse cx="722.3" cy="588.2" rx="2.7" ry="2.2" fill="#fcf6ec" opacity="0.92" transform="rotate(86 722.3 588.2)"/><ellipse cx="773.0" cy="551.6" rx="4.6" ry="2.5" fill="#f2e6d6" opacity="0.92" transform="rotate(98 773.0 551.6)"/><ellipse cx="757.8" cy="592.5" rx="2.5" ry="2.6" fill="#fcf6ec" opacity="0.92" transform="rotate(42 757.8 592.5)"/><ellipse cx="761.9" cy="647.6" rx="3.5" ry="1.8" fill="#fcf6ec" opacity="0.92" transform="rotate(56 761.9 647.6)"/><ellipse cx="792.2" cy="601.2" rx="3.6" ry="1.8" fill="#fcf6ec" opacity="0.92" transform="rotate(56 792.2 601.2)"/><ellipse cx="711.6" cy="595.4" rx="5.3" ry="2.9" fill="#f8f0e4" opacity="0.92" transform="rotate(73 711.6 595.4)"/><ellipse cx="721.2" cy="633.4" rx="5.3" ry="3.5" fill="#f2e6d6" opacity="0.92" transform="rotate(175 721.2 633.4)"/><ellipse cx="786.0" cy="621.3" rx="4.4" ry="3.1" fill="#f2e6d6" opacity="0.92" transform="rotate(119 786.0 621.3)"/><ellipse cx="800.1" cy="593.6" rx="3.1" ry="2.9" fill="#f2e6d6" opacity="0.92" transform="rotate(58 800.1 593.6)"/><ellipse cx="753.0" cy="645.1" rx="4.5" ry="2.4" fill="#fcf6ec" opacity="0.92" transform="rotate(142 753.0 645.1)"/><ellipse cx="711.7" cy="622.8" rx="4.2" ry="1.9" fill="#fcf6ec" opacity="0.92" transform="rotate(133 711.7 622.8)"/><ellipse cx="741.7" cy="586.8" rx="3.5" ry="2.3" fill="#f8f0e4" opacity="0.92" transform="rotate(147 741.7 586.8)"/><ellipse cx="769.2" cy="630.1" rx="2.1" ry="2.3" fill="#f8f0e4" opacity="0.92" transform="rotate(27 769.2 630.1)"/><ellipse cx="757.2" cy="570.5" rx="2.4" ry="1.9" fill="#f8f0e4" opacity="0.92" transform="rotate(39 757.2 570.5)"/><ellipse cx="764.1" cy="630.6" rx="3.2" ry="2.5" fill="#f8f0e4" opacity="0.92" transform="rotate(162 764.1 630.6)"/><ellipse cx="743.1" cy="581.7" rx="3.8" ry="2.1" fill="#f8f0e4" opacity="0.92" transform="rotate(24 743.1 581.7)"/><ellipse cx="757.0" cy="647.4" rx="5.5" ry="1.6" fill="#fcf6ec" opacity="0.92" transform="rotate(91 757.0 647.4)"/><ellipse cx="740.7" cy="636.6" rx="2.6" ry="2.6" fill="#f8f0e4" opacity="0.92" transform="rotate(15 740.7 636.6)"/><ellipse cx="801.0" cy="609.7" rx="4.7" ry="1.7" fill="#f8f0e4" opacity="0.92" transform="rotate(69 801.0 609.7)"/><ellipse cx="726.0" cy="574.3" rx="3.6" ry="1.6" fill="#f8f0e4" opacity="0.92" transform="rotate(109 726.0 574.3)"/><ellipse cx="727.2" cy="598.0" rx="3.7" ry="3.1" fill="#f8f0e4" opacity="0.92" transform="rotate(57 727.2 598.0)"/><ellipse cx="719.3" cy="614.4" rx="2.5" ry="2.7" fill="#f2e6d6" opacity="0.92" transform="rotate(105 719.3 614.4)"/><ellipse cx="788.5" cy="584.5" rx="2.3" ry="3.2" fill="#f8f0e4" opacity="0.92" transform="rotate(158 788.5 584.5)"/><ellipse cx="752.7" cy="569.2" rx="4.7" ry="1.9" fill="#f2e6d6" opacity="0.92" transform="rotate(166 752.7 569.2)"/><ellipse cx="726.1" cy="634.4" rx="5.4" ry="3.1" fill="#f2e6d6" opacity="0.92" transform="rotate(17 726.1 634.4)"/><ellipse cx="715.8" cy="567.4" rx="4.0" ry="3.5" fill="#f8f0e4" opacity="0.92" transform="rotate(1 715.8 567.4)"/><ellipse cx="774.6" cy="579.9" rx="4.5" ry="2.3" fill="#f8f0e4" opacity="0.92" transform="rotate(146 774.6 579.9)"/><ellipse cx="737.1" cy="641.6" rx="4.7" ry="3.4" fill="#f8f0e4" opacity="0.92" transform="rotate(11 737.1 641.6)"/><ellipse cx="770.6" cy="570.1" rx="4.4" ry="3.0" fill="#f2e6d6" opacity="0.92" transform="rotate(33 770.6 570.1)"/><ellipse cx="788.6" cy="588.7" rx="3.0" ry="3.5" fill="#f8f0e4" opacity="0.92" transform="rotate(166 788.6 588.7)"/><ellipse cx="763.7" cy="589.6" rx="3.8" ry="2.6" fill="#f2e6d6" opacity="0.92" transform="rotate(121 763.7 589.6)"/><ellipse cx="732.4" cy="574.7" rx="3.8" ry="1.8" fill="#f2e6d6" opacity="0.92" transform="rotate(105 732.4 574.7)"/><ellipse cx="729.0" cy="632.8" rx="2.9" ry="3.3" fill="#f8f0e4" opacity="0.92" transform="rotate(27 729.0 632.8)"/><ellipse cx="761.6" cy="551.1" rx="3.4" ry="3.2" fill="#f8f0e4" opacity="0.92" transform="rotate(22 761.6 551.1)"/><ellipse cx="704.0" cy="595.8" rx="3.1" ry="3.4" fill="#f2e6d6" opacity="0.92" transform="rotate(57 704.0 595.8)"/><ellipse cx="787.0" cy="608.1" rx="2.2" ry="3.1" fill="#f8f0e4" opacity="0.92" transform="rotate(118 787.0 608.1)"/><ellipse cx="772.9" cy="567.8" rx="4.9" ry="1.7" fill="#f8f0e4" opacity="0.92" transform="rotate(74 772.9 567.8)"/><ellipse cx="789.6" cy="561.1" rx="4.9" ry="2.8" fill="#f2e6d6" opacity="0.92" transform="rotate(133 789.6 561.1)"/><ellipse cx="773.3" cy="604.4" rx="2.4" ry="2.9" fill="#f8f0e4" opacity="0.92" transform="rotate(153 773.3 604.4)"/><ellipse cx="754.8" cy="647.1" rx="4.6" ry="3.4" fill="#fcf6ec" opacity="0.92" transform="rotate(138 754.8 647.1)"/><ellipse cx="752.4" cy="556.4" rx="4.2" ry="1.6" fill="#fcf6ec" opacity="0.92" transform="rotate(127 752.4 556.4)"/><ellipse cx="711.4" cy="572.8" rx="3.9" ry="3.3" fill="#f8f0e4" opacity="0.92" transform="rotate(39 711.4 572.8)"/><ellipse cx="782.9" cy="576.1" rx="2.3" ry="2.5" fill="#fcf6ec" opacity="0.92" transform="rotate(45 782.9 576.1)"/><ellipse cx="752.3" cy="607.5" rx="4.0" ry="2.5" fill="#f8f0e4" opacity="0.92" transform="rotate(68 752.3 607.5)"/><ellipse cx="706.8" cy="600.0" rx="3.2" ry="2.8" fill="#f8f0e4" opacity="0.92" transform="rotate(62 706.8 600.0)"/><ellipse cx="753.0" cy="613.2" rx="2.1" ry="3.5" fill="#f2e6d6" opacity="0.92" transform="rotate(43 753.0 613.2)"/><ellipse cx="785.5" cy="630.5" rx="4.4" ry="2.6" fill="#f8f0e4" opacity="0.92" transform="rotate(171 785.5 630.5)"/><ellipse cx="735.1" cy="632.0" rx="3.0" ry="3.1" fill="#fcf6ec" opacity="0.92" transform="rotate(58 735.1 632.0)"/><ellipse cx="776.4" cy="633.7" rx="3.4" ry="1.6" fill="#fcf6ec" opacity="0.92" transform="rotate(117 776.4 633.7)"/><ellipse cx="731.7" cy="647.9" rx="3.5" ry="2.6" fill="#fcf6ec" opacity="0.92" transform="rotate(51 731.7 647.9)"/><ellipse cx="777.8" cy="644.1" rx="2.5" ry="2.6" fill="#fcf6ec" opacity="0.92" transform="rotate(66 777.8 644.1)"/><ellipse cx="705.5" cy="602.0" rx="4.4" ry="2.4" fill="#f2e6d6" opacity="0.92" transform="rotate(22 705.5 602.0)"/><ellipse cx="712.6" cy="590.1" rx="5.4" ry="3.2" fill="#fcf6ec" opacity="0.92" transform="rotate(54 712.6 590.1)"/><ellipse cx="783.1" cy="569.6" rx="4.1" ry="3.3" fill="#fcf6ec" opacity="0.92" transform="rotate(108 783.1 569.6)"/><ellipse cx="746.7" cy="557.0" rx="4.6" ry="3.4" fill="#f8f0e4" opacity="0.92" transform="rotate(75 746.7 557.0)"/><ellipse cx="760.0" cy="624.0" rx="4.9" ry="2.1" fill="#f2e6d6" opacity="0.92" transform="rotate(154 760.0 624.0)"/><ellipse cx="737.1" cy="629.7" rx="2.0" ry="2.6" fill="#f2e6d6" opacity="0.92" transform="rotate(118 737.1 629.7)"/><ellipse cx="755.7" cy="647.6" rx="4.3" ry="2.6" fill="#f8f0e4" opacity="0.92" transform="rotate(123 755.7 647.6)"/><ellipse cx="774.0" cy="562.8" rx="2.7" ry="3.3" fill="#fcf6ec" opacity="0.92" transform="rotate(178 774.0 562.8)"/><ellipse cx="777.9" cy="634.1" rx="4.1" ry="2.9" fill="#f8f0e4" opacity="0.92" transform="rotate(71 777.9 634.1)"/><ellipse cx="750.6" cy="605.7" rx="4.2" ry="1.6" fill="#f2e6d6" opacity="0.92" transform="rotate(19 750.6 605.7)"/><ellipse cx="708.8" cy="584.2" rx="4.8" ry="3.0" fill="#f2e6d6" opacity="0.92" transform="rotate(164 708.8 584.2)"/><ellipse cx="803.0" cy="608.4" rx="4.4" ry="3.3" fill="#f2e6d6" opacity="0.92" transform="rotate(136 803.0 608.4)"/><ellipse cx="738.6" cy="554.5" rx="2.5" ry="3.5" fill="#f8f0e4" opacity="0.92" transform="rotate(7 738.6 554.5)"/><ellipse cx="712.6" cy="593.0" rx="2.7" ry="3.2" fill="#f8f0e4" opacity="0.92" transform="rotate(97 712.6 593.0)"/><ellipse cx="798.5" cy="619.0" rx="3.5" ry="2.4" fill="#f8f0e4" opacity="0.92" transform="rotate(49 798.5 619.0)"/><ellipse cx="767.2" cy="638.1" rx="2.3" ry="1.7" fill="#f2e6d6" opacity="0.92" transform="rotate(141 767.2 638.1)"/><ellipse cx="799.0" cy="604.4" rx="3.4" ry="1.9" fill="#f8f0e4" opacity="0.92" transform="rotate(110 799.0 604.4)"/><ellipse cx="732.5" cy="556.3" rx="3.2" ry="2.6" fill="#fcf6ec" opacity="0.92" transform="rotate(111 732.5 556.3)"/><ellipse cx="749.1" cy="603.8" rx="2.7" ry="1.5" fill="#fcf6ec" opacity="0.92" transform="rotate(159 749.1 603.8)"/><ellipse cx="734.0" cy="593.9" rx="3.4" ry="2.8" fill="#fcf6ec" opacity="0.92" transform="rotate(65 734.0 593.9)"/><ellipse cx="748.5" cy="576.0" rx="3.4" ry="1.6" fill="#f2e6d6" opacity="0.92" transform="rotate(147 748.5 576.0)"/><ellipse cx="764.6" cy="633.0" rx="4.0" ry="1.8" fill="#f2e6d6" opacity="0.92" transform="rotate(96 764.6 633.0)"/><ellipse cx="756.5" cy="554.3" rx="2.3" ry="2.7" fill="#fcf6ec" opacity="0.92" transform="rotate(8 756.5 554.3)"/><ellipse cx="791.5" cy="568.2" rx="4.4" ry="1.8" fill="#f8f0e4" opacity="0.92" transform="rotate(48 791.5 568.2)"/><ellipse cx="761.8" cy="549.6" rx="5.4" ry="1.5" fill="#fcf6ec" opacity="0.92" transform="rotate(102 761.8 549.6)"/><ellipse cx="749.8" cy="560.6" rx="5.3" ry="3.4" fill="#f8f0e4" opacity="0.92" transform="rotate(33 749.8 560.6)"/><ellipse cx="780.5" cy="561.3" rx="4.7" ry="3.1" fill="#fcf6ec" opacity="0.92" transform="rotate(128 780.5 561.3)"/><ellipse cx="706.0" cy="573.6" rx="2.2" ry="2.2" fill="#fcf6ec" opacity="0.92" transform="rotate(67 706.0 573.6)"/><ellipse cx="706.3" cy="628.1" rx="4.9" ry="2.8" fill="#f2e6d6" opacity="0.92" transform="rotate(139 706.3 628.1)"/><ellipse cx="768.1" cy="579.6" rx="4.1" ry="2.3" fill="#fcf6ec" opacity="0.92" transform="rotate(53 768.1 579.6)"/><ellipse cx="740.0" cy="586.8" rx="3.4" ry="2.9" fill="#f2e6d6" opacity="0.92" transform="rotate(132 740.0 586.8)"/><ellipse cx="780.7" cy="572.9" rx="4.9" ry="2.1" fill="#f8f0e4" opacity="0.92" transform="rotate(6 780.7 572.9)"/><ellipse cx="721.5" cy="568.4" rx="2.4" ry="1.5" fill="#fcf6ec" opacity="0.92" transform="rotate(37 721.5 568.4)"/><ellipse cx="773.4" cy="648.8" rx="4.0" ry="1.7" fill="#f2e6d6" opacity="0.92" transform="rotate(85 773.4 648.8)"/><ellipse cx="746.8" cy="575.0" rx="5.2" ry="3.4" fill="#f2e6d6" opacity="0.92" transform="rotate(42 746.8 575.0)"/><ellipse cx="734.5" cy="611.8" rx="2.8" ry="2.4" fill="#f2e6d6" opacity="0.92" transform="rotate(179 734.5 611.8)"/><ellipse cx="757.4" cy="577.0" rx="4.6" ry="3.4" fill="#f2e6d6" opacity="0.92" transform="rotate(144 757.4 577.0)"/><ellipse cx="715.9" cy="628.7" rx="2.7" ry="3.1" fill="#f8f0e4" opacity="0.92" transform="rotate(19 715.9 628.7)"/><ellipse cx="737.4" cy="610.0" rx="2.3" ry="2.0" fill="#f8f0e4" opacity="0.92" transform="rotate(33 737.4 610.0)"/><ellipse cx="753.4" cy="652.9" rx="2.2" ry="3.2" fill="#fcf6ec" opacity="0.92" transform="rotate(1 753.4 652.9)"/><ellipse cx="803.4" cy="580.4" rx="4.9" ry="3.2" fill="#f8f0e4" opacity="0.92" transform="rotate(161 803.4 580.4)"/><ellipse cx="752.7" cy="642.8" rx="3.7" ry="1.8" fill="#fcf6ec" opacity="0.92" transform="rotate(77 752.7 642.8)"/><ellipse cx="758.7" cy="608.8" rx="3.5" ry="3.1" fill="#f2e6d6" opacity="0.92" transform="rotate(61 758.7 608.8)"/><ellipse cx="784.8" cy="638.4" rx="4.1" ry="2.1" fill="#f8f0e4" opacity="0.92" transform="rotate(139 784.8 638.4)"/><ellipse cx="777.0" cy="632.3" rx="3.4" ry="3.4" fill="#fcf6ec" opacity="0.92" transform="rotate(169 777.0 632.3)"/><ellipse cx="729.4" cy="632.2" rx="4.1" ry="3.3" fill="#f2e6d6" opacity="0.92" transform="rotate(22 729.4 632.2)"/><ellipse cx="744.4" cy="647.8" rx="2.8" ry="2.0" fill="#f8f0e4" opacity="0.92" transform="rotate(37 744.4 647.8)"/><ellipse cx="774.8" cy="556.9" rx="5.5" ry="3.3" fill="#fcf6ec" opacity="0.92" transform="rotate(58 774.8 556.9)"/><ellipse cx="794.8" cy="621.5" rx="4.7" ry="3.0" fill="#fcf6ec" opacity="0.92" transform="rotate(77 794.8 621.5)"/><ellipse cx="747.5" cy="628.4" rx="4.3" ry="2.9" fill="#f8f0e4" opacity="0.92" transform="rotate(49 747.5 628.4)"/><ellipse cx="780.8" cy="574.4" rx="4.3" ry="3.5" fill="#fcf6ec" opacity="0.92" transform="rotate(72 780.8 574.4)"/><ellipse cx="759.4" cy="615.7" rx="3.4" ry="2.1" fill="#fcf6ec" opacity="0.92" transform="rotate(47 759.4 615.7)"/><ellipse cx="717.6" cy="638.2" rx="3.0" ry="1.8" fill="#f2e6d6" opacity="0.92" transform="rotate(107 717.6 638.2)"/><ellipse cx="737.4" cy="595.5" rx="2.5" ry="3.4" fill="#f8f0e4" opacity="0.92" transform="rotate(27 737.4 595.5)"/><ellipse cx="788.2" cy="577.3" rx="2.3" ry="3.1" fill="#fcf6ec" opacity="0.92" transform="rotate(77 788.2 577.3)"/><ellipse cx="765.8" cy="593.6" rx="3.6" ry="3.2" fill="#f8f0e4" opacity="0.92" transform="rotate(43 765.8 593.6)"/><ellipse cx="703.1" cy="584.9" rx="3.9" ry="2.8" fill="#fcf6ec" opacity="0.92" transform="rotate(141 703.1 584.9)"/><ellipse cx="754.9" cy="654.3" rx="3.7" ry="2.7" fill="#fcf6ec" opacity="0.92" transform="rotate(170 754.9 654.3)"/><ellipse cx="782.0" cy="602.8" rx="2.2" ry="2.9" fill="#f8f0e4" opacity="0.92" transform="rotate(54 782.0 602.8)"/><ellipse cx="753.7" cy="612.6" rx="2.3" ry="2.3" fill="#f2e6d6" opacity="0.92" transform="rotate(175 753.7 612.6)"/><ellipse cx="748.6" cy="577.5" rx="3.8" ry="3.4" fill="#f8f0e4" opacity="0.92" transform="rotate(42 748.6 577.5)"/><ellipse cx="745.0" cy="575.8" rx="4.4" ry="3.0" fill="#f2e6d6" opacity="0.92" transform="rotate(179 745.0 575.8)"/><ellipse cx="726.0" cy="640.9" rx="2.6" ry="2.2" fill="#f8f0e4" opacity="0.92" transform="rotate(67 726.0 640.9)"/><ellipse cx="788.4" cy="597.8" rx="3.7" ry="2.7" fill="#fcf6ec" opacity="0.92" transform="rotate(144 788.4 597.8)"/><ellipse cx="772.6" cy="650.7" rx="2.7" ry="3.3" fill="#f2e6d6" opacity="0.92" transform="rotate(48 772.6 650.7)"/><ellipse cx="767.7" cy="579.4" rx="5.0" ry="2.6" fill="#fcf6ec" opacity="0.92" transform="rotate(122 767.7 579.4)"/><ellipse cx="754.6" cy="556.5" rx="4.1" ry="2.1" fill="#f2e6d6" opacity="0.92" transform="rotate(61 754.6 556.5)"/><ellipse cx="709.6" cy="574.2" rx="3.6" ry="2.9" fill="#f8f0e4" opacity="0.92" transform="rotate(57 709.6 574.2)"/><ellipse cx="765.2" cy="552.7" rx="4.9" ry="3.1" fill="#f8f0e4" opacity="0.92" transform="rotate(2 765.2 552.7)"/><ellipse cx="761.1" cy="638.2" rx="2.6" ry="2.4" fill="#fcf6ec" opacity="0.92" transform="rotate(163 761.1 638.2)"/><ellipse cx="757.8" cy="553.1" rx="2.7" ry="2.2" fill="#f8f0e4" opacity="0.92" transform="rotate(158 757.8 553.1)"/><ellipse cx="794.9" cy="568.1" rx="4.5" ry="3.1" fill="#f8f0e4" opacity="0.92" transform="rotate(129 794.9 568.1)"/><ellipse cx="702.5" cy="589.9" rx="4.2" ry="1.8" fill="#fcf6ec" opacity="0.92" transform="rotate(138 702.5 589.9)"/><ellipse cx="752.9" cy="563.1" rx="4.2" ry="2.0" fill="#f8f0e4" opacity="0.92" transform="rotate(155 752.9 563.1)"/><ellipse cx="726.4" cy="632.2" rx="5.3" ry="3.4" fill="#f8f0e4" opacity="0.92" transform="rotate(46 726.4 632.2)"/><ellipse cx="766.0" cy="642.2" rx="3.7" ry="2.0" fill="#fcf6ec" opacity="0.92" transform="rotate(61 766.0 642.2)"/><ellipse cx="728.7" cy="591.9" rx="5.2" ry="3.0" fill="#fcf6ec" opacity="0.92" transform="rotate(121 728.7 591.9)"/><ellipse cx="736.2" cy="580.5" rx="4.9" ry="2.0" fill="#f2e6d6" opacity="0.92" transform="rotate(67 736.2 580.5)"/><ellipse cx="710.4" cy="619.8" rx="5.3" ry="1.8" fill="#f8f0e4" opacity="0.92" transform="rotate(64 710.4 619.8)"/><ellipse cx="725.0" cy="623.3" rx="3.6" ry="2.5" fill="#f8f0e4" opacity="0.92" transform="rotate(77 725.0 623.3)"/><ellipse cx="717.7" cy="621.0" rx="2.8" ry="2.9" fill="#f2e6d6" opacity="0.92" transform="rotate(139 717.7 621.0)"/><ellipse cx="726.5" cy="597.2" rx="3.0" ry="3.2" fill="#f2e6d6" opacity="0.92" transform="rotate(153 726.5 597.2)"/><ellipse cx="782.9" cy="585.0" rx="3.5" ry="3.3" fill="#f2e6d6" opacity="0.92" transform="rotate(160 782.9 585.0)"/><ellipse cx="778.9" cy="553.3" rx="2.1" ry="2.1" fill="#f2e6d6" opacity="0.92" transform="rotate(16 778.9 553.3)"/><ellipse cx="764.2" cy="582.4" rx="2.7" ry="1.9" fill="#f2e6d6" opacity="0.92" transform="rotate(58 764.2 582.4)"/><ellipse cx="774.8" cy="583.2" rx="4.9" ry="2.6" fill="#f8f0e4" opacity="0.92" transform="rotate(156 774.8 583.2)"/><ellipse cx="716.7" cy="616.7" rx="4.4" ry="3.1" fill="#f2e6d6" opacity="0.92" transform="rotate(9 716.7 616.7)"/><ellipse cx="794.9" cy="587.1" rx="4.0" ry="3.4" fill="#f8f0e4" opacity="0.92" transform="rotate(65 794.9 587.1)"/><ellipse cx="739.0" cy="629.1" rx="4.8" ry="2.7" fill="#f2e6d6" opacity="0.92" transform="rotate(121 739.0 629.1)"/><ellipse cx="698.3" cy="600.1" rx="3.6" ry="3.1" fill="#f8f0e4" opacity="0.92" transform="rotate(162 698.3 600.1)"/><ellipse cx="763.5" cy="576.8" rx="3.1" ry="2.2" fill="#f2e6d6" opacity="0.92" transform="rotate(85 763.5 576.8)"/><ellipse cx="785.1" cy="623.8" rx="2.4" ry="3.4" fill="#f8f0e4" opacity="0.92" transform="rotate(74 785.1 623.8)"/><ellipse cx="753.0" cy="640.8" rx="2.6" ry="2.7" fill="#f8f0e4" opacity="0.92" transform="rotate(44 753.0 640.8)"/><ellipse cx="776.5" cy="553.6" rx="4.6" ry="2.9" fill="#fcf6ec" opacity="0.92" transform="rotate(104 776.5 553.6)"/><ellipse cx="728.0" cy="606.6" rx="3.8" ry="3.2" fill="#f8f0e4" opacity="0.92" transform="rotate(57 728.0 606.6)"/><ellipse cx="711.8" cy="578.4" rx="3.2" ry="2.6" fill="#f8f0e4" opacity="0.92" transform="rotate(133 711.8 578.4)"/><ellipse cx="734.5" cy="579.8" rx="4.0" ry="2.8" fill="#f8f0e4" opacity="0.92" transform="rotate(33 734.5 579.8)"/><ellipse cx="772.0" cy="602.8" rx="3.5" ry="2.4" fill="#fcf6ec" opacity="0.92" transform="rotate(115 772.0 602.8)"/><ellipse cx="793.2" cy="631.7" rx="3.8" ry="2.0" fill="#fcf6ec" opacity="0.92" transform="rotate(171 793.2 631.7)"/><ellipse cx="785.1" cy="568.4" rx="3.3" ry="3.4" fill="#f2e6d6" opacity="0.92" transform="rotate(84 785.1 568.4)"/><ellipse cx="720.4" cy="586.5" rx="3.4" ry="1.6" fill="#f2e6d6" opacity="0.92" transform="rotate(157 720.4 586.5)"/><ellipse cx="751.2" cy="610.3" rx="3.0" ry="1.8" fill="#f8f0e4" opacity="0.92" transform="rotate(177 751.2 610.3)"/><ellipse cx="772.4" cy="574.8" rx="3.2" ry="3.5" fill="#f2e6d6" opacity="0.92" transform="rotate(45 772.4 574.8)"/><ellipse cx="794.9" cy="597.1" rx="4.0" ry="2.2" fill="#fcf6ec" opacity="0.92" transform="rotate(122 794.9 597.1)"/><ellipse cx="710.9" cy="633.9" rx="3.5" ry="3.1" fill="#f2e6d6" opacity="0.92" transform="rotate(44 710.9 633.9)"/><ellipse cx="793.8" cy="580.8" rx="3.0" ry="2.4" fill="#f8f0e4" opacity="0.92" transform="rotate(89 793.8 580.8)"/><ellipse cx="702.3" cy="610.3" rx="4.0" ry="2.5" fill="#f2e6d6" opacity="0.92" transform="rotate(121 702.3 610.3)"/><ellipse cx="768.5" cy="613.9" rx="4.2" ry="2.8" fill="#f2e6d6" opacity="0.92" transform="rotate(8 768.5 613.9)"/><ellipse cx="748.1" cy="621.6" rx="4.9" ry="3.0" fill="#fcf6ec" opacity="0.92" transform="rotate(114 748.1 621.6)"/><ellipse cx="795.9" cy="614.0" rx="5.5" ry="1.5" fill="#f8f0e4" opacity="0.92" transform="rotate(96 795.9 614.0)"/><ellipse cx="746.7" cy="590.8" rx="2.3" ry="2.3" fill="#f8f0e4" opacity="0.92" transform="rotate(142 746.7 590.8)"/><ellipse cx="733.6" cy="630.1" rx="4.7" ry="3.2" fill="#f8f0e4" opacity="0.92" transform="rotate(8 733.6 630.1)"/><ellipse cx="732.3" cy="602.0" rx="3.0" ry="2.5" fill="#fcf6ec" opacity="0.92" transform="rotate(19 732.3 602.0)"/><ellipse cx="745.6" cy="608.0" rx="3.2" ry="3.5" fill="#fcf6ec" opacity="0.92" transform="rotate(84 745.6 608.0)"/><ellipse cx="791.6" cy="600.3" rx="2.6" ry="2.4" fill="#fcf6ec" opacity="0.92" transform="rotate(100 791.6 600.3)"/><ellipse cx="758.2" cy="595.8" rx="2.2" ry="2.8" fill="#fcf6ec" opacity="0.92" transform="rotate(89 758.2 595.8)"/><ellipse cx="761.4" cy="553.7" rx="4.2" ry="2.0" fill="#f2e6d6" opacity="0.92" transform="rotate(44 761.4 553.7)"/><ellipse cx="791.2" cy="625.7" rx="4.6" ry="3.5" fill="#f8f0e4" opacity="0.92" transform="rotate(111 791.2 625.7)"/><ellipse cx="759.1" cy="549.0" rx="2.2" ry="2.6" fill="#f8f0e4" opacity="0.92" transform="rotate(104 759.1 549.0)"/><ellipse cx="740.1" cy="574.2" rx="3.9" ry="2.9" fill="#f8f0e4" opacity="0.92" transform="rotate(109 740.1 574.2)"/><ellipse cx="746.7" cy="597.4" rx="4.7" ry="2.7" fill="#f8f0e4" opacity="0.92" transform="rotate(91 746.7 597.4)"/><ellipse cx="727.4" cy="564.1" rx="2.8" ry="2.5" fill="#f2e6d6" opacity="0.92" transform="rotate(77 727.4 564.1)"/><ellipse cx="796.6" cy="587.1" rx="4.2" ry="2.0" fill="#f2e6d6" opacity="0.92" transform="rotate(157 796.6 587.1)"/><ellipse cx="742.8" cy="645.3" rx="2.6" ry="1.6" fill="#f8f0e4" opacity="0.92" transform="rotate(28 742.8 645.3)"/><ellipse cx="721.3" cy="578.3" rx="4.6" ry="1.5" fill="#fcf6ec" opacity="0.92" transform="rotate(106 721.3 578.3)"/><ellipse cx="767.5" cy="579.5" rx="3.5" ry="1.9" fill="#fcf6ec" opacity="0.92" transform="rotate(41 767.5 579.5)"/><ellipse cx="740.8" cy="552.6" rx="2.3" ry="3.1" fill="#f2e6d6" opacity="0.92" transform="rotate(177 740.8 552.6)"/><ellipse cx="750.9" cy="554.8" rx="2.9" ry="3.5" fill="#f8f0e4" opacity="0.92" transform="rotate(71 750.9 554.8)"/><ellipse cx="716.4" cy="600.4" rx="3.3" ry="3.2" fill="#f8f0e4" opacity="0.92" transform="rotate(153 716.4 600.4)"/><ellipse cx="756.0" cy="567.4" rx="3.7" ry="2.8" fill="#fcf6ec" opacity="0.92" transform="rotate(71 756.0 567.4)"/><ellipse cx="772.0" cy="561.0" rx="4.8" ry="2.7" fill="#f8f0e4" opacity="0.92" transform="rotate(149 772.0 561.0)"/><ellipse cx="784.9" cy="568.2" rx="2.0" ry="3.4" fill="#f2e6d6" opacity="0.92" transform="rotate(88 784.9 568.2)"/><ellipse cx="726.7" cy="599.6" rx="3.3" ry="2.6" fill="#f2e6d6" opacity="0.92" transform="rotate(105 726.7 599.6)"/><ellipse cx="792.6" cy="570.2" rx="2.3" ry="2.9" fill="#f8f0e4" opacity="0.92" transform="rotate(137 792.6 570.2)"/><ellipse cx="800.4" cy="600.0" rx="3.5" ry="2.9" fill="#fcf6ec" opacity="0.92" transform="rotate(12 800.4 600.0)"/><ellipse cx="772.6" cy="555.3" rx="4.0" ry="2.3" fill="#f2e6d6" opacity="0.92" transform="rotate(53 772.6 555.3)"/><ellipse cx="724.0" cy="571.7" rx="5.0" ry="2.3" fill="#f2e6d6" opacity="0.92" transform="rotate(82 724.0 571.7)"/><ellipse cx="781.8" cy="614.7" rx="3.8" ry="2.6" fill="#fcf6ec" opacity="0.92" transform="rotate(6 781.8 614.7)"/><ellipse cx="734.7" cy="606.9" rx="2.3" ry="1.7" fill="#f8f0e4" opacity="0.92" transform="rotate(18 734.7 606.9)"/><ellipse cx="782.6" cy="639.6" rx="3.8" ry="2.5" fill="#f8f0e4" opacity="0.92" transform="rotate(146 782.6 639.6)"/><ellipse cx="706.1" cy="588.3" rx="3.8" ry="2.3" fill="#f2e6d6" opacity="0.92" transform="rotate(97 706.1 588.3)"/><ellipse cx="712.8" cy="613.5" rx="2.2" ry="2.6" fill="#f2e6d6" opacity="0.92" transform="rotate(43 712.8 613.5)"/><ellipse cx="746.6" cy="604.0" rx="3.6" ry="1.6" fill="#f8f0e4" opacity="0.92" transform="rotate(65 746.6 604.0)"/><ellipse cx="726.3" cy="610.0" rx="3.0" ry="1.7" fill="#f2e6d6" opacity="0.92" transform="rotate(6 726.3 610.0)"/><ellipse cx="786.5" cy="614.5" rx="2.9" ry="2.8" fill="#f8f0e4" opacity="0.92" transform="rotate(142 786.5 614.5)"/><ellipse cx="796.2" cy="608.1" rx="2.6" ry="2.4" fill="#f8f0e4" opacity="0.92" transform="rotate(3 796.2 608.1)"/><ellipse cx="737.0" cy="607.1" rx="2.9" ry="3.3" fill="#f8f0e4" opacity="0.92" transform="rotate(94 737.0 607.1)"/><ellipse cx="749.7" cy="645.7" rx="5.4" ry="3.4" fill="#f8f0e4" opacity="0.92" transform="rotate(56 749.7 645.7)"/><ellipse cx="791.1" cy="606.4" rx="2.8" ry="3.5" fill="#f8f0e4" opacity="0.92" transform="rotate(76 791.1 606.4)"/><ellipse cx="751.4" cy="615.4" rx="4.3" ry="2.4" fill="#f2e6d6" opacity="0.92" transform="rotate(130 751.4 615.4)"/><ellipse cx="776.3" cy="572.0" rx="2.3" ry="1.7" fill="#f8f0e4" opacity="0.92" transform="rotate(155 776.3 572.0)"/><ellipse cx="769.4" cy="630.8" rx="2.0" ry="1.9" fill="#fcf6ec" opacity="0.92" transform="rotate(75 769.4 630.8)"/><ellipse cx="721.1" cy="582.9" rx="2.1" ry="1.7" fill="#f2e6d6" opacity="0.92" transform="rotate(124 721.1 582.9)"/><ellipse cx="771.9" cy="575.5" rx="3.6" ry="2.3" fill="#f2e6d6" opacity="0.92" transform="rotate(88 771.9 575.5)"/><ellipse cx="731.1" cy="625.1" rx="3.1" ry="2.4" fill="#fcf6ec" opacity="0.92" transform="rotate(1 731.1 625.1)"/><ellipse cx="740.3" cy="648.0" rx="2.1" ry="2.8" fill="#fcf6ec" opacity="0.92" transform="rotate(135 740.3 648.0)"/><ellipse cx="788.0" cy="563.1" rx="2.7" ry="2.8" fill="#f2e6d6" opacity="0.92" transform="rotate(4 788.0 563.1)"/><ellipse cx="719.4" cy="560.6" rx="5.2" ry="1.7" fill="#fcf6ec" opacity="0.92" transform="rotate(157 719.4 560.6)"/><ellipse cx="762.0" cy="648.8" rx="2.3" ry="1.8" fill="#f8f0e4" opacity="0.92" transform="rotate(140 762.0 648.8)"/><ellipse cx="791.7" cy="629.6" rx="4.4" ry="3.0" fill="#f2e6d6" opacity="0.92" transform="rotate(176 791.7 629.6)"/><ellipse cx="798.6" cy="571.0" rx="3.6" ry="1.5" fill="#f8f0e4" opacity="0.92" transform="rotate(90 798.6 571.0)"/><ellipse cx="741.9" cy="562.2" rx="4.4" ry="1.8" fill="#f8f0e4" opacity="0.92" transform="rotate(69 741.9 562.2)"/><ellipse cx="746.1" cy="619.4" rx="4.2" ry="2.6" fill="#f2e6d6" opacity="0.92" transform="rotate(46 746.1 619.4)"/><ellipse cx="719.7" cy="569.2" rx="5.0" ry="3.2" fill="#f2e6d6" opacity="0.92" transform="rotate(159 719.7 569.2)"/><ellipse cx="728.1" cy="636.5" rx="4.6" ry="3.4" fill="#f8f0e4" opacity="0.92" transform="rotate(113 728.1 636.5)"/><ellipse cx="717.5" cy="638.9" rx="2.8" ry="1.7" fill="#f8f0e4" opacity="0.92" transform="rotate(148 717.5 638.9)"/><ellipse cx="777.1" cy="601.9" rx="3.4" ry="3.4" fill="#f2e6d6" opacity="0.92" transform="rotate(16 777.1 601.9)"/><ellipse cx="761.5" cy="620.4" rx="2.9" ry="2.1" fill="#f8f0e4" opacity="0.92" transform="rotate(0 761.5 620.4)"/><ellipse cx="719.6" cy="580.8" rx="4.3" ry="3.4" fill="#fcf6ec" opacity="0.92" transform="rotate(61 719.6 580.8)"/><ellipse cx="702.0" cy="590.1" rx="2.9" ry="2.5" fill="#f2e6d6" opacity="0.92" transform="rotate(74 702.0 590.1)"/><ellipse cx="708.9" cy="579.7" rx="3.2" ry="2.9" fill="#f2e6d6" opacity="0.92" transform="rotate(153 708.9 579.7)"/><ellipse cx="741.0" cy="595.2" rx="2.8" ry="2.5" fill="#fcf6ec" opacity="0.92" transform="rotate(91 741.0 595.2)"/><ellipse cx="733.4" cy="592.6" rx="2.2" ry="2.8" fill="#f2e6d6" opacity="0.92" transform="rotate(146 733.4 592.6)"/><ellipse cx="788.4" cy="558.1" rx="3.5" ry="2.4" fill="#f2e6d6" opacity="0.92" transform="rotate(155 788.4 558.1)"/><ellipse cx="797.8" cy="629.7" rx="3.3" ry="2.4" fill="#f2e6d6" opacity="0.92" transform="rotate(134 797.8 629.7)"/><ellipse cx="754.5" cy="622.3" rx="4.0" ry="3.1" fill="#fcf6ec" opacity="0.92" transform="rotate(43 754.5 622.3)"/><ellipse cx="728.1" cy="613.5" rx="3.0" ry="2.5" fill="#f8f0e4" opacity="0.92" transform="rotate(88 728.1 613.5)"/><ellipse cx="765.7" cy="616.5" rx="4.0" ry="2.1" fill="#f8f0e4" opacity="0.92" transform="rotate(118 765.7 616.5)"/><ellipse cx="751.7" cy="640.4" rx="3.8" ry="3.2" fill="#f2e6d6" opacity="0.92" transform="rotate(148 751.7 640.4)"/><ellipse cx="719.9" cy="608.5" rx="4.9" ry="1.6" fill="#f2e6d6" opacity="0.92" transform="rotate(111 719.9 608.5)"/><ellipse cx="779.2" cy="637.3" rx="2.5" ry="2.2" fill="#f2e6d6" opacity="0.92" transform="rotate(60 779.2 637.3)"/><ellipse cx="729.8" cy="578.7" rx="2.5" ry="2.7" fill="#f8f0e4" opacity="0.92" transform="rotate(72 729.8 578.7)"/><ellipse cx="789.0" cy="611.3" rx="5.4" ry="2.2" fill="#f2e6d6" opacity="0.92" transform="rotate(127 789.0 611.3)"/><ellipse cx="731.3" cy="612.3" rx="14.0" ry="9.0" fill="#7a3020" opacity="0.75"/><ellipse cx="723.3" cy="624.3" rx="9.0" ry="6.0" fill="#7a3020" opacity="0.75"/><ellipse cx="758.3" cy="588.3" rx="10.0" ry="6.0" fill="#7a3020" opacity="0.75"/><ellipse cx="775.3" cy="608.3" rx="8.0" ry="6.0" fill="#7a3020" opacity="0.75"/><ellipse cx="748.3" cy="630.3" rx="10.0" ry="5.0" fill="#7a3020" opacity="0.75"/><ellipse cx="741.3" cy="578.3" rx="9.0" ry="6.0" fill="#7a3020" opacity="0.75"/><ellipse cx="711.1" cy="619.7" rx="1.8" ry="2.1" fill="#c85a3c" opacity="0.85" transform="rotate(145 711.1 619.7)"/><ellipse cx="752.9" cy="561.1" rx="3.2" ry="2.0" fill="#b04830" opacity="0.85" transform="rotate(28 752.9 561.1)"/><ellipse cx="759.7" cy="550.9" rx="2.5" ry="1.3" fill="#d06848" opacity="0.85" transform="rotate(36 759.7 550.9)"/><ellipse cx="792.2" cy="603.4" rx="2.6" ry="1.6" fill="#d06848" opacity="0.85" transform="rotate(96 792.2 603.4)"/><ellipse cx="703.8" cy="593.0" rx="3.5" ry="2.0" fill="#9a3a28" opacity="0.85" transform="rotate(103 703.8 593.0)"/><ellipse cx="748.9" cy="580.6" rx="2.9" ry="1.9" fill="#9a3a28" opacity="0.85" transform="rotate(58 748.9 580.6)"/><ellipse cx="737.3" cy="605.4" rx="2.4" ry="1.1" fill="#c85a3c" opacity="0.85" transform="rotate(86 737.3 605.4)"/><ellipse cx="746.6" cy="635.9" rx="1.9" ry="2.0" fill="#9a3a28" opacity="0.85" transform="rotate(134 746.6 635.9)"/><ellipse cx="758.3" cy="578.0" rx="3.5" ry="1.1" fill="#d06848" opacity="0.85" transform="rotate(49 758.3 578.0)"/><ellipse cx="740.3" cy="622.1" rx="2.2" ry="2.5" fill="#d06848" opacity="0.85" transform="rotate(130 740.3 622.1)"/><ellipse cx="730.9" cy="618.0" rx="2.9" ry="1.1" fill="#b04830" opacity="0.85" transform="rotate(170 730.9 618.0)"/><ellipse cx="788.0" cy="564.2" rx="2.5" ry="2.1" fill="#b04830" opacity="0.85" transform="rotate(17 788.0 564.2)"/><ellipse cx="778.9" cy="583.7" rx="2.7" ry="2.1" fill="#e07850" opacity="0.85" transform="rotate(159 778.9 583.7)"/><ellipse cx="752.4" cy="624.5" rx="3.6" ry="1.1" fill="#e07850" opacity="0.85" transform="rotate(137 752.4 624.5)"/><ellipse cx="738.1" cy="565.8" rx="3.1" ry="2.4" fill="#c85a3c" opacity="0.85" transform="rotate(15 738.1 565.8)"/><ellipse cx="743.7" cy="606.7" rx="2.6" ry="2.5" fill="#d06848" opacity="0.85" transform="rotate(40 743.7 606.7)"/><ellipse cx="745.6" cy="590.9" rx="3.3" ry="1.3" fill="#c85a3c" opacity="0.85" transform="rotate(148 745.6 590.9)"/><ellipse cx="726.0" cy="578.7" rx="2.7" ry="2.1" fill="#d06848" opacity="0.85" transform="rotate(46 726.0 578.7)"/><ellipse cx="806.7" cy="595.9" rx="2.5" ry="1.3" fill="#c85a3c" opacity="0.85" transform="rotate(80 806.7 595.9)"/><ellipse cx="757.7" cy="556.1" rx="2.6" ry="2.1" fill="#b04830" opacity="0.85" transform="rotate(147 757.7 556.1)"/><ellipse cx="785.5" cy="617.2" rx="3.8" ry="1.2" fill="#d06848" opacity="0.85" transform="rotate(128 785.5 617.2)"/><ellipse cx="787.2" cy="628.3" rx="2.7" ry="1.7" fill="#e07850" opacity="0.85" transform="rotate(151 787.2 628.3)"/><ellipse cx="761.3" cy="583.9" rx="3.1" ry="1.8" fill="#d06848" opacity="0.85" transform="rotate(35 761.3 583.9)"/><ellipse cx="752.7" cy="633.8" rx="3.4" ry="1.6" fill="#9a3a28" opacity="0.85" transform="rotate(65 752.7 633.8)"/><ellipse cx="737.9" cy="560.5" rx="2.7" ry="2.1" fill="#b04830" opacity="0.85" transform="rotate(42 737.9 560.5)"/><ellipse cx="766.3" cy="567.9" rx="2.6" ry="1.6" fill="#c85a3c" opacity="0.85" transform="rotate(44 766.3 567.9)"/><ellipse cx="699.7" cy="608.3" rx="1.7" ry="1.8" fill="#e07850" opacity="0.85" transform="rotate(92 699.7 608.3)"/><ellipse cx="770.8" cy="646.8" rx="1.6" ry="1.7" fill="#b04830" opacity="0.85" transform="rotate(37 770.8 646.8)"/><ellipse cx="736.0" cy="640.3" rx="1.9" ry="1.5" fill="#d06848" opacity="0.85" transform="rotate(41 736.0 640.3)"/><ellipse cx="765.6" cy="635.7" rx="3.1" ry="1.1" fill="#e07850" opacity="0.85" transform="rotate(82 765.6 635.7)"/><ellipse cx="742.9" cy="561.4" rx="2.6" ry="2.0" fill="#d06848" opacity="0.85" transform="rotate(101 742.9 561.4)"/><ellipse cx="783.3" cy="613.2" rx="1.8" ry="1.3" fill="#d06848" opacity="0.85" transform="rotate(73 783.3 613.2)"/><ellipse cx="791.0" cy="628.0" rx="1.5" ry="2.1" fill="#d06848" opacity="0.85" transform="rotate(180 791.0 628.0)"/><ellipse cx="764.0" cy="560.2" rx="3.2" ry="1.1" fill="#d06848" opacity="0.85" transform="rotate(153 764.0 560.2)"/><ellipse cx="743.4" cy="548.4" rx="3.9" ry="1.1" fill="#d06848" opacity="0.85" transform="rotate(3 743.4 548.4)"/><ellipse cx="754.2" cy="562.6" rx="3.7" ry="1.1" fill="#d06848" opacity="0.85" transform="rotate(52 754.2 562.6)"/><ellipse cx="758.6" cy="586.1" rx="2.0" ry="1.7" fill="#c85a3c" opacity="0.85" transform="rotate(26 758.6 586.1)"/><ellipse cx="765.0" cy="565.6" rx="1.8" ry="1.1" fill="#e07850" opacity="0.85" transform="rotate(19 765.0 565.6)"/><ellipse cx="762.9" cy="627.9" rx="3.9" ry="2.3" fill="#e07850" opacity="0.85" transform="rotate(131 762.9 627.9)"/><ellipse cx="737.1" cy="560.9" rx="3.5" ry="1.7" fill="#e07850" opacity="0.85" transform="rotate(113 737.1 560.9)"/><ellipse cx="770.2" cy="624.3" rx="1.9" ry="2.3" fill="#b04830" opacity="0.85" transform="rotate(108 770.2 624.3)"/><ellipse cx="787.2" cy="607.0" rx="2.4" ry="2.5" fill="#c85a3c" opacity="0.85" transform="rotate(68 787.2 607.0)"/><ellipse cx="743.9" cy="647.2" rx="2.3" ry="1.1" fill="#9a3a28" opacity="0.85" transform="rotate(29 743.9 647.2)"/><ellipse cx="761.5" cy="548.4" rx="3.1" ry="1.6" fill="#9a3a28" opacity="0.85" transform="rotate(55 761.5 548.4)"/><ellipse cx="742.6" cy="610.6" rx="3.8" ry="2.3" fill="#9a3a28" opacity="0.85" transform="rotate(50 742.6 610.6)"/><ellipse cx="744.1" cy="565.7" rx="1.6" ry="1.5" fill="#9a3a28" opacity="0.85" transform="rotate(3 744.1 565.7)"/><ellipse cx="752.7" cy="625.1" rx="3.2" ry="2.0" fill="#c85a3c" opacity="0.85" transform="rotate(150 752.7 625.1)"/><ellipse cx="701.4" cy="602.0" rx="3.3" ry="1.4" fill="#d06848" opacity="0.85" transform="rotate(142 701.4 602.0)"/><ellipse cx="766.3" cy="596.3" rx="2.7" ry="2.3" fill="#c85a3c" opacity="0.85" transform="rotate(97 766.3 596.3)"/><ellipse cx="711.7" cy="617.4" rx="3.9" ry="1.2" fill="#c85a3c" opacity="0.85" transform="rotate(3 711.7 617.4)"/><ellipse cx="759.8" cy="592.1" rx="3.2" ry="1.5" fill="#b04830" opacity="0.85" transform="rotate(102 759.8 592.1)"/><ellipse cx="704.0" cy="609.2" rx="2.7" ry="1.6" fill="#d06848" opacity="0.85" transform="rotate(135 704.0 609.2)"/><ellipse cx="758.5" cy="594.4" rx="1.7" ry="1.6" fill="#b04830" opacity="0.85" transform="rotate(44 758.5 594.4)"/><ellipse cx="760.7" cy="613.9" rx="2.3" ry="1.5" fill="#b04830" opacity="0.85" transform="rotate(160 760.7 613.9)"/><ellipse cx="736.9" cy="613.8" rx="3.7" ry="2.0" fill="#9a3a28" opacity="0.85" transform="rotate(101 736.9 613.8)"/><ellipse cx="753.1" cy="558.0" rx="2.6" ry="1.1" fill="#e07850" opacity="0.85" transform="rotate(179 753.1 558.0)"/><ellipse cx="753.0" cy="558.2" rx="3.2" ry="1.2" fill="#9a3a28" opacity="0.85" transform="rotate(139 753.0 558.2)"/><ellipse cx="766.0" cy="571.1" rx="3.9" ry="2.2" fill="#e07850" opacity="0.85" transform="rotate(119 766.0 571.1)"/><ellipse cx="768.1" cy="641.4" rx="2.1" ry="2.4" fill="#c85a3c" opacity="0.85" transform="rotate(51 768.1 641.4)"/><ellipse cx="788.1" cy="615.1" rx="3.1" ry="1.2" fill="#d06848" opacity="0.85" transform="rotate(153 788.1 615.1)"/><ellipse cx="731.2" cy="592.5" rx="2.4" ry="1.3" fill="#d06848" opacity="0.85" transform="rotate(126 731.2 592.5)"/><ellipse cx="725.2" cy="640.2" rx="3.1" ry="1.3" fill="#c85a3c" opacity="0.85" transform="rotate(174 725.2 640.2)"/><ellipse cx="777.3" cy="607.7" rx="4.0" ry="1.6" fill="#b04830" opacity="0.85" transform="rotate(80 777.3 607.7)"/><ellipse cx="799.7" cy="608.2" rx="1.5" ry="1.5" fill="#b04830" opacity="0.85" transform="rotate(146 799.7 608.2)"/><ellipse cx="728.3" cy="631.0" rx="2.2" ry="1.5" fill="#d06848" opacity="0.85" transform="rotate(20 728.3 631.0)"/><ellipse cx="702.4" cy="617.5" rx="3.7" ry="1.6" fill="#d06848" opacity="0.85" transform="rotate(21 702.4 617.5)"/><ellipse cx="707.9" cy="602.1" rx="1.5" ry="1.3" fill="#b04830" opacity="0.85" transform="rotate(86 707.9 602.1)"/><ellipse cx="763.8" cy="604.8" rx="3.5" ry="1.8" fill="#b04830" opacity="0.85" transform="rotate(172 763.8 604.8)"/><ellipse cx="774.3" cy="558.1" rx="1.9" ry="1.9" fill="#d06848" opacity="0.85" transform="rotate(46 774.3 558.1)"/><ellipse cx="746.8" cy="619.0" rx="3.5" ry="2.2" fill="#9a3a28" opacity="0.85" transform="rotate(152 746.8 619.0)"/><ellipse cx="713.5" cy="623.5" rx="3.6" ry="1.3" fill="#e07850" opacity="0.85" transform="rotate(104 713.5 623.5)"/><ellipse cx="755.1" cy="584.9" rx="2.2" ry="1.3" fill="#b04830" opacity="0.85" transform="rotate(82 755.1 584.9)"/><ellipse cx="715.7" cy="627.0" rx="1.8" ry="1.5" fill="#c85a3c" opacity="0.85" transform="rotate(75 715.7 627.0)"/><ellipse cx="719.7" cy="612.7" rx="1.7" ry="1.6" fill="#c85a3c" opacity="0.85" transform="rotate(143 719.7 612.7)"/><ellipse cx="735.0" cy="638.5" rx="3.3" ry="1.7" fill="#9a3a28" opacity="0.85" transform="rotate(163 735.0 638.5)"/><ellipse cx="795.0" cy="593.5" rx="2.7" ry="2.2" fill="#c85a3c" opacity="0.85" transform="rotate(174 795.0 593.5)"/><ellipse cx="749.8" cy="556.5" rx="1.5" ry="2.0" fill="#c85a3c" opacity="0.85" transform="rotate(27 749.8 556.5)"/><ellipse cx="771.8" cy="626.6" rx="3.5" ry="1.0" fill="#c85a3c" opacity="0.85" transform="rotate(21 771.8 626.6)"/><ellipse cx="801.5" cy="587.4" rx="1.5" ry="2.3" fill="#c85a3c" opacity="0.85" transform="rotate(72 801.5 587.4)"/><ellipse cx="795.6" cy="609.4" rx="3.2" ry="1.8" fill="#c85a3c" opacity="0.85" transform="rotate(44 795.6 609.4)"/><ellipse cx="732.9" cy="599.9" rx="2.2" ry="2.3" fill="#c85a3c" opacity="0.85" transform="rotate(17 732.9 599.9)"/><ellipse cx="735.1" cy="564.5" rx="2.5" ry="1.9" fill="#e07850" opacity="0.85" transform="rotate(64 735.1 564.5)"/><ellipse cx="791.4" cy="638.2" rx="3.4" ry="1.8" fill="#e07850" opacity="0.85" transform="rotate(156 791.4 638.2)"/><ellipse cx="748.1" cy="573.0" rx="1.7" ry="1.6" fill="#b04830" opacity="0.85" transform="rotate(22 748.1 573.0)"/><ellipse cx="722.6" cy="623.8" rx="3.9" ry="1.9" fill="#c85a3c" opacity="0.85" transform="rotate(14 722.6 623.8)"/><ellipse cx="715.0" cy="600.5" rx="2.9" ry="2.2" fill="#9a3a28" opacity="0.85" transform="rotate(98 715.0 600.5)"/><ellipse cx="800.4" cy="591.9" rx="3.8" ry="1.5" fill="#c85a3c" opacity="0.85" transform="rotate(61 800.4 591.9)"/><ellipse cx="784.6" cy="572.4" rx="3.5" ry="2.1" fill="#9a3a28" opacity="0.85" transform="rotate(174 784.6 572.4)"/><ellipse cx="748.7" cy="587.4" rx="2.7" ry="2.2" fill="#e07850" opacity="0.85" transform="rotate(170 748.7 587.4)"/><ellipse cx="735.6" cy="620.9" rx="3.6" ry="1.0" fill="#b04830" opacity="0.85" transform="rotate(81 735.6 620.9)"/><ellipse cx="727.1" cy="606.0" rx="1.6" ry="2.3" fill="#c85a3c" opacity="0.85" transform="rotate(178 727.1 606.0)"/><ellipse cx="748.6" cy="608.0" rx="3.6" ry="2.0" fill="#c85a3c" opacity="0.85" transform="rotate(69 748.6 608.0)"/><ellipse cx="755.1" cy="571.3" rx="1.5" ry="1.5" fill="#e07850" opacity="0.85" transform="rotate(180 755.1 571.3)"/><ellipse cx="754.5" cy="582.2" rx="3.6" ry="2.4" fill="#9a3a28" opacity="0.85" transform="rotate(42 754.5 582.2)"/><ellipse cx="758.8" cy="565.9" rx="1.9" ry="1.0" fill="#9a3a28" opacity="0.85" transform="rotate(47 758.8 565.9)"/><ellipse cx="732.7" cy="628.3" rx="3.0" ry="2.1" fill="#c85a3c" opacity="0.85" transform="rotate(138 732.7 628.3)"/><ellipse cx="746.7" cy="632.6" rx="3.2" ry="1.4" fill="#9a3a28" opacity="0.85" transform="rotate(167 746.7 632.6)"/><ellipse cx="734.0" cy="600.5" rx="3.0" ry="1.8" fill="#b04830" opacity="0.85" transform="rotate(64 734.0 600.5)"/><ellipse cx="802.0" cy="577.0" rx="3.9" ry="1.2" fill="#d06848" opacity="0.85" transform="rotate(130 802.0 577.0)"/><ellipse cx="785.2" cy="565.4" rx="1.7" ry="2.2" fill="#d06848" opacity="0.85" transform="rotate(108 785.2 565.4)"/><ellipse cx="701.7" cy="597.3" rx="2.9" ry="1.0" fill="#e07850" opacity="0.85" transform="rotate(12 701.7 597.3)"/><ellipse cx="797.0" cy="626.9" rx="1.8" ry="2.2" fill="#b04830" opacity="0.85" transform="rotate(165 797.0 626.9)"/><ellipse cx="766.2" cy="647.0" rx="3.4" ry="2.2" fill="#c85a3c" opacity="0.85" transform="rotate(34 766.2 647.0)"/><ellipse cx="702.1" cy="617.7" rx="3.1" ry="1.4" fill="#c85a3c" opacity="0.85" transform="rotate(140 702.1 617.7)"/><ellipse cx="776.1" cy="628.4" rx="3.1" ry="2.1" fill="#9a3a28" opacity="0.85" transform="rotate(149 776.1 628.4)"/><ellipse cx="793.4" cy="616.1" rx="1.6" ry="1.4" fill="#d06848" opacity="0.85" transform="rotate(147 793.4 616.1)"/><ellipse cx="709.2" cy="601.8" rx="2.2" ry="2.1" fill="#d06848" opacity="0.85" transform="rotate(103 709.2 601.8)"/><ellipse cx="725.3" cy="624.6" rx="2.0" ry="1.5" fill="#e07850" opacity="0.85" transform="rotate(152 725.3 624.6)"/><ellipse cx="799.9" cy="614.1" rx="2.7" ry="1.9" fill="#b04830" opacity="0.85" transform="rotate(23 799.9 614.1)"/><ellipse cx="751.2" cy="623.4" rx="3.4" ry="1.2" fill="#c85a3c" opacity="0.85" transform="rotate(166 751.2 623.4)"/><ellipse cx="739.6" cy="589.9" rx="1.9" ry="1.5" fill="#c85a3c" opacity="0.85" transform="rotate(131 739.6 589.9)"/><ellipse cx="787.5" cy="631.3" rx="3.5" ry="2.4" fill="#d06848" opacity="0.85" transform="rotate(121 787.5 631.3)"/><ellipse cx="793.3" cy="594.1" rx="2.6" ry="1.6" fill="#c85a3c" opacity="0.85" transform="rotate(23 793.3 594.1)"/><ellipse cx="757.9" cy="587.2" rx="1.8" ry="1.6" fill="#d06848" opacity="0.85" transform="rotate(27 757.9 587.2)"/><ellipse cx="806.1" cy="614.4" rx="2.1" ry="1.1" fill="#c85a3c" opacity="0.85" transform="rotate(44 806.1 614.4)"/><ellipse cx="770.0" cy="599.0" rx="2.1" ry="2.0" fill="#b04830" opacity="0.85" transform="rotate(62 770.0 599.0)"/><ellipse cx="744.5" cy="589.4" rx="3.7" ry="2.0" fill="#c85a3c" opacity="0.85" transform="rotate(110 744.5 589.4)"/><ellipse cx="699.9" cy="599.1" rx="3.3" ry="2.1" fill="#9a3a28" opacity="0.85" transform="rotate(5 699.9 599.1)"/><ellipse cx="775.9" cy="640.3" rx="2.7" ry="1.3" fill="#c85a3c" opacity="0.85" transform="rotate(72 775.9 640.3)"/><ellipse cx="776.0" cy="582.4" rx="2.2" ry="1.2" fill="#c85a3c" opacity="0.85" transform="rotate(96 776.0 582.4)"/><ellipse cx="774.2" cy="572.6" rx="3.8" ry="1.9" fill="#e07850" opacity="0.85" transform="rotate(97 774.2 572.6)"/><ellipse cx="731.2" cy="584.3" rx="3.7" ry="2.0" fill="#b04830" opacity="0.85" transform="rotate(124 731.2 584.3)"/><ellipse cx="748.6" cy="609.0" rx="3.0" ry="2.1" fill="#9a3a28" opacity="0.85" transform="rotate(75 748.6 609.0)"/><ellipse cx="766.1" cy="646.9" rx="2.9" ry="1.1" fill="#c85a3c" opacity="0.85" transform="rotate(145 766.1 646.9)"/><ellipse cx="736.5" cy="592.0" rx="2.3" ry="2.1" fill="#9a3a28" opacity="0.85" transform="rotate(158 736.5 592.0)"/><ellipse cx="750.9" cy="579.3" rx="1.6" ry="2.4" fill="#c85a3c" opacity="0.85" transform="rotate(73 750.9 579.3)"/><ellipse cx="776.9" cy="599.4" rx="3.7" ry="1.6" fill="#d06848" opacity="0.85" transform="rotate(134 776.9 599.4)"/><ellipse cx="749.0" cy="646.3" rx="2.2" ry="1.6" fill="#9a3a28" opacity="0.85" transform="rotate(109 749.0 646.3)"/><ellipse cx="779.4" cy="636.6" rx="2.3" ry="1.9" fill="#b04830" opacity="0.85" transform="rotate(72 779.4 636.6)"/><ellipse cx="792.4" cy="581.7" rx="2.8" ry="1.9" fill="#d06848" opacity="0.85" transform="rotate(145 792.4 581.7)"/><ellipse cx="781.7" cy="562.1" rx="3.9" ry="2.2" fill="#c85a3c" opacity="0.85" transform="rotate(46 781.7 562.1)"/><ellipse cx="747.6" cy="552.8" rx="2.1" ry="2.1" fill="#e07850" opacity="0.85" transform="rotate(3 747.6 552.8)"/><ellipse cx="748.8" cy="589.6" rx="3.2" ry="1.7" fill="#b04830" opacity="0.85" transform="rotate(33 748.8 589.6)"/><ellipse cx="784.2" cy="645.3" rx="3.0" ry="1.3" fill="#e07850" opacity="0.85" transform="rotate(161 784.2 645.3)"/><ellipse cx="787.9" cy="594.7" rx="3.0" ry="1.0" fill="#c85a3c" opacity="0.85" transform="rotate(6 787.9 594.7)"/><ellipse cx="782.0" cy="646.4" rx="3.5" ry="1.6" fill="#9a3a28" opacity="0.85" transform="rotate(1 782.0 646.4)"/><ellipse cx="766.9" cy="558.7" rx="3.5" ry="1.0" fill="#b04830" opacity="0.85" transform="rotate(61 766.9 558.7)"/><ellipse cx="725.5" cy="640.1" rx="3.4" ry="1.7" fill="#c85a3c" opacity="0.85" transform="rotate(11 725.5 640.1)"/><ellipse cx="748.4" cy="581.3" rx="1.5" ry="2.5" fill="#9a3a28" opacity="0.85" transform="rotate(108 748.4 581.3)"/><ellipse cx="749.8" cy="643.1" rx="1.9" ry="1.1" fill="#c85a3c" opacity="0.85" transform="rotate(46 749.8 643.1)"/><ellipse cx="707.1" cy="575.2" rx="2.1" ry="2.3" fill="#e07850" opacity="0.85" transform="rotate(131 707.1 575.2)"/><ellipse cx="751.1" cy="611.1" rx="3.0" ry="1.9" fill="#b04830" opacity="0.85" transform="rotate(116 751.1 611.1)"/><ellipse cx="736.0" cy="637.3" rx="2.9" ry="1.1" fill="#c85a3c" opacity="0.85" transform="rotate(39 736.0 637.3)"/><ellipse cx="749.3" cy="601.4" rx="2.1" ry="1.4" fill="#e07850" opacity="0.85" transform="rotate(58 749.3 601.4)"/><ellipse cx="724.4" cy="573.1" rx="3.3" ry="1.3" fill="#9a3a28" opacity="0.85" transform="rotate(13 724.4 573.1)"/><ellipse cx="723.0" cy="601.5" rx="2.5" ry="1.0" fill="#c85a3c" opacity="0.85" transform="rotate(150 723.0 601.5)"/><ellipse cx="787.9" cy="640.2" rx="3.1" ry="2.5" fill="#9a3a28" opacity="0.85" transform="rotate(139 787.9 640.2)"/><ellipse cx="791.9" cy="597.2" rx="2.2" ry="1.8" fill="#c85a3c" opacity="0.85" transform="rotate(24 791.9 597.2)"/><ellipse cx="720.6" cy="605.8" rx="1.7" ry="1.8" fill="#9a3a28" opacity="0.85" transform="rotate(174 720.6 605.8)"/><ellipse cx="746.7" cy="627.4" rx="2.7" ry="1.3" fill="#c85a3c" opacity="0.85" transform="rotate(52 746.7 627.4)"/><ellipse cx="738.4" cy="610.7" rx="2.8" ry="1.1" fill="#e07850" opacity="0.85" transform="rotate(46 738.4 610.7)"/><ellipse cx="773.9" cy="636.3" rx="4.0" ry="1.2" fill="#e07850" opacity="0.85" transform="rotate(34 773.9 636.3)"/><ellipse cx="788.0" cy="569.2" rx="2.7" ry="1.4" fill="#c85a3c" opacity="0.85" transform="rotate(175 788.0 569.2)"/><ellipse cx="757.2" cy="642.5" rx="2.1" ry="1.5" fill="#b04830" opacity="0.85" transform="rotate(16 757.2 642.5)"/><ellipse cx="756.0" cy="628.8" rx="1.8" ry="1.6" fill="#e07850" opacity="0.85" transform="rotate(155 756.0 628.8)"/><ellipse cx="768.6" cy="607.4" rx="2.9" ry="2.4" fill="#d06848" opacity="0.85" transform="rotate(33 768.6 607.4)"/><ellipse cx="784.8" cy="591.8" rx="3.2" ry="1.5" fill="#c85a3c" opacity="0.85" transform="rotate(158 784.8 591.8)"/><ellipse cx="747.1" cy="551.6" rx="3.3" ry="1.8" fill="#e07850" opacity="0.85" transform="rotate(33 747.1 551.6)"/><ellipse cx="749.4" cy="552.9" rx="2.8" ry="2.0" fill="#e07850" opacity="0.85" transform="rotate(169 749.4 552.9)"/><ellipse cx="716.4" cy="608.4" rx="3.2" ry="1.0" fill="#c85a3c" opacity="0.85" transform="rotate(81 716.4 608.4)"/><ellipse cx="801.7" cy="619.4" rx="3.4" ry="1.9" fill="#b04830" opacity="0.85" transform="rotate(23 801.7 619.4)"/><ellipse cx="704.8" cy="589.9" rx="2.1" ry="1.5" fill="#9a3a28" opacity="0.85" transform="rotate(110 704.8 589.9)"/><ellipse cx="786.1" cy="636.8" rx="2.8" ry="2.5" fill="#d06848" opacity="0.85" transform="rotate(155 786.1 636.8)"/><ellipse cx="790.4" cy="623.5" rx="2.9" ry="2.2" fill="#e07850" opacity="0.85" transform="rotate(18 790.4 623.5)"/><ellipse cx="725.9" cy="617.2" rx="3.7" ry="1.5" fill="#e07850" opacity="0.85" transform="rotate(36 725.9 617.2)"/><ellipse cx="773.8" cy="625.7" rx="2.7" ry="1.4" fill="#e07850" opacity="0.85" transform="rotate(79 773.8 625.7)"/><ellipse cx="777.2" cy="576.8" rx="3.6" ry="1.3" fill="#e07850" opacity="0.85" transform="rotate(88 777.2 576.8)"/><ellipse cx="738.1" cy="601.9" rx="2.0" ry="2.1" fill="#d06848" opacity="0.85" transform="rotate(46 738.1 601.9)"/><ellipse cx="757.4" cy="546.9" rx="3.5" ry="1.2" fill="#b04830" opacity="0.85" transform="rotate(51 757.4 546.9)"/><ellipse cx="749.6" cy="573.4" rx="3.1" ry="1.3" fill="#b04830" opacity="0.85" transform="rotate(86 749.6 573.4)"/></g>
<circle cx="881.3" cy="599.2" r="61.0" fill="#161616" />
<circle cx="881.3" cy="599.2" r="58.5" fill="url(#dish3)" />
<g clip-path="url(#cd3)" filter="url(#soft)"><ellipse cx="876.3" cy="609.2" rx="22.0" ry="12.0" fill="#7a3a2a" opacity="0.45"/><ellipse cx="896.3" cy="594.2" rx="14.0" ry="10.0" fill="#7a3a2a" opacity="0.45"/><ellipse cx="856.3" cy="589.2" rx="10.0" ry="8.0" fill="#7a3a2a" opacity="0.45"/><ellipse cx="921.9" cy="612.4" rx="2.5" ry="1.2" fill="#e8a880" opacity="0.75" transform="rotate(55 921.9 612.4)"/><ellipse cx="907.3" cy="597.3" rx="1.2" ry="2.1" fill="#e0946a" opacity="0.75" transform="rotate(135 907.3 597.3)"/><ellipse cx="884.7" cy="610.4" rx="1.3" ry="1.5" fill="#6a3028" opacity="0.75" transform="rotate(64 884.7 610.4)"/><ellipse cx="862.9" cy="590.8" rx="3.0" ry="1.4" fill="#d08a60" opacity="0.75" transform="rotate(63 862.9 590.8)"/><ellipse cx="894.6" cy="587.2" rx="2.9" ry="1.4" fill="#e8a880" opacity="0.75" transform="rotate(32 894.6 587.2)"/><ellipse cx="848.6" cy="599.1" rx="2.3" ry="1.7" fill="#6a3028" opacity="0.75" transform="rotate(160 848.6 599.1)"/><ellipse cx="872.7" cy="567.4" rx="2.6" ry="1.5" fill="#d08a60" opacity="0.75" transform="rotate(4 872.7 567.4)"/><ellipse cx="888.1" cy="559.7" rx="2.6" ry="1.5" fill="#c87060" opacity="0.75" transform="rotate(90 888.1 559.7)"/><ellipse cx="882.6" cy="589.0" rx="2.7" ry="1.4" fill="#e8a880" opacity="0.75" transform="rotate(49 882.6 589.0)"/><ellipse cx="838.6" cy="599.6" rx="1.2" ry="1.7" fill="#e8a880" opacity="0.75" transform="rotate(159 838.6 599.6)"/><ellipse cx="848.9" cy="592.0" rx="2.1" ry="2.2" fill="#e8a880" opacity="0.75" transform="rotate(119 848.9 592.0)"/><ellipse cx="915.1" cy="623.1" rx="2.8" ry="1.5" fill="#d08a60" opacity="0.75" transform="rotate(97 915.1 623.1)"/><ellipse cx="866.1" cy="642.1" rx="1.5" ry="1.6" fill="#d08a60" opacity="0.75" transform="rotate(26 866.1 642.1)"/><ellipse cx="883.4" cy="586.3" rx="2.2" ry="1.1" fill="#e0946a" opacity="0.75" transform="rotate(99 883.4 586.3)"/><ellipse cx="857.0" cy="559.2" rx="2.9" ry="1.1" fill="#6a3028" opacity="0.75" transform="rotate(83 857.0 559.2)"/><ellipse cx="857.1" cy="582.5" rx="1.6" ry="1.4" fill="#e0946a" opacity="0.75" transform="rotate(179 857.1 582.5)"/><ellipse cx="888.5" cy="578.5" rx="2.5" ry="2.2" fill="#c87060" opacity="0.75" transform="rotate(70 888.5 578.5)"/><ellipse cx="860.1" cy="606.3" rx="1.8" ry="1.3" fill="#e0946a" opacity="0.75" transform="rotate(55 860.1 606.3)"/><ellipse cx="846.3" cy="568.2" rx="1.9" ry="1.4" fill="#d08a60" opacity="0.75" transform="rotate(143 846.3 568.2)"/><ellipse cx="871.3" cy="550.1" rx="2.6" ry="1.1" fill="#e8a880" opacity="0.75" transform="rotate(167 871.3 550.1)"/><ellipse cx="868.1" cy="603.0" rx="1.9" ry="2.2" fill="#e8a880" opacity="0.75" transform="rotate(158 868.1 603.0)"/><ellipse cx="834.2" cy="608.0" rx="2.7" ry="1.6" fill="#c87060" opacity="0.75" transform="rotate(143 834.2 608.0)"/><ellipse cx="871.4" cy="618.7" rx="1.7" ry="1.0" fill="#e0946a" opacity="0.75" transform="rotate(35 871.4 618.7)"/><ellipse cx="903.3" cy="627.0" rx="1.7" ry="1.5" fill="#d08a60" opacity="0.75" transform="rotate(179 903.3 627.0)"/><ellipse cx="845.1" cy="577.0" rx="2.4" ry="2.1" fill="#6a3028" opacity="0.75" transform="rotate(76 845.1 577.0)"/><ellipse cx="898.0" cy="621.2" rx="2.2" ry="1.1" fill="#e0946a" opacity="0.75" transform="rotate(87 898.0 621.2)"/><ellipse cx="911.0" cy="557.1" rx="2.1" ry="1.7" fill="#6a3028" opacity="0.75" transform="rotate(77 911.0 557.1)"/><ellipse cx="851.0" cy="614.6" rx="2.7" ry="1.4" fill="#e8a880" opacity="0.75" transform="rotate(141 851.0 614.6)"/><ellipse cx="906.6" cy="643.0" rx="1.4" ry="1.9" fill="#c87060" opacity="0.75" transform="rotate(104 906.6 643.0)"/><ellipse cx="855.0" cy="560.1" rx="2.3" ry="2.2" fill="#7a3a30" opacity="0.75" transform="rotate(117 855.0 560.1)"/><ellipse cx="905.2" cy="556.9" rx="1.4" ry="1.3" fill="#e0946a" opacity="0.75" transform="rotate(2 905.2 556.9)"/><ellipse cx="859.4" cy="569.3" rx="2.1" ry="1.2" fill="#d08a60" opacity="0.75" transform="rotate(56 859.4 569.3)"/><ellipse cx="916.2" cy="622.8" rx="1.2" ry="1.1" fill="#d08a60" opacity="0.75" transform="rotate(21 916.2 622.8)"/><ellipse cx="870.7" cy="561.9" rx="2.6" ry="1.9" fill="#6a3028" opacity="0.75" transform="rotate(22 870.7 561.9)"/><ellipse cx="840.5" cy="628.2" rx="2.4" ry="1.9" fill="#d08a60" opacity="0.75" transform="rotate(84 840.5 628.2)"/><ellipse cx="869.5" cy="602.9" rx="1.7" ry="1.3" fill="#7a3a30" opacity="0.75" transform="rotate(141 869.5 602.9)"/><ellipse cx="833.3" cy="616.1" rx="2.8" ry="1.1" fill="#e8a880" opacity="0.75" transform="rotate(66 833.3 616.1)"/><ellipse cx="888.1" cy="587.7" rx="2.3" ry="1.2" fill="#e8a880" opacity="0.75" transform="rotate(37 888.1 587.7)"/><ellipse cx="917.0" cy="611.3" rx="2.8" ry="1.3" fill="#6a3028" opacity="0.75" transform="rotate(156 917.0 611.3)"/><ellipse cx="889.2" cy="611.2" rx="2.1" ry="1.0" fill="#e8a880" opacity="0.75" transform="rotate(19 889.2 611.2)"/><ellipse cx="864.4" cy="583.1" rx="2.1" ry="1.4" fill="#c87060" opacity="0.75" transform="rotate(8 864.4 583.1)"/><ellipse cx="886.9" cy="647.7" rx="1.2" ry="1.7" fill="#e0946a" opacity="0.75" transform="rotate(75 886.9 647.7)"/><ellipse cx="867.7" cy="584.8" rx="1.5" ry="2.2" fill="#7a3a30" opacity="0.75" transform="rotate(159 867.7 584.8)"/><ellipse cx="920.3" cy="614.4" rx="2.2" ry="2.2" fill="#e8a880" opacity="0.75" transform="rotate(79 920.3 614.4)"/><ellipse cx="904.1" cy="640.9" rx="2.9" ry="2.1" fill="#e8a880" opacity="0.75" transform="rotate(55 904.1 640.9)"/><ellipse cx="861.4" cy="616.7" rx="2.8" ry="1.4" fill="#7a3a30" opacity="0.75" transform="rotate(108 861.4 616.7)"/><ellipse cx="892.0" cy="601.5" rx="2.3" ry="1.8" fill="#d08a60" opacity="0.75" transform="rotate(25 892.0 601.5)"/><ellipse cx="903.6" cy="632.1" rx="2.7" ry="1.4" fill="#6a3028" opacity="0.75" transform="rotate(23 903.6 632.1)"/><ellipse cx="914.2" cy="637.8" rx="2.1" ry="1.5" fill="#7a3a30" opacity="0.75" transform="rotate(24 914.2 637.8)"/><ellipse cx="878.5" cy="590.3" rx="1.5" ry="1.1" fill="#e0946a" opacity="0.75" transform="rotate(37 878.5 590.3)"/><ellipse cx="863.5" cy="568.1" rx="2.8" ry="2.0" fill="#7a3a30" opacity="0.75" transform="rotate(52 863.5 568.1)"/><ellipse cx="899.7" cy="555.0" rx="1.5" ry="2.0" fill="#6a3028" opacity="0.75" transform="rotate(21 899.7 555.0)"/><ellipse cx="874.2" cy="553.2" rx="2.7" ry="1.4" fill="#6a3028" opacity="0.75" transform="rotate(71 874.2 553.2)"/><ellipse cx="895.0" cy="604.3" rx="1.6" ry="1.3" fill="#d08a60" opacity="0.75" transform="rotate(177 895.0 604.3)"/><ellipse cx="874.1" cy="582.5" rx="1.4" ry="1.5" fill="#e0946a" opacity="0.75" transform="rotate(124 874.1 582.5)"/><ellipse cx="869.1" cy="646.7" rx="2.7" ry="2.1" fill="#6a3028" opacity="0.75" transform="rotate(75 869.1 646.7)"/><ellipse cx="880.3" cy="562.9" rx="1.8" ry="1.5" fill="#e8a880" opacity="0.75" transform="rotate(172 880.3 562.9)"/><ellipse cx="864.9" cy="552.0" rx="1.3" ry="1.1" fill="#7a3a30" opacity="0.75" transform="rotate(157 864.9 552.0)"/><ellipse cx="906.6" cy="639.7" rx="1.8" ry="1.6" fill="#6a3028" opacity="0.75" transform="rotate(28 906.6 639.7)"/><ellipse cx="891.4" cy="593.6" rx="1.3" ry="1.8" fill="#e8a880" opacity="0.75" transform="rotate(127 891.4 593.6)"/><ellipse cx="880.1" cy="627.2" rx="2.4" ry="2.2" fill="#7a3a30" opacity="0.75" transform="rotate(19 880.1 627.2)"/><ellipse cx="894.4" cy="570.9" rx="2.9" ry="1.0" fill="#e8a880" opacity="0.75" transform="rotate(128 894.4 570.9)"/><ellipse cx="913.8" cy="576.8" rx="1.9" ry="1.2" fill="#c87060" opacity="0.75" transform="rotate(135 913.8 576.8)"/><ellipse cx="857.4" cy="589.6" rx="1.6" ry="2.2" fill="#6a3028" opacity="0.75" transform="rotate(147 857.4 589.6)"/><ellipse cx="884.6" cy="639.6" rx="1.8" ry="2.2" fill="#d08a60" opacity="0.75" transform="rotate(68 884.6 639.6)"/><ellipse cx="915.0" cy="565.7" rx="2.0" ry="1.8" fill="#d08a60" opacity="0.75" transform="rotate(21 915.0 565.7)"/><ellipse cx="857.5" cy="591.6" rx="1.6" ry="1.9" fill="#e8a880" opacity="0.75" transform="rotate(104 857.5 591.6)"/><ellipse cx="853.2" cy="572.3" rx="2.2" ry="2.1" fill="#7a3a30" opacity="0.75" transform="rotate(0 853.2 572.3)"/><ellipse cx="905.5" cy="631.4" rx="2.1" ry="2.1" fill="#e0946a" opacity="0.75" transform="rotate(138 905.5 631.4)"/><ellipse cx="890.6" cy="611.2" rx="1.7" ry="1.6" fill="#c87060" opacity="0.75" transform="rotate(41 890.6 611.2)"/><ellipse cx="929.8" cy="603.4" rx="1.7" ry="2.1" fill="#7a3a30" opacity="0.75" transform="rotate(4 929.8 603.4)"/><ellipse cx="903.3" cy="631.0" rx="2.8" ry="1.9" fill="#c87060" opacity="0.75" transform="rotate(159 903.3 631.0)"/><ellipse cx="916.2" cy="581.9" rx="1.3" ry="1.1" fill="#e0946a" opacity="0.75" transform="rotate(19 916.2 581.9)"/><ellipse cx="902.3" cy="552.0" rx="1.3" ry="1.8" fill="#7a3a30" opacity="0.75" transform="rotate(70 902.3 552.0)"/><ellipse cx="889.4" cy="637.2" rx="2.3" ry="2.0" fill="#e8a880" opacity="0.75" transform="rotate(1 889.4 637.2)"/><ellipse cx="834.9" cy="618.2" rx="3.0" ry="1.3" fill="#e8a880" opacity="0.75" transform="rotate(114 834.9 618.2)"/><ellipse cx="891.7" cy="643.0" rx="2.3" ry="2.0" fill="#e8a880" opacity="0.75" transform="rotate(129 891.7 643.0)"/><ellipse cx="869.3" cy="617.6" rx="1.4" ry="1.1" fill="#c87060" opacity="0.75" transform="rotate(22 869.3 617.6)"/><ellipse cx="853.4" cy="621.6" rx="2.6" ry="2.1" fill="#d08a60" opacity="0.75" transform="rotate(32 853.4 621.6)"/><ellipse cx="918.8" cy="611.5" rx="1.5" ry="1.4" fill="#7a3a30" opacity="0.75" transform="rotate(93 918.8 611.5)"/><ellipse cx="854.2" cy="610.5" rx="2.6" ry="1.1" fill="#e8a880" opacity="0.75" transform="rotate(156 854.2 610.5)"/><ellipse cx="869.8" cy="626.5" rx="1.8" ry="1.8" fill="#7a3a30" opacity="0.75" transform="rotate(35 869.8 626.5)"/><ellipse cx="919.1" cy="625.3" rx="2.1" ry="1.1" fill="#c87060" opacity="0.75" transform="rotate(22 919.1 625.3)"/><ellipse cx="875.8" cy="651.7" rx="1.2" ry="2.1" fill="#e0946a" opacity="0.75" transform="rotate(96 875.8 651.7)"/><ellipse cx="922.7" cy="601.3" rx="1.4" ry="1.0" fill="#e0946a" opacity="0.75" transform="rotate(173 922.7 601.3)"/><ellipse cx="898.9" cy="625.3" rx="2.1" ry="1.8" fill="#e8a880" opacity="0.75" transform="rotate(131 898.9 625.3)"/><ellipse cx="891.2" cy="606.2" rx="1.8" ry="1.2" fill="#7a3a30" opacity="0.75" transform="rotate(107 891.2 606.2)"/><ellipse cx="883.8" cy="568.4" rx="2.2" ry="1.8" fill="#e0946a" opacity="0.75" transform="rotate(36 883.8 568.4)"/><ellipse cx="896.1" cy="575.1" rx="1.5" ry="2.1" fill="#d08a60" opacity="0.75" transform="rotate(139 896.1 575.1)"/><ellipse cx="866.9" cy="597.6" rx="2.0" ry="1.2" fill="#e0946a" opacity="0.75" transform="rotate(148 866.9 597.6)"/><ellipse cx="900.6" cy="576.0" rx="2.8" ry="1.3" fill="#6a3028" opacity="0.75" transform="rotate(164 900.6 576.0)"/><ellipse cx="862.7" cy="588.3" rx="2.8" ry="1.9" fill="#c87060" opacity="0.75" transform="rotate(11 862.7 588.3)"/><ellipse cx="927.3" cy="623.8" rx="1.8" ry="1.8" fill="#c87060" opacity="0.75" transform="rotate(144 927.3 623.8)"/><ellipse cx="882.9" cy="586.9" rx="1.8" ry="1.0" fill="#e0946a" opacity="0.75" transform="rotate(107 882.9 586.9)"/><ellipse cx="898.9" cy="635.4" rx="1.7" ry="1.4" fill="#6a3028" opacity="0.75" transform="rotate(157 898.9 635.4)"/><ellipse cx="859.2" cy="556.6" rx="1.8" ry="1.6" fill="#d08a60" opacity="0.75" transform="rotate(140 859.2 556.6)"/><ellipse cx="845.3" cy="574.9" rx="2.3" ry="1.7" fill="#e0946a" opacity="0.75" transform="rotate(90 845.3 574.9)"/><ellipse cx="877.1" cy="585.3" rx="2.7" ry="1.7" fill="#c87060" opacity="0.75" transform="rotate(162 877.1 585.3)"/><ellipse cx="850.3" cy="606.7" rx="2.2" ry="1.8" fill="#e0946a" opacity="0.75" transform="rotate(17 850.3 606.7)"/><ellipse cx="876.6" cy="547.1" rx="2.7" ry="1.7" fill="#6a3028" opacity="0.75" transform="rotate(80 876.6 547.1)"/><ellipse cx="924.8" cy="617.2" rx="2.3" ry="1.4" fill="#6a3028" opacity="0.75" transform="rotate(91 924.8 617.2)"/><ellipse cx="884.5" cy="600.7" rx="2.0" ry="1.1" fill="#d08a60" opacity="0.75" transform="rotate(2 884.5 600.7)"/><ellipse cx="888.8" cy="637.8" rx="2.4" ry="1.3" fill="#6a3028" opacity="0.75" transform="rotate(174 888.8 637.8)"/><ellipse cx="904.4" cy="584.1" rx="2.1" ry="1.2" fill="#c87060" opacity="0.75" transform="rotate(37 904.4 584.1)"/><ellipse cx="901.0" cy="637.1" rx="1.5" ry="1.8" fill="#d08a60" opacity="0.75" transform="rotate(78 901.0 637.1)"/><ellipse cx="896.7" cy="640.8" rx="2.7" ry="2.2" fill="#d08a60" opacity="0.75" transform="rotate(86 896.7 640.8)"/><ellipse cx="892.3" cy="553.8" rx="1.3" ry="1.0" fill="#6a3028" opacity="0.75" transform="rotate(8 892.3 553.8)"/><ellipse cx="888.6" cy="633.1" rx="2.0" ry="2.1" fill="#7a3a30" opacity="0.75" transform="rotate(14 888.6 633.1)"/><ellipse cx="864.2" cy="629.8" rx="2.6" ry="1.6" fill="#d08a60" opacity="0.75" transform="rotate(169 864.2 629.8)"/><ellipse cx="865.4" cy="643.0" rx="2.3" ry="1.5" fill="#e8a880" opacity="0.75" transform="rotate(36 865.4 643.0)"/><ellipse cx="923.8" cy="591.9" rx="2.9" ry="1.6" fill="#e8a880" opacity="0.75" transform="rotate(125 923.8 591.9)"/><ellipse cx="843.6" cy="563.0" rx="1.8" ry="2.1" fill="#6a3028" opacity="0.75" transform="rotate(17 843.6 563.0)"/><ellipse cx="901.4" cy="607.5" rx="2.3" ry="2.1" fill="#7a3a30" opacity="0.75" transform="rotate(32 901.4 607.5)"/><ellipse cx="885.0" cy="627.5" rx="2.0" ry="1.5" fill="#c87060" opacity="0.75" transform="rotate(180 885.0 627.5)"/><ellipse cx="872.2" cy="601.4" rx="1.3" ry="1.3" fill="#7a3a30" opacity="0.75" transform="rotate(81 872.2 601.4)"/><ellipse cx="853.5" cy="570.9" rx="2.2" ry="1.9" fill="#e8a880" opacity="0.75" transform="rotate(49 853.5 570.9)"/><ellipse cx="853.0" cy="634.4" rx="2.5" ry="2.1" fill="#e8a880" opacity="0.75" transform="rotate(82 853.0 634.4)"/><ellipse cx="843.3" cy="611.8" rx="1.4" ry="1.9" fill="#e0946a" opacity="0.75" transform="rotate(81 843.3 611.8)"/><ellipse cx="888.4" cy="548.3" rx="2.6" ry="1.4" fill="#e0946a" opacity="0.75" transform="rotate(104 888.4 548.3)"/><ellipse cx="874.7" cy="618.1" rx="1.6" ry="1.8" fill="#d08a60" opacity="0.75" transform="rotate(147 874.7 618.1)"/><ellipse cx="898.8" cy="578.8" rx="1.7" ry="1.7" fill="#7a3a30" opacity="0.75" transform="rotate(179 898.8 578.8)"/><ellipse cx="891.8" cy="648.2" rx="2.2" ry="1.4" fill="#7a3a30" opacity="0.75" transform="rotate(92 891.8 648.2)"/><ellipse cx="896.3" cy="590.9" rx="1.4" ry="1.4" fill="#e0946a" opacity="0.75" transform="rotate(137 896.3 590.9)"/><ellipse cx="859.1" cy="559.4" rx="1.6" ry="1.2" fill="#d08a60" opacity="0.75" transform="rotate(116 859.1 559.4)"/><ellipse cx="876.8" cy="549.9" rx="2.9" ry="2.0" fill="#e8a880" opacity="0.75" transform="rotate(164 876.8 549.9)"/><ellipse cx="910.8" cy="599.3" rx="2.9" ry="2.1" fill="#d08a60" opacity="0.75" transform="rotate(118 910.8 599.3)"/><ellipse cx="861.2" cy="571.3" rx="3.0" ry="1.7" fill="#e8a880" opacity="0.75" transform="rotate(153 861.2 571.3)"/><ellipse cx="874.5" cy="573.0" rx="2.1" ry="1.8" fill="#7a3a30" opacity="0.75" transform="rotate(46 874.5 573.0)"/><ellipse cx="843.3" cy="609.6" rx="2.9" ry="1.3" fill="#e8a880" opacity="0.75" transform="rotate(19 843.3 609.6)"/><ellipse cx="837.7" cy="582.8" rx="2.4" ry="1.3" fill="#e8a880" opacity="0.75" transform="rotate(46 837.7 582.8)"/><ellipse cx="897.3" cy="616.6" rx="1.5" ry="1.2" fill="#e0946a" opacity="0.75" transform="rotate(167 897.3 616.6)"/><ellipse cx="901.9" cy="583.7" rx="2.0" ry="1.2" fill="#e8a880" opacity="0.75" transform="rotate(104 901.9 583.7)"/><ellipse cx="889.9" cy="569.1" rx="2.0" ry="2.0" fill="#6a3028" opacity="0.75" transform="rotate(40 889.9 569.1)"/><ellipse cx="892.6" cy="638.0" rx="1.7" ry="1.4" fill="#7a3a30" opacity="0.75" transform="rotate(80 892.6 638.0)"/><ellipse cx="858.5" cy="596.3" rx="1.9" ry="1.6" fill="#e0946a" opacity="0.75" transform="rotate(33 858.5 596.3)"/><ellipse cx="862.4" cy="639.4" rx="2.0" ry="1.8" fill="#d08a60" opacity="0.75" transform="rotate(146 862.4 639.4)"/><ellipse cx="868.0" cy="615.4" rx="2.4" ry="1.3" fill="#d08a60" opacity="0.75" transform="rotate(18 868.0 615.4)"/><ellipse cx="914.7" cy="558.5" rx="2.5" ry="1.5" fill="#c87060" opacity="0.75" transform="rotate(70 914.7 558.5)"/><ellipse cx="903.1" cy="562.4" rx="2.5" ry="1.7" fill="#d08a60" opacity="0.75" transform="rotate(82 903.1 562.4)"/><ellipse cx="889.9" cy="547.9" rx="1.6" ry="2.0" fill="#d08a60" opacity="0.75" transform="rotate(173 889.9 547.9)"/><ellipse cx="882.1" cy="557.2" rx="2.0" ry="2.1" fill="#c87060" opacity="0.75" transform="rotate(140 882.1 557.2)"/><ellipse cx="882.7" cy="563.4" rx="2.2" ry="2.1" fill="#e0946a" opacity="0.75" transform="rotate(111 882.7 563.4)"/><ellipse cx="886.4" cy="623.4" rx="1.3" ry="1.1" fill="#7a3a30" opacity="0.75" transform="rotate(124 886.4 623.4)"/><ellipse cx="867.3" cy="603.5" rx="1.8" ry="2.1" fill="#6a3028" opacity="0.75" transform="rotate(96 867.3 603.5)"/><ellipse cx="892.1" cy="648.3" rx="2.9" ry="1.4" fill="#e8a880" opacity="0.75" transform="rotate(76 892.1 648.3)"/><ellipse cx="847.7" cy="599.5" rx="2.6" ry="1.9" fill="#e0946a" opacity="0.75" transform="rotate(158 847.7 599.5)"/><ellipse cx="882.8" cy="603.7" rx="2.3" ry="1.0" fill="#7a3a30" opacity="0.75" transform="rotate(20 882.8 603.7)"/><ellipse cx="861.3" cy="632.1" rx="2.9" ry="1.7" fill="#6a3028" opacity="0.75" transform="rotate(71 861.3 632.1)"/><ellipse cx="852.2" cy="618.0" rx="1.2" ry="2.1" fill="#d08a60" opacity="0.75" transform="rotate(91 852.2 618.0)"/><ellipse cx="907.9" cy="580.1" rx="2.9" ry="1.5" fill="#c87060" opacity="0.75" transform="rotate(142 907.9 580.1)"/><ellipse cx="885.7" cy="634.9" rx="1.3" ry="1.2" fill="#d08a60" opacity="0.75" transform="rotate(2 885.7 634.9)"/><ellipse cx="922.7" cy="570.8" rx="2.6" ry="2.1" fill="#7a3a30" opacity="0.75" transform="rotate(30 922.7 570.8)"/><ellipse cx="913.7" cy="640.4" rx="1.4" ry="1.9" fill="#e8a880" opacity="0.75" transform="rotate(40 913.7 640.4)"/><ellipse cx="846.3" cy="575.8" rx="2.5" ry="1.5" fill="#e0946a" opacity="0.75" transform="rotate(116 846.3 575.8)"/><ellipse cx="846.1" cy="607.8" rx="2.7" ry="1.2" fill="#d08a60" opacity="0.75" transform="rotate(167 846.1 607.8)"/><ellipse cx="891.5" cy="566.4" rx="2.3" ry="1.3" fill="#e8a880" opacity="0.75" transform="rotate(160 891.5 566.4)"/><ellipse cx="840.0" cy="617.2" rx="2.8" ry="1.9" fill="#e0946a" opacity="0.75" transform="rotate(10 840.0 617.2)"/><ellipse cx="865.5" cy="635.4" rx="2.1" ry="1.3" fill="#d08a60" opacity="0.75" transform="rotate(125 865.5 635.4)"/><ellipse cx="928.3" cy="593.3" rx="2.7" ry="1.2" fill="#d08a60" opacity="0.75" transform="rotate(114 928.3 593.3)"/><ellipse cx="906.7" cy="557.3" rx="2.6" ry="1.6" fill="#e0946a" opacity="0.75" transform="rotate(17 906.7 557.3)"/><ellipse cx="887.2" cy="640.4" rx="2.5" ry="1.7" fill="#e0946a" opacity="0.75" transform="rotate(165 887.2 640.4)"/><ellipse cx="866.6" cy="600.3" rx="2.6" ry="1.6" fill="#e0946a" opacity="0.75" transform="rotate(129 866.6 600.3)"/><ellipse cx="921.6" cy="624.1" rx="2.7" ry="1.2" fill="#7a3a30" opacity="0.75" transform="rotate(158 921.6 624.1)"/><ellipse cx="862.0" cy="619.3" rx="1.9" ry="1.4" fill="#7a3a30" opacity="0.75" transform="rotate(118 862.0 619.3)"/><ellipse cx="903.0" cy="565.9" rx="1.9" ry="2.2" fill="#d08a60" opacity="0.75" transform="rotate(134 903.0 565.9)"/><ellipse cx="845.1" cy="598.6" rx="2.8" ry="1.5" fill="#e8a880" opacity="0.75" transform="rotate(171 845.1 598.6)"/><ellipse cx="924.3" cy="597.5" rx="2.1" ry="1.5" fill="#c87060" opacity="0.75" transform="rotate(102 924.3 597.5)"/><ellipse cx="927.8" cy="617.7" rx="1.7" ry="1.1" fill="#e8a880" opacity="0.75" transform="rotate(179 927.8 617.7)"/><ellipse cx="901.3" cy="561.8" rx="2.8" ry="2.0" fill="#7a3a30" opacity="0.75" transform="rotate(19 901.3 561.8)"/><ellipse cx="909.1" cy="614.5" rx="2.3" ry="1.0" fill="#d08a60" opacity="0.75" transform="rotate(165 909.1 614.5)"/><ellipse cx="878.9" cy="622.8" rx="1.4" ry="1.4" fill="#e8a880" opacity="0.75" transform="rotate(9 878.9 622.8)"/><ellipse cx="874.7" cy="614.9" rx="2.4" ry="1.4" fill="#c87060" opacity="0.75" transform="rotate(24 874.7 614.9)"/><ellipse cx="921.9" cy="585.4" rx="2.8" ry="1.2" fill="#e8a880" opacity="0.75" transform="rotate(151 921.9 585.4)"/><ellipse cx="858.9" cy="637.7" rx="1.3" ry="1.2" fill="#e8a880" opacity="0.75" transform="rotate(169 858.9 637.7)"/><ellipse cx="890.6" cy="568.7" rx="2.1" ry="1.8" fill="#6a3028" opacity="0.75" transform="rotate(84 890.6 568.7)"/><ellipse cx="898.1" cy="607.4" rx="1.2" ry="1.8" fill="#e8a880" opacity="0.75" transform="rotate(16 898.1 607.4)"/><ellipse cx="896.9" cy="630.5" rx="2.4" ry="1.3" fill="#d08a60" opacity="0.75" transform="rotate(150 896.9 630.5)"/><ellipse cx="909.9" cy="589.1" rx="1.6" ry="1.6" fill="#e8a880" opacity="0.75" transform="rotate(135 909.9 589.1)"/><ellipse cx="902.7" cy="578.8" rx="1.5" ry="1.8" fill="#e0946a" opacity="0.75" transform="rotate(53 902.7 578.8)"/><ellipse cx="897.7" cy="643.9" rx="2.0" ry="1.9" fill="#e0946a" opacity="0.75" transform="rotate(139 897.7 643.9)"/><ellipse cx="883.0" cy="595.3" rx="2.8" ry="1.4" fill="#6a3028" opacity="0.75" transform="rotate(147 883.0 595.3)"/><ellipse cx="898.7" cy="595.1" rx="1.2" ry="1.5" fill="#7a3a30" opacity="0.75" transform="rotate(102 898.7 595.1)"/><ellipse cx="860.3" cy="599.3" rx="2.3" ry="2.1" fill="#e8a880" opacity="0.75" transform="rotate(97 860.3 599.3)"/><ellipse cx="853.5" cy="598.2" rx="2.0" ry="1.1" fill="#e0946a" opacity="0.75" transform="rotate(47 853.5 598.2)"/><ellipse cx="896.0" cy="567.9" rx="2.3" ry="1.2" fill="#e8a880" opacity="0.75" transform="rotate(35 896.0 567.9)"/><ellipse cx="889.1" cy="606.4" rx="2.7" ry="1.6" fill="#e0946a" opacity="0.75" transform="rotate(5 889.1 606.4)"/><ellipse cx="922.0" cy="568.7" rx="1.9" ry="2.2" fill="#c87060" opacity="0.75" transform="rotate(158 922.0 568.7)"/><ellipse cx="911.7" cy="584.6" rx="1.3" ry="1.5" fill="#d08a60" opacity="0.75" transform="rotate(47 911.7 584.6)"/><ellipse cx="881.1" cy="559.2" rx="1.2" ry="2.0" fill="#c87060" opacity="0.75" transform="rotate(17 881.1 559.2)"/><ellipse cx="872.5" cy="613.1" rx="1.3" ry="1.3" fill="#7a3a30" opacity="0.75" transform="rotate(89 872.5 613.1)"/><ellipse cx="866.2" cy="620.3" rx="2.9" ry="1.7" fill="#e8a880" opacity="0.75" transform="rotate(42 866.2 620.3)"/><ellipse cx="847.3" cy="609.6" rx="2.5" ry="1.8" fill="#6a3028" opacity="0.75" transform="rotate(124 847.3 609.6)"/><ellipse cx="892.7" cy="598.5" rx="1.8" ry="1.1" fill="#c87060" opacity="0.75" transform="rotate(89 892.7 598.5)"/><ellipse cx="868.7" cy="575.1" rx="2.9" ry="1.3" fill="#6a3028" opacity="0.75" transform="rotate(161 868.7 575.1)"/><ellipse cx="863.0" cy="570.6" rx="1.5" ry="1.5" fill="#7a3a30" opacity="0.75" transform="rotate(165 863.0 570.6)"/><ellipse cx="911.1" cy="617.9" rx="2.2" ry="1.6" fill="#d08a60" opacity="0.75" transform="rotate(113 911.1 617.9)"/><ellipse cx="900.0" cy="599.5" rx="1.3" ry="2.1" fill="#d08a60" opacity="0.75" transform="rotate(146 900.0 599.5)"/><ellipse cx="861.9" cy="565.9" rx="2.4" ry="2.0" fill="#6a3028" opacity="0.75" transform="rotate(143 861.9 565.9)"/><ellipse cx="898.0" cy="551.2" rx="1.6" ry="2.0" fill="#c87060" opacity="0.75" transform="rotate(10 898.0 551.2)"/><ellipse cx="877.6" cy="610.8" rx="2.8" ry="1.2" fill="#6a3028" opacity="0.75" transform="rotate(110 877.6 610.8)"/><ellipse cx="882.3" cy="599.7" rx="2.4" ry="2.0" fill="#e0946a" opacity="0.75" transform="rotate(84 882.3 599.7)"/><ellipse cx="893.5" cy="560.6" rx="1.7" ry="1.1" fill="#7a3a30" opacity="0.75" transform="rotate(141 893.5 560.6)"/><ellipse cx="894.0" cy="648.6" rx="1.5" ry="2.1" fill="#e8a880" opacity="0.75" transform="rotate(141 894.0 648.6)"/><ellipse cx="917.2" cy="629.1" rx="2.8" ry="1.8" fill="#e8a880" opacity="0.75" transform="rotate(107 917.2 629.1)"/><ellipse cx="910.9" cy="608.9" rx="1.4" ry="1.6" fill="#e8a880" opacity="0.75" transform="rotate(94 910.9 608.9)"/><ellipse cx="838.2" cy="586.2" rx="2.2" ry="1.5" fill="#7a3a30" opacity="0.75" transform="rotate(34 838.2 586.2)"/><ellipse cx="909.3" cy="584.3" rx="2.7" ry="1.1" fill="#e0946a" opacity="0.75" transform="rotate(177 909.3 584.3)"/><ellipse cx="873.4" cy="600.4" rx="2.4" ry="1.0" fill="#e0946a" opacity="0.75" transform="rotate(86 873.4 600.4)"/><ellipse cx="908.0" cy="557.1" rx="1.7" ry="1.6" fill="#7a3a30" opacity="0.75" transform="rotate(128 908.0 557.1)"/><ellipse cx="857.7" cy="599.5" rx="2.0" ry="2.2" fill="#6a3028" opacity="0.75" transform="rotate(122 857.7 599.5)"/><ellipse cx="841.8" cy="584.2" rx="2.8" ry="1.0" fill="#e0946a" opacity="0.75" transform="rotate(133 841.8 584.2)"/><ellipse cx="916.2" cy="631.4" rx="2.0" ry="1.1" fill="#c87060" opacity="0.75" transform="rotate(157 916.2 631.4)"/><ellipse cx="920.5" cy="586.2" rx="2.4" ry="1.9" fill="#e8a880" opacity="0.75" transform="rotate(61 920.5 586.2)"/><ellipse cx="883.8" cy="633.2" rx="2.1" ry="1.2" fill="#c87060" opacity="0.75" transform="rotate(29 883.8 633.2)"/><ellipse cx="872.6" cy="639.2" rx="1.9" ry="2.2" fill="#6a3028" opacity="0.75" transform="rotate(55 872.6 639.2)"/><ellipse cx="924.4" cy="577.1" rx="2.4" ry="2.0" fill="#e0946a" opacity="0.75" transform="rotate(18 924.4 577.1)"/><ellipse cx="930.3" cy="613.6" rx="2.2" ry="1.1" fill="#c87060" opacity="0.75" transform="rotate(128 930.3 613.6)"/><ellipse cx="846.1" cy="576.1" rx="2.0" ry="1.1" fill="#e8a880" opacity="0.75" transform="rotate(96 846.1 576.1)"/><ellipse cx="880.7" cy="594.3" rx="2.7" ry="1.2" fill="#e0946a" opacity="0.75" transform="rotate(37 880.7 594.3)"/><ellipse cx="860.0" cy="633.0" rx="2.9" ry="2.2" fill="#7a3a30" opacity="0.75" transform="rotate(96 860.0 633.0)"/><ellipse cx="913.1" cy="634.5" rx="2.3" ry="1.3" fill="#c87060" opacity="0.75" transform="rotate(94 913.1 634.5)"/><ellipse cx="880.6" cy="607.9" rx="2.5" ry="1.1" fill="#d08a60" opacity="0.75" transform="rotate(148 880.6 607.9)"/><ellipse cx="902.8" cy="613.9" rx="2.0" ry="1.9" fill="#7a3a30" opacity="0.75" transform="rotate(14 902.8 613.9)"/><ellipse cx="882.4" cy="548.6" rx="2.4" ry="1.7" fill="#e0946a" opacity="0.75" transform="rotate(155 882.4 548.6)"/><ellipse cx="885.4" cy="589.0" rx="1.7" ry="1.7" fill="#c87060" opacity="0.75" transform="rotate(97 885.4 589.0)"/><ellipse cx="839.0" cy="609.5" rx="2.7" ry="1.9" fill="#6a3028" opacity="0.75" transform="rotate(78 839.0 609.5)"/><ellipse cx="867.8" cy="579.7" rx="1.5" ry="1.8" fill="#c87060" opacity="0.75" transform="rotate(178 867.8 579.7)"/><ellipse cx="859.5" cy="636.6" rx="2.3" ry="1.7" fill="#7a3a30" opacity="0.75" transform="rotate(79 859.5 636.6)"/><ellipse cx="921.9" cy="575.7" rx="1.3" ry="1.0" fill="#c87060" opacity="0.75" transform="rotate(35 921.9 575.7)"/><ellipse cx="911.9" cy="585.5" rx="3.0" ry="1.2" fill="#7a3a30" opacity="0.75" transform="rotate(108 911.9 585.5)"/><ellipse cx="835.2" cy="589.5" rx="1.5" ry="1.3" fill="#d08a60" opacity="0.75" transform="rotate(80 835.2 589.5)"/><ellipse cx="897.1" cy="636.6" rx="3.0" ry="1.2" fill="#e0946a" opacity="0.75" transform="rotate(51 897.1 636.6)"/><ellipse cx="844.5" cy="606.2" rx="2.7" ry="1.7" fill="#e0946a" opacity="0.75" transform="rotate(155 844.5 606.2)"/><ellipse cx="862.0" cy="617.1" rx="1.4" ry="2.2" fill="#6a3028" opacity="0.75" transform="rotate(119 862.0 617.1)"/><ellipse cx="855.1" cy="603.3" rx="2.2" ry="1.2" fill="#c87060" opacity="0.75" transform="rotate(169 855.1 603.3)"/><ellipse cx="892.0" cy="588.6" rx="1.8" ry="1.9" fill="#7a3a30" opacity="0.75" transform="rotate(69 892.0 588.6)"/><ellipse cx="866.7" cy="613.7" rx="2.7" ry="1.7" fill="#7a3a30" opacity="0.75" transform="rotate(8 866.7 613.7)"/><ellipse cx="840.8" cy="622.7" rx="2.0" ry="1.0" fill="#e8a880" opacity="0.75" transform="rotate(8 840.8 622.7)"/><ellipse cx="839.1" cy="598.4" rx="2.5" ry="1.8" fill="#d08a60" opacity="0.75" transform="rotate(172 839.1 598.4)"/><ellipse cx="916.9" cy="566.5" rx="2.5" ry="2.2" fill="#c87060" opacity="0.75" transform="rotate(48 916.9 566.5)"/><ellipse cx="858.0" cy="583.2" rx="1.4" ry="2.2" fill="#7a3a30" opacity="0.75" transform="rotate(119 858.0 583.2)"/><ellipse cx="911.7" cy="591.8" rx="1.7" ry="1.9" fill="#e8a880" opacity="0.75" transform="rotate(28 911.7 591.8)"/><ellipse cx="886.5" cy="650.8" rx="2.7" ry="2.1" fill="#c87060" opacity="0.75" transform="rotate(100 886.5 650.8)"/><ellipse cx="931.7" cy="598.8" rx="2.6" ry="1.2" fill="#7a3a30" opacity="0.75" transform="rotate(114 931.7 598.8)"/><ellipse cx="888.8" cy="647.6" rx="2.1" ry="1.7" fill="#d08a60" opacity="0.75" transform="rotate(97 888.8 647.6)"/><ellipse cx="844.9" cy="612.2" rx="2.3" ry="2.2" fill="#7a3a30" opacity="0.75" transform="rotate(135 844.9 612.2)"/><ellipse cx="854.3" cy="571.8" rx="1.9" ry="1.2" fill="#7a3a30" opacity="0.75" transform="rotate(167 854.3 571.8)"/><ellipse cx="854.7" cy="558.8" rx="1.3" ry="1.2" fill="#d08a60" opacity="0.75" transform="rotate(158 854.7 558.8)"/><ellipse cx="890.1" cy="649.8" rx="2.1" ry="1.4" fill="#e8a880" opacity="0.75" transform="rotate(72 890.1 649.8)"/><ellipse cx="912.9" cy="558.9" rx="1.3" ry="1.2" fill="#e0946a" opacity="0.75" transform="rotate(141 912.9 558.9)"/><ellipse cx="847.9" cy="602.6" rx="1.3" ry="1.6" fill="#d08a60" opacity="0.75" transform="rotate(66 847.9 602.6)"/><ellipse cx="880.8" cy="581.9" rx="2.0" ry="1.4" fill="#6a3028" opacity="0.75" transform="rotate(58 880.8 581.9)"/><ellipse cx="897.2" cy="611.0" rx="2.5" ry="2.2" fill="#e0946a" opacity="0.75" transform="rotate(21 897.2 611.0)"/><ellipse cx="913.4" cy="577.3" rx="2.0" ry="2.1" fill="#e8a880" opacity="0.75" transform="rotate(42 913.4 577.3)"/><ellipse cx="906.6" cy="554.6" rx="2.2" ry="2.1" fill="#d08a60" opacity="0.75" transform="rotate(165 906.6 554.6)"/><ellipse cx="862.3" cy="573.9" rx="2.3" ry="1.9" fill="#d08a60" opacity="0.75" transform="rotate(6 862.3 573.9)"/><ellipse cx="900.7" cy="612.6" rx="2.3" ry="1.6" fill="#c87060" opacity="0.75" transform="rotate(13 900.7 612.6)"/><ellipse cx="901.9" cy="599.4" rx="2.3" ry="2.1" fill="#e8a880" opacity="0.75" transform="rotate(27 901.9 599.4)"/><ellipse cx="933.4" cy="590.1" rx="2.9" ry="1.4" fill="#c87060" opacity="0.75" transform="rotate(45 933.4 590.1)"/><ellipse cx="846.2" cy="601.6" rx="1.3" ry="2.0" fill="#e8a880" opacity="0.75" transform="rotate(43 846.2 601.6)"/><ellipse cx="860.1" cy="609.8" rx="2.0" ry="1.3" fill="#d08a60" opacity="0.75" transform="rotate(127 860.1 609.8)"/><ellipse cx="898.8" cy="602.5" rx="2.4" ry="1.7" fill="#7a3a30" opacity="0.75" transform="rotate(171 898.8 602.5)"/><ellipse cx="883.7" cy="625.3" rx="2.1" ry="2.2" fill="#7a3a30" opacity="0.75" transform="rotate(150 883.7 625.3)"/><ellipse cx="875.2" cy="564.8" rx="2.4" ry="1.7" fill="#d08a60" opacity="0.75" transform="rotate(55 875.2 564.8)"/><ellipse cx="851.2" cy="580.6" rx="1.4" ry="1.4" fill="#6a3028" opacity="0.75" transform="rotate(89 851.2 580.6)"/><ellipse cx="868.5" cy="558.7" rx="1.6" ry="1.0" fill="#e0946a" opacity="0.75" transform="rotate(35 868.5 558.7)"/><ellipse cx="863.2" cy="550.4" rx="3.0" ry="1.6" fill="#e0946a" opacity="0.75" transform="rotate(40 863.2 550.4)"/><ellipse cx="888.0" cy="632.5" rx="3.0" ry="1.5" fill="#c87060" opacity="0.75" transform="rotate(26 888.0 632.5)"/><ellipse cx="851.3" cy="556.5" rx="1.7" ry="1.9" fill="#c87060" opacity="0.75" transform="rotate(109 851.3 556.5)"/><ellipse cx="867.3" cy="631.4" rx="2.6" ry="2.0" fill="#7a3a30" opacity="0.75" transform="rotate(47 867.3 631.4)"/><ellipse cx="922.3" cy="623.7" rx="1.7" ry="1.4" fill="#c87060" opacity="0.75" transform="rotate(151 922.3 623.7)"/><ellipse cx="911.4" cy="602.7" rx="1.5" ry="1.5" fill="#e8a880" opacity="0.75" transform="rotate(158 911.4 602.7)"/><ellipse cx="879.4" cy="605.1" rx="2.3" ry="1.3" fill="#e8a880" opacity="0.75" transform="rotate(132 879.4 605.1)"/><ellipse cx="849.3" cy="636.8" rx="2.5" ry="1.3" fill="#e8a880" opacity="0.75" transform="rotate(150 849.3 636.8)"/><ellipse cx="873.1" cy="562.6" rx="1.4" ry="1.7" fill="#7a3a30" opacity="0.75" transform="rotate(48 873.1 562.6)"/><ellipse cx="864.7" cy="559.4" rx="2.6" ry="1.6" fill="#7a3a30" opacity="0.75" transform="rotate(92 864.7 559.4)"/><ellipse cx="876.4" cy="558.3" rx="2.2" ry="1.2" fill="#d08a60" opacity="0.75" transform="rotate(139 876.4 558.3)"/><ellipse cx="915.9" cy="624.8" rx="1.4" ry="1.4" fill="#e8a880" opacity="0.75" transform="rotate(1 915.9 624.8)"/><ellipse cx="879.7" cy="555.9" rx="2.3" ry="1.4" fill="#d08a60" opacity="0.75" transform="rotate(87 879.7 555.9)"/><ellipse cx="914.4" cy="629.1" rx="2.7" ry="1.6" fill="#6a3028" opacity="0.75" transform="rotate(65 914.4 629.1)"/><ellipse cx="853.3" cy="570.9" rx="1.7" ry="2.0" fill="#7a3a30" opacity="0.75" transform="rotate(167 853.3 570.9)"/><ellipse cx="882.2" cy="561.5" rx="2.1" ry="1.7" fill="#c87060" opacity="0.75" transform="rotate(39 882.2 561.5)"/><ellipse cx="915.8" cy="561.9" rx="1.5" ry="1.2" fill="#6a3028" opacity="0.75" transform="rotate(134 915.8 561.9)"/><ellipse cx="903.6" cy="611.3" rx="1.6" ry="1.9" fill="#c87060" opacity="0.75" transform="rotate(160 903.6 611.3)"/><ellipse cx="878.8" cy="602.6" rx="1.7" ry="2.1" fill="#c87060" opacity="0.75" transform="rotate(97 878.8 602.6)"/><ellipse cx="901.3" cy="592.9" rx="2.9" ry="1.3" fill="#d08a60" opacity="0.75" transform="rotate(128 901.3 592.9)"/><ellipse cx="897.5" cy="589.3" rx="1.3" ry="2.2" fill="#e0946a" opacity="0.75" transform="rotate(21 897.5 589.3)"/><ellipse cx="852.7" cy="584.6" rx="1.5" ry="1.8" fill="#6a3028" opacity="0.75" transform="rotate(111 852.7 584.6)"/><ellipse cx="904.3" cy="613.9" rx="2.6" ry="2.1" fill="#7a3a30" opacity="0.75" transform="rotate(140 904.3 613.9)"/><ellipse cx="863.6" cy="605.8" rx="1.2" ry="2.0" fill="#c87060" opacity="0.75" transform="rotate(2 863.6 605.8)"/><ellipse cx="888.4" cy="630.6" rx="1.4" ry="1.6" fill="#6a3028" opacity="0.75" transform="rotate(40 888.4 630.6)"/><ellipse cx="921.1" cy="598.0" rx="2.6" ry="1.4" fill="#6a3028" opacity="0.75" transform="rotate(92 921.1 598.0)"/><ellipse cx="862.8" cy="552.0" rx="2.3" ry="1.4" fill="#d08a60" opacity="0.75" transform="rotate(124 862.8 552.0)"/><ellipse cx="901.8" cy="609.4" rx="1.5" ry="1.8" fill="#7a3a30" opacity="0.75" transform="rotate(70 901.8 609.4)"/><ellipse cx="908.1" cy="585.3" rx="2.7" ry="2.1" fill="#c87060" opacity="0.75" transform="rotate(126 908.1 585.3)"/><ellipse cx="845.0" cy="584.1" rx="2.2" ry="1.4" fill="#d08a60" opacity="0.75" transform="rotate(60 845.0 584.1)"/><ellipse cx="846.0" cy="568.7" rx="1.7" ry="1.0" fill="#7a3a30" opacity="0.75" transform="rotate(46 846.0 568.7)"/><ellipse cx="867.3" cy="647.2" rx="1.6" ry="1.4" fill="#7a3a30" opacity="0.75" transform="rotate(53 867.3 647.2)"/><ellipse cx="862.2" cy="594.6" rx="1.8" ry="1.9" fill="#e0946a" opacity="0.75" transform="rotate(107 862.2 594.6)"/><ellipse cx="899.0" cy="550.7" rx="3.0" ry="1.1" fill="#e0946a" opacity="0.75" transform="rotate(174 899.0 550.7)"/></g>
<defs><linearGradient id="cbar" x1="0" x2="1" y1="0" y2="0">
<stop offset="0" stop-color="#f4e02a"/><stop offset="0.18" stop-color="#f8e430"/><stop offset="0.3" stop-color="#f0c040"/>
<stop offset="0.38" stop-color="#e09a58"/><stop offset="0.46" stop-color="#c86070"/><stop offset="0.52" stop-color="#b830a0"/>
<stop offset="0.6" stop-color="#a810b0"/><stop offset="1" stop-color="#9600aa"/></linearGradient></defs>
<rect x="614.9" y="669.5" width="277.8" height="9.7" fill="url(#cbar)" />
<line x1="625.7" y1="669.5" x2="625.7" y2="679.2" stroke="#222" stroke-width="2" />
<line x1="754.3" y1="669.5" x2="754.3" y2="679.2" stroke="#222" stroke-width="2" />
<line x1="883.0" y1="669.5" x2="883.0" y2="679.2" stroke="#222" stroke-width="2" />
<text transform="translate(606.45,704.00) scale(1.1077,1)" fill="#000" style='font-family:"DejaVu Sans", Verdana, sans-serif;font-size:26.6px;'>16</text>
<text transform="translate(736.61,704.00) scale(1.1107,1)" fill="#000" style='font-family:"DejaVu Sans", Verdana, sans-serif;font-size:26.6px;'>43</text>
<text transform="translate(864.61,704.00) scale(1.0433,1)" fill="#000" style='font-family:"DejaVu Sans", Verdana, sans-serif;font-size:26.6px;'>70</text>
<text transform="translate(704.66,736.50) scale(1.0402,1)" fill="#000" style='font-family:"Liberation Sans", Arial, sans-serif;font-size:27.5px;'>φ(%,vol)</text>
<defs><clipPath id="clipDL"><rect x="200" y="540" width="566" height="358"/></clipPath></defs>
<g clip-path="url(#clipDL)"><polyline points="200.0,681.0 209.6,681.5 219.1,682.0 228.7,682.5 238.2,682.9 247.8,683.3 257.3,683.6 266.9,683.8 276.4,684.1 286.0,684.5 295.6,685.0 305.1,686.0 314.7,687.7 324.2,689.9 333.8,692.3 343.3,694.6 352.9,696.5 362.5,698.2 372.0,699.8 381.6,701.4 391.1,703.1 400.7,705.0 410.2,707.3 419.8,710.1 429.3,713.3 438.9,716.6 448.5,720.0 458.0,723.3 467.6,726.4 477.1,729.4 486.7,732.4 496.2,735.4 505.8,738.5 515.3,741.8 524.9,745.3 534.5,749.3 544.0,753.5 553.6,758.0 563.1,762.7 572.7,767.4 582.2,772.0 591.8,776.4 601.3,780.6 610.9,784.4 620.5,788.1 630.0,791.8 639.6,795.3 649.1,798.9 658.7,802.5 668.2,806.3 677.8,810.1 687.4,814.0 696.9,817.9 706.5,821.8 716.0,825.7 725.6,829.5 735.1,833.4 744.7,837.3 754.2,841.1 763.8,845.0" fill="none" stroke="#f8e22e" stroke-width="5.5" stroke-linejoin="round" stroke-linecap="round" stroke-linecap="butt"/><polyline points="200.0,650.0 209.6,650.7 219.1,651.6 228.7,652.6 238.2,653.7 247.8,654.9 257.3,656.3 266.9,657.9 276.4,659.5 286.0,661.2 295.6,662.9 305.1,664.6 314.7,666.2 324.2,667.9 333.8,669.7 343.3,671.6 352.9,673.7 362.5,676.0 372.0,678.6 381.6,681.4 391.1,684.2 400.7,686.8 410.2,689.4 419.8,691.7 429.3,694.0 438.9,696.4 448.5,698.8 458.0,701.4 467.6,704.3 477.1,707.3 486.7,710.5 496.2,713.8 505.8,717.3 515.3,720.8 524.9,724.3 534.5,728.0 544.0,731.8 553.6,735.8 563.1,739.8 572.7,743.8 582.2,747.8 591.8,751.7 601.3,755.5 610.9,759.3 620.5,763.0 630.0,766.8 639.6,770.4 649.1,774.1 658.7,777.7 668.2,781.2 677.8,784.6 687.4,788.0 696.9,791.4 706.5,794.8 716.0,798.3 725.6,801.8 735.1,805.3 744.7,808.8 754.2,812.4 763.8,816.0" fill="none" stroke="#ffd400" stroke-width="5.5" stroke-linejoin="round" stroke-linecap="round" stroke-linecap="butt"/><polyline points="200.0,638.0 209.6,638.1 219.1,638.5 228.7,639.1 238.2,639.8 247.8,640.9 257.3,643.0 266.9,645.8 276.4,649.0 286.0,652.2 295.6,654.9 305.1,657.2 314.7,659.3 324.2,661.4 333.8,663.5 343.3,665.5 352.9,667.6 362.5,669.8 372.0,671.9 381.6,674.0 391.1,676.1 400.7,678.1 410.2,680.1 419.8,682.0 429.3,683.8 438.9,685.7 448.5,687.6 458.0,689.6 467.6,691.6 477.1,693.7 486.7,695.8 496.2,698.0 505.8,700.3 515.3,702.7 524.9,705.2 534.5,708.0 544.0,711.0 553.6,714.1 563.1,717.3 572.7,720.6 582.2,723.9 591.8,727.2 601.3,730.4 610.9,733.6 620.5,736.8 630.0,740.0 639.6,743.2 649.1,746.4 658.7,749.7 668.2,753.2 677.8,756.8 687.4,760.4 696.9,764.1 706.5,767.8 716.0,771.4 725.6,774.9 735.1,778.5 744.7,782.0 754.2,785.5 763.8,789.0" fill="none" stroke="#ffa600" stroke-width="5.5" stroke-linejoin="round" stroke-linecap="round" stroke-linecap="butt"/><polyline points="200.0,624.0 209.6,624.2 219.1,624.8 228.7,625.7 238.2,626.7 247.8,628.1 257.3,630.6 266.9,633.8 276.4,637.2 286.0,640.4 295.6,642.9 305.1,644.8 314.7,646.3 324.2,647.8 333.8,649.2 343.3,650.7 352.9,652.6 362.5,654.7 372.0,657.1 381.6,659.5 391.1,662.1 400.7,664.8 410.2,667.5 419.8,670.4 429.3,673.4 438.9,676.5 448.5,679.5 458.0,682.4 467.6,685.1 477.1,687.6 486.7,690.1 496.2,692.5 505.8,694.9 515.3,697.5 524.9,700.3 534.5,703.2 544.0,706.3 553.6,709.5 563.1,712.8 572.7,716.2 582.2,719.6 591.8,723.1 601.3,726.5 610.9,729.9 620.5,733.5 630.0,737.0 639.6,740.6 649.1,744.2 658.7,747.7 668.2,751.2 677.8,754.7 687.4,758.2 696.9,761.6 706.5,764.8 716.0,767.8 725.6,770.7 735.1,773.5 744.7,776.1 754.2,778.6 763.8,781.0" fill="none" stroke="#cc1ad4" stroke-width="5.5" stroke-linejoin="round" stroke-linecap="round" stroke-linecap="butt"/><polyline points="200.0,604.0 209.6,604.8 219.1,605.8 228.7,607.1 238.2,608.6 247.8,610.3 257.3,612.5 266.9,615.1 276.4,617.8 286.0,620.5 295.6,622.9 305.1,625.0 314.7,626.8 324.2,628.6 333.8,630.5 343.3,632.5 352.9,634.7 362.5,637.2 372.0,639.9 381.6,642.8 391.1,645.8 400.7,648.7 410.2,651.6 419.8,654.4 429.3,657.3 438.9,660.2 448.5,663.3 458.0,666.3 467.6,669.6 477.1,672.9 486.7,676.3 496.2,679.8 505.8,683.3 515.3,686.8 524.9,690.3 534.5,693.8 544.0,697.2 553.6,700.7 563.1,704.1 572.7,707.7 582.2,711.2 591.8,714.8 601.3,718.5 610.9,722.4 620.5,726.3 630.0,730.3 639.6,734.3 649.1,738.4 658.7,742.4 668.2,746.3 677.8,750.2 687.4,754.1 696.9,758.0 706.5,761.8 716.0,765.6 725.6,769.4 735.1,773.2 744.7,776.9 754.2,780.7 763.8,784.4" fill="none" stroke="#9e02b2" stroke-width="5.5" stroke-linejoin="round" stroke-linecap="round" stroke-linecap="butt"/><polygon points="229.1,683.6 253.6,683.6 241.3,704.1" fill="#f8e22e"/><polygon points="256.4,684.8 280.9,684.8 268.6,705.3" fill="#f8e22e"/><polygon points="283.7,687.0 308.2,687.0 295.9,707.5" fill="#f8e22e"/><polygon points="311.0,690.3 335.5,690.3 323.2,710.8" fill="#f8e22e"/><polygon points="338.2,696.9 362.8,696.9 350.5,717.4" fill="#f8e22e"/><polygon points="365.6,701.8 390.1,701.8 377.8,722.3" fill="#f8e22e"/><polygon points="392.9,705.6 417.4,705.6 405.1,726.1" fill="#f8e22e"/><polygon points="420.1,713.5 444.6,713.5 432.4,734.0" fill="#f8e22e"/><polygon points="447.5,722.1 472.0,722.1 459.7,742.6" fill="#f8e22e"/><polygon points="474.8,729.8 499.2,729.8 487.0,750.3" fill="#f8e22e"/><polygon points="502.0,735.3 526.5,735.3 514.3,755.8" fill="#f8e22e"/><polygon points="529.4,745.5 553.9,745.5 541.6,766.0" fill="#f8e22e"/><polygon points="556.7,756.6 581.2,756.6 568.9,777.1" fill="#f8e22e"/><polygon points="584.0,771.1 608.5,771.1 596.2,791.6" fill="#f8e22e"/><polygon points="611.2,781.6 635.8,781.6 623.5,802.1" fill="#f8e22e"/><polygon points="638.5,789.9 663.0,789.9 650.8,810.4" fill="#f8e22e"/><polygon points="665.9,803.4 690.4,803.4 678.1,823.9" fill="#f8e22e"/><polygon points="693.2,814.5 717.7,814.5 705.4,835.0" fill="#f8e22e"/><polygon points="229.1,649.2 253.6,649.2 241.3,669.7" fill="#ffd400"/><polygon points="256.4,653.2 280.9,653.2 268.6,673.7" fill="#ffd400"/><polygon points="283.7,656.7 308.2,656.7 295.9,677.2" fill="#ffd400"/><polygon points="311.0,661.0 335.5,661.0 323.2,681.5" fill="#ffd400"/><polygon points="338.2,667.9 362.8,667.9 350.5,688.4" fill="#ffd400"/><polygon points="365.6,673.7 390.1,673.7 377.8,694.2" fill="#ffd400"/><polygon points="392.9,681.8 417.4,681.8 405.1,702.3" fill="#ffd400"/><polygon points="420.1,688.8 444.6,688.8 432.4,709.3" fill="#ffd400"/><polygon points="447.5,695.3 472.0,695.3 459.7,715.8" fill="#ffd400"/><polygon points="474.8,705.3 499.2,705.3 487.0,725.8" fill="#ffd400"/><polygon points="502.0,715.0 526.5,715.0 514.3,735.5" fill="#ffd400"/><polygon points="529.4,726.6 553.9,726.6 541.6,747.1" fill="#ffd400"/><polygon points="556.7,737.0 581.2,737.0 568.9,757.5" fill="#ffd400"/><polygon points="584.0,748.7 608.5,748.7 596.2,769.2" fill="#ffd400"/><polygon points="611.2,759.0 635.8,759.0 623.5,779.5" fill="#ffd400"/><polygon points="638.5,769.9 663.0,769.9 650.8,790.4" fill="#ffd400"/><polygon points="665.9,779.4 690.4,779.4 678.1,799.9" fill="#ffd400"/><polygon points="693.2,788.5 717.7,788.5 705.4,809.0" fill="#ffd400"/><polygon points="229.1,633.3 253.6,633.3 241.3,653.8" fill="#ffa600"/><polygon points="256.4,639.6 280.9,639.6 268.6,660.1" fill="#ffa600"/><polygon points="283.7,647.7 308.2,647.7 295.9,668.2" fill="#ffa600"/><polygon points="311.0,653.6 335.5,653.6 323.2,674.1" fill="#ffa600"/><polygon points="338.2,658.3 362.8,658.3 350.5,678.8" fill="#ffa600"/><polygon points="365.6,664.1 390.1,664.1 377.8,684.6" fill="#ffa600"/><polygon points="392.9,670.1 417.4,670.1 405.1,690.6" fill="#ffa600"/><polygon points="420.1,674.9 444.6,674.9 432.4,695.4" fill="#ffa600"/><polygon points="447.5,682.5 472.0,682.5 459.7,703.0" fill="#ffa600"/><polygon points="474.8,687.4 499.2,687.4 487.0,707.9" fill="#ffa600"/><polygon points="502.0,695.2 526.5,695.2 514.3,715.7" fill="#ffa600"/><polygon points="529.4,701.6 553.9,701.6 541.6,722.1" fill="#ffa600"/><polygon points="556.7,712.4 581.2,712.4 568.9,732.9" fill="#ffa600"/><polygon points="584.0,721.5 608.5,721.5 596.2,742.0" fill="#ffa600"/><polygon points="611.2,728.0 635.8,728.0 623.5,748.5" fill="#ffa600"/><polygon points="638.5,737.9 663.0,737.9 650.8,758.4" fill="#ffa600"/><polygon points="665.9,749.9 690.4,749.9 678.1,770.4" fill="#ffa600"/><polygon points="693.2,759.1 717.7,759.1 705.4,779.6" fill="#ffa600"/><polygon points="229.1,620.2 253.6,620.2 241.3,640.7" fill="#cc1ad4"/><polygon points="256.4,625.8 280.9,625.8 268.6,646.3" fill="#cc1ad4"/><polygon points="283.7,633.4 308.2,633.4 295.9,653.9" fill="#cc1ad4"/><polygon points="311.0,639.7 335.5,639.7 323.2,660.2" fill="#cc1ad4"/><polygon points="338.2,644.7 362.8,644.7 350.5,665.2" fill="#cc1ad4"/><polygon points="365.6,649.6 390.1,649.6 377.8,670.1" fill="#cc1ad4"/><polygon points="392.9,656.5 417.4,656.5 405.1,677.0" fill="#cc1ad4"/><polygon points="420.1,665.7 444.6,665.7 432.4,686.2" fill="#cc1ad4"/><polygon points="447.5,676.1 472.0,676.1 459.7,696.6" fill="#cc1ad4"/><polygon points="474.8,682.7 499.2,682.7 487.0,703.2" fill="#cc1ad4"/><polygon points="502.0,687.8 526.5,687.8 514.3,708.3" fill="#cc1ad4"/><polygon points="529.4,696.5 553.9,696.5 541.6,717.0" fill="#cc1ad4"/><polygon points="556.7,705.4 581.2,705.4 568.9,725.9" fill="#cc1ad4"/><polygon points="584.0,715.1 608.5,715.1 596.2,735.6" fill="#cc1ad4"/><polygon points="611.2,727.2 635.8,727.2 623.5,747.7" fill="#cc1ad4"/><polygon points="638.5,735.6 663.0,735.6 650.8,756.1" fill="#cc1ad4"/><polygon points="665.9,746.8 690.4,746.8 678.1,767.3" fill="#cc1ad4"/><polygon points="693.2,756.1 717.7,756.1 705.4,776.6" fill="#cc1ad4"/><polygon points="229.1,599.9 253.6,599.9 241.3,620.4" fill="#9e02b2"/><polygon points="256.4,608.0 280.9,608.0 268.6,628.5" fill="#9e02b2"/><polygon points="283.7,613.6 308.2,613.6 295.9,634.1" fill="#9e02b2"/><polygon points="311.0,620.6 335.5,620.6 323.2,641.1" fill="#9e02b2"/><polygon points="338.2,624.7 362.8,624.7 350.5,645.2" fill="#9e02b2"/><polygon points="365.6,633.2 390.1,633.2 377.8,653.7" fill="#9e02b2"/><polygon points="392.9,640.9 417.4,640.9 405.1,661.4" fill="#9e02b2"/><polygon points="420.1,649.3 444.6,649.3 432.4,669.8" fill="#9e02b2"/><polygon points="447.5,660.1 472.0,660.1 459.7,680.6" fill="#9e02b2"/><polygon points="474.8,669.1 499.2,669.1 487.0,689.6" fill="#9e02b2"/><polygon points="502.0,677.6 526.5,677.6 514.3,698.1" fill="#9e02b2"/><polygon points="529.4,689.3 553.9,689.3 541.6,709.8" fill="#9e02b2"/><polygon points="556.7,697.1 581.2,697.1 568.9,717.6" fill="#9e02b2"/><polygon points="584.0,708.0 608.5,708.0 596.2,728.5" fill="#9e02b2"/><polygon points="611.2,720.4 635.8,720.4 623.5,740.9" fill="#9e02b2"/><polygon points="638.5,731.3 663.0,731.3 650.8,751.8" fill="#9e02b2"/><polygon points="665.9,740.9 690.4,740.9 678.1,761.4" fill="#9e02b2"/><polygon points="693.2,754.6 717.7,754.6 705.4,775.1" fill="#9e02b2"/></g>
<line x1="199.8" y1="565.4" x2="199.8" y2="899.0" stroke="#444" stroke-width="1.7" />
<line x1="199.0" y1="898.2" x2="763.5" y2="898.2" stroke="#444" stroke-width="1.7" />
<line x1="199.8" y1="839.5" x2="212.3" y2="839.5" stroke="#444" stroke-width="1.5" />
<line x1="199.8" y1="780.8" x2="212.3" y2="780.8" stroke="#444" stroke-width="1.5" />
<line x1="199.8" y1="722.1" x2="212.3" y2="722.1" stroke="#444" stroke-width="1.5" />
<line x1="199.8" y1="663.4" x2="212.3" y2="663.4" stroke="#444" stroke-width="1.5" />
<line x1="199.8" y1="604.7" x2="212.3" y2="604.7" stroke="#444" stroke-width="1.5" />
<line x1="241.3" y1="898.2" x2="241.3" y2="885.7" stroke="#444" stroke-width="1.5" />
<line x1="382.8" y1="898.2" x2="382.8" y2="885.7" stroke="#444" stroke-width="1.5" />
<line x1="524.3" y1="898.2" x2="524.3" y2="885.7" stroke="#444" stroke-width="1.5" />
<line x1="665.8" y1="898.2" x2="665.8" y2="885.7" stroke="#444" stroke-width="1.5" />
<text transform="translate(142.01,907.80) scale(0.9500,1)" style='font-family:"Liberation Sans", Arial, sans-serif;font-size:29px;'>10</text><text transform="translate(173.41,894.00) scale(0.9500,1)" style='font-family:"Liberation Sans", Arial, sans-serif;font-size:15.5px;'>-3</text>
<text transform="translate(142.01,849.10) scale(0.9500,1)" style='font-family:"Liberation Sans", Arial, sans-serif;font-size:29px;'>10</text><text transform="translate(173.41,835.30) scale(0.9500,1)" style='font-family:"Liberation Sans", Arial, sans-serif;font-size:15.5px;'>-2</text>
<text transform="translate(142.01,790.40) scale(0.9500,1)" style='font-family:"Liberation Sans", Arial, sans-serif;font-size:29px;'>10</text><text transform="translate(173.41,776.60) scale(0.9500,1)" style='font-family:"Liberation Sans", Arial, sans-serif;font-size:15.5px;'>-1</text>
<text transform="translate(147.00,731.70) scale(0.9500,1)" style='font-family:"Liberation Sans", Arial, sans-serif;font-size:29px;'>10</text><text transform="translate(178.40,717.90) scale(0.9500,1)" style='font-family:"Liberation Sans", Arial, sans-serif;font-size:15.5px;'>0</text>
<text transform="translate(147.00,673.00) scale(0.9500,1)" style='font-family:"Liberation Sans", Arial, sans-serif;font-size:29px;'>10</text><text transform="translate(178.40,659.20) scale(0.9500,1)" style='font-family:"Liberation Sans", Arial, sans-serif;font-size:15.5px;'>1</text>
<text transform="translate(147.00,614.30) scale(0.9500,1)" style='font-family:"Liberation Sans", Arial, sans-serif;font-size:29px;'>10</text><text transform="translate(178.40,600.50) scale(0.9500,1)" style='font-family:"Liberation Sans", Arial, sans-serif;font-size:15.5px;'>2</text>
<text transform="translate(207.98,931.90) scale(1.0500,1)" fill="#000" style='font-family:"Liberation Sans", Arial, sans-serif;font-size:26px;'>0.005</text>
<text transform="translate(356.96,931.90) scale(1.0500,1)" fill="#000" style='font-family:"Liberation Sans", Arial, sans-serif;font-size:26px;'>0.05</text>
<text transform="translate(506.07,931.90) scale(1.0500,1)" fill="#000" style='font-family:"Liberation Sans", Arial, sans-serif;font-size:26px;'>0.5</text>
<text transform="translate(658.99,931.90) scale(1.0500,1)" fill="#000" style='font-family:"Liberation Sans", Arial, sans-serif;font-size:26px;'>5</text>
<text transform="translate(435.35,975.70) scale(1.0804,1)" style='font-family:"Liberation Sans", Arial, sans-serif;font-size:25.7px;'>Shear rate (s</text><text transform="translate(596.15,963.20) scale(1.0804,1)" style='font-family:"Liberation Sans", Arial, sans-serif;font-size:15.5px;'>-1</text><text transform="translate(611.04,975.70) scale(1.0804,1)" style='font-family:"Liberation Sans", Arial, sans-serif;font-size:25.7px;'>)</text>
<text transform="translate(115.90,868.18) rotate(-90) scale(1.1068,1)" fill="#000" style='font-family:"Liberation Sans", Arial, sans-serif;font-size:25.3px;'>Shear viscosity (Pa s)</text>
<polygon points="1052.8,603.0 1073.2,603.0 1063.0,619.5" fill="#f8e22e"/>
<polygon points="1067.8,592.8 1088.2,592.8 1078.0,609.2" fill="#f8e22e"/>
<polygon points="1079.8,590.8 1100.2,590.8 1090.0,607.2" fill="#ffd400"/>
<polygon points="1087.8,589.8 1108.2,589.8 1098.0,606.2" fill="#ffa600"/>
<polygon points="1083.7,603.7 1104.2,603.7 1094.0,620.2" fill="#f8e22e"/>
<polygon points="1097.3,608.0 1117.8,608.0 1107.5,624.5" fill="#f8e22e"/>
<polygon points="1109.1,616.1 1129.6,616.1 1119.4,632.6" fill="#f8e22e"/>
<polygon points="1123.4,622.4 1143.9,622.4 1133.6,638.9" fill="#f8e22e"/>
<polygon points="1136.4,629.1 1156.9,629.1 1146.6,645.6" fill="#f8e22e"/>
<polygon points="1147.4,638.0 1167.9,638.0 1157.7,654.5" fill="#f8e22e"/>
<polygon points="1160.7,646.5 1181.2,646.5 1171.0,663.0" fill="#f8e22e"/>
<polygon points="1174.9,659.8 1195.4,659.8 1185.2,676.3" fill="#f8e22e"/>
<polygon points="1186.9,669.5 1207.4,669.5 1197.1,686.0" fill="#f8e22e"/>
<polygon points="1201.8,689.2 1222.3,689.2 1212.1,705.7" fill="#f8e22e"/>
<polygon points="1216.3,703.5 1236.8,703.5 1226.6,720.0" fill="#f8e22e"/>
<polygon points="1227.5,713.7 1248.0,713.7 1237.7,730.2" fill="#f8e22e"/>
<polygon points="1240.5,727.0 1261.0,727.0 1250.7,743.5" fill="#f8e22e"/>
<polygon points="1255.3,746.3 1275.8,746.3 1265.5,762.8" fill="#f8e22e"/>
<polygon points="1266.9,763.6 1287.4,763.6 1277.1,780.1" fill="#f8e22e"/>
<polygon points="1278.4,778.7 1298.9,778.7 1288.6,795.2" fill="#f8e22e"/>
<polygon points="1291.2,792.5 1311.7,792.5 1301.5,809.0" fill="#f8e22e"/>
<polygon points="1303.6,808.1 1324.1,808.1 1313.8,824.6" fill="#f8e22e"/>
<polygon points="1315.3,820.4 1335.8,820.4 1325.6,836.9" fill="#f8e22e"/>
<polygon points="1089.2,604.5 1109.7,604.5 1099.4,621.0" fill="#ffd400"/>
<polygon points="1101.0,611.2 1121.5,611.2 1111.2,627.7" fill="#ffd400"/>
<polygon points="1115.6,617.4 1136.1,617.4 1125.8,633.9" fill="#ffd400"/>
<polygon points="1129.6,624.9 1150.1,624.9 1139.9,641.4" fill="#ffd400"/>
<polygon points="1143.5,631.4 1164.0,631.4 1153.8,647.9" fill="#ffd400"/>
<polygon points="1156.4,646.3 1176.9,646.3 1166.7,662.8" fill="#ffd400"/>
<polygon points="1168.2,656.8 1188.7,656.8 1178.5,673.3" fill="#ffd400"/>
<polygon points="1182.8,666.3 1203.3,666.3 1193.0,682.8" fill="#ffd400"/>
<polygon points="1195.3,678.5 1215.8,678.5 1205.5,695.0" fill="#ffd400"/>
<polygon points="1207.8,695.1 1228.3,695.1 1218.1,711.6" fill="#ffd400"/>
<polygon points="1220.3,701.7 1240.8,701.7 1230.6,718.2" fill="#ffd400"/>
<polygon points="1231.7,719.2 1252.2,719.2 1242.0,735.7" fill="#ffd400"/>
<polygon points="1246.7,734.9 1267.2,734.9 1256.9,751.4" fill="#ffd400"/>
<polygon points="1259.7,750.9 1280.2,750.9 1269.9,767.4" fill="#ffd400"/>
<polygon points="1273.7,765.8 1294.2,765.8 1283.9,782.3" fill="#ffd400"/>
<polygon points="1287.1,785.2 1307.6,785.2 1297.3,801.7" fill="#ffd400"/>
<polygon points="1300.6,800.0 1321.1,800.0 1310.8,816.5" fill="#ffd400"/>
<polygon points="1312.3,816.5 1332.8,816.5 1322.5,833.0" fill="#ffd400"/>
<polygon points="1327.0,836.1 1347.5,836.1 1337.2,852.6" fill="#ffd400"/>
<polygon points="1094.6,600.1 1115.1,600.1 1104.8,616.6" fill="#ffa600"/>
<polygon points="1105.9,610.5 1126.4,610.5 1116.1,627.0" fill="#ffa600"/>
<polygon points="1120.0,615.4 1140.5,615.4 1130.2,631.9" fill="#ffa600"/>
<polygon points="1133.7,626.3 1154.2,626.3 1143.9,642.8" fill="#ffa600"/>
<polygon points="1148.3,638.8 1168.8,638.8 1158.5,655.3" fill="#ffa600"/>
<polygon points="1160.9,649.0 1181.4,649.0 1171.2,665.5" fill="#ffa600"/>
<polygon points="1175.8,659.1 1196.3,659.1 1186.0,675.6" fill="#ffa600"/>
<polygon points="1190.3,671.9 1210.8,671.9 1200.5,688.4" fill="#ffa600"/>
<polygon points="1202.8,682.7 1223.3,682.7 1213.0,699.2" fill="#ffa600"/>
<polygon points="1217.3,697.3 1237.8,697.3 1227.6,713.8" fill="#ffa600"/>
<polygon points="1228.6,714.2 1249.1,714.2 1238.8,730.7" fill="#ffa600"/>
<polygon points="1242.7,728.1 1263.2,728.1 1252.9,744.6" fill="#ffa600"/>
<polygon points="1257.0,742.2 1277.5,742.2 1267.3,758.7" fill="#ffa600"/>
<polygon points="1269.1,758.6 1289.6,758.6 1279.3,775.1" fill="#ffa600"/>
<polygon points="1281.7,773.7 1302.2,773.7 1292.0,790.2" fill="#ffa600"/>
<polygon points="1293.0,789.3 1313.5,789.3 1303.3,805.8" fill="#ffa600"/>
<polygon points="1307.6,812.8 1328.1,812.8 1317.9,829.3" fill="#ffa600"/>
<polygon points="1321.6,827.8 1342.1,827.8 1331.8,844.3" fill="#ffa600"/>
<polygon points="1096.5,602.9 1117.0,602.9 1106.8,619.4" fill="#cc1ad4"/>
<polygon points="1110.4,606.5 1130.9,606.5 1120.7,623.0" fill="#cc1ad4"/>
<polygon points="1122.3,619.0 1142.8,619.0 1132.5,635.5" fill="#cc1ad4"/>
<polygon points="1136.4,628.6 1156.9,628.6 1146.7,645.1" fill="#cc1ad4"/>
<polygon points="1149.9,635.3 1170.4,635.3 1160.1,651.8" fill="#cc1ad4"/>
<polygon points="1163.2,648.9 1183.7,648.9 1173.4,665.4" fill="#cc1ad4"/>
<polygon points="1175.4,657.4 1195.9,657.4 1185.7,673.9" fill="#cc1ad4"/>
<polygon points="1187.5,670.2 1208.0,670.2 1197.8,686.7" fill="#cc1ad4"/>
<polygon points="1198.6,680.4 1219.1,680.4 1208.8,696.9" fill="#cc1ad4"/>
<polygon points="1213.4,691.1 1233.9,691.1 1223.6,707.6" fill="#cc1ad4"/>
<polygon points="1226.7,710.1 1247.2,710.1 1237.0,726.6" fill="#cc1ad4"/>
<polygon points="1241.2,726.1 1261.7,726.1 1251.4,742.6" fill="#cc1ad4"/>
<polygon points="1253.2,739.0 1273.7,739.0 1263.4,755.5" fill="#cc1ad4"/>
<polygon points="1268.0,760.6 1288.5,760.6 1278.3,777.1" fill="#cc1ad4"/>
<polygon points="1279.5,769.4 1300.0,769.4 1289.8,785.9" fill="#cc1ad4"/>
<polygon points="1290.9,783.4 1311.4,783.4 1301.2,799.9" fill="#cc1ad4"/>
<polygon points="1303.7,800.8 1324.2,800.8 1314.0,817.3" fill="#cc1ad4"/>
<polygon points="1318.2,823.5 1338.7,823.5 1328.4,840.0" fill="#cc1ad4"/>
<polygon points="1096.0,599.3 1116.5,599.3 1106.2,615.8" fill="#9e02b2"/>
<polygon points="1109.0,605.0 1129.5,605.0 1119.2,621.5" fill="#9e02b2"/>
<polygon points="1120.6,611.4 1141.1,611.4 1130.9,627.9" fill="#9e02b2"/>
<polygon points="1133.1,623.2 1153.6,623.2 1143.4,639.7" fill="#9e02b2"/>
<polygon points="1146.3,627.9 1166.8,627.9 1156.6,644.4" fill="#9e02b2"/>
<polygon points="1160.2,644.6 1180.7,644.6 1170.4,661.1" fill="#9e02b2"/>
<polygon points="1174.3,656.1 1194.8,656.1 1184.5,672.6" fill="#9e02b2"/>
<polygon points="1185.3,664.0 1205.8,664.0 1195.6,680.5" fill="#9e02b2"/>
<polygon points="1196.6,677.0 1217.1,677.0 1206.8,693.5" fill="#9e02b2"/>
<polygon points="1208.3,688.6 1228.8,688.6 1218.5,705.1" fill="#9e02b2"/>
<polygon points="1220.3,701.3 1240.8,701.3 1230.5,717.8" fill="#9e02b2"/>
<polygon points="1232.5,710.4 1253.0,710.4 1242.8,726.9" fill="#9e02b2"/>
<polygon points="1245.1,726.7 1265.6,726.7 1255.3,743.2" fill="#9e02b2"/>
<polygon points="1259.7,744.1 1280.2,744.1 1269.9,760.6" fill="#9e02b2"/>
<polygon points="1272.7,761.9 1293.2,761.9 1282.9,778.4" fill="#9e02b2"/>
<polygon points="1287.5,777.5 1308.0,777.5 1297.7,794.0" fill="#9e02b2"/>
<polygon points="1300.9,797.7 1321.4,797.7 1311.1,814.2" fill="#9e02b2"/>
<polygon points="1314.8,819.3 1335.3,819.3 1325.1,835.8" fill="#9e02b2"/>
<polygon points="1327.1,833.7 1347.6,833.7 1337.3,850.2" fill="#9e02b2"/>
<polygon points="1298.8,841.8 1319.2,841.8 1309.0,858.2" fill="#ffa600"/>
<polygon points="1337.8,875.8 1358.2,875.8 1348.0,892.2" fill="#9e02b2"/>
<polygon points="1315.8,791.8 1336.2,791.8 1326.0,808.2" fill="#f8e22e"/>
<polyline points="1018.0,594.5 1021.9,594.6 1025.7,594.7 1029.6,594.8 1033.5,594.9 1037.3,595.1 1041.2,595.3 1045.1,595.6 1048.9,595.9 1052.8,596.4 1056.7,596.9 1060.5,597.6 1064.4,598.3 1068.2,599.2 1072.1,600.1 1076.0,601.2 1079.8,602.3 1083.7,603.5 1087.6,604.9 1091.4,606.3 1095.3,607.8 1099.2,609.5 1103.0,611.2 1106.9,613.0 1110.8,614.9 1114.6,616.9 1118.5,619.0 1122.4,621.1 1126.2,623.4 1130.1,625.8 1134.0,628.2 1137.8,630.7 1141.7,633.3 1145.6,636.0 1149.4,638.8 1153.3,641.6 1157.1,644.6 1161.0,647.6 1164.9,650.7 1168.7,653.8 1172.6,657.1 1176.5,660.4 1180.3,663.8 1184.2,667.3 1188.1,670.8 1191.9,674.4 1195.8,678.1 1199.7,681.8 1203.5,685.6 1207.4,689.5 1211.3,693.4 1215.1,697.4 1219.0,701.5 1222.9,705.6 1226.7,709.8 1230.6,714.0 1234.4,718.3 1238.3,722.7 1242.2,727.0 1246.0,731.5 1249.9,736.0 1253.8,740.5 1257.6,745.1 1261.5,749.7 1265.4,754.4 1269.2,759.1 1273.1,763.8 1277.0,768.6 1280.8,773.4 1284.7,778.3 1288.6,783.2 1292.4,788.1 1296.3,793.1 1300.2,798.0 1304.0,803.0 1307.9,808.1 1311.8,813.1 1315.6,818.2 1319.5,823.3 1323.3,828.4 1327.2,833.6 1331.1,838.7 1334.9,843.9 1338.8,849.0 1342.7,854.2 1346.5,859.4 1350.4,864.7 1354.3,869.9 1358.1,875.1 1362.0,880.3" fill="none" stroke="#000" stroke-width="4.2" stroke-linejoin="round" stroke-linecap="round" />
<rect x="1018.0" y="563.7" width="344.5" height="344.5" fill="none" stroke="#444" stroke-width="1.7"/>
<line x1="1041.8" y1="908.2" x2="1041.8" y2="902.2" stroke="#444" stroke-width="1.5" />
<line x1="1041.8" y1="563.7" x2="1041.8" y2="569.7" stroke="#444" stroke-width="1.5" />
<text transform="translate(1019.23,938.00) scale(1.0300,1)" style='font-family:"Liberation Sans", Arial, sans-serif;font-size:26.5px;'>10</text><text transform="translate(1050.41,924.50) scale(1.0300,1)" style='font-family:"Liberation Sans", Arial, sans-serif;font-size:16px;'>-1</text>
<line x1="1122.0" y1="908.2" x2="1122.0" y2="902.2" stroke="#444" stroke-width="1.5" />
<line x1="1122.0" y1="563.7" x2="1122.0" y2="569.7" stroke="#444" stroke-width="1.5" />
<text transform="translate(1102.13,938.00) scale(1.0300,1)" style='font-family:"Liberation Sans", Arial, sans-serif;font-size:26.5px;'>10</text><text transform="translate(1133.31,924.50) scale(1.0300,1)" style='font-family:"Liberation Sans", Arial, sans-serif;font-size:16px;'>0</text>
<line x1="1202.2" y1="908.2" x2="1202.2" y2="902.2" stroke="#444" stroke-width="1.5" />
<line x1="1202.2" y1="563.7" x2="1202.2" y2="569.7" stroke="#444" stroke-width="1.5" />
<text transform="translate(1182.33,938.00) scale(1.0300,1)" style='font-family:"Liberation Sans", Arial, sans-serif;font-size:26.5px;'>10</text><text transform="translate(1213.51,924.50) scale(1.0300,1)" style='font-family:"Liberation Sans", Arial, sans-serif;font-size:16px;'>1</text>
<line x1="1282.4" y1="908.2" x2="1282.4" y2="902.2" stroke="#444" stroke-width="1.5" />
<line x1="1282.4" y1="563.7" x2="1282.4" y2="569.7" stroke="#444" stroke-width="1.5" />
<text transform="translate(1262.53,938.00) scale(1.0300,1)" style='font-family:"Liberation Sans", Arial, sans-serif;font-size:26.5px;'>10</text><text transform="translate(1293.71,924.50) scale(1.0300,1)" style='font-family:"Liberation Sans", Arial, sans-serif;font-size:16px;'>2</text>
<line x1="1362.6" y1="908.2" x2="1362.6" y2="902.2" stroke="#444" stroke-width="1.5" />
<line x1="1362.6" y1="563.7" x2="1362.6" y2="569.7" stroke="#444" stroke-width="1.5" />
<text transform="translate(1342.73,938.00) scale(1.0300,1)" style='font-family:"Liberation Sans", Arial, sans-serif;font-size:26.5px;'>10</text><text transform="translate(1373.91,924.50) scale(1.0300,1)" style='font-family:"Liberation Sans", Arial, sans-serif;font-size:16px;'>3</text>
<line x1="1018.0" y1="877.7" x2="1024.0" y2="877.7" stroke="#444" stroke-width="1.5" />
<line x1="1362.5" y1="877.7" x2="1356.5" y2="877.7" stroke="#444" stroke-width="1.5" />
<text transform="translate(969.61,888.10) scale(1.0000,1)" style='font-family:"Liberation Sans", Arial, sans-serif;font-size:27.5px;'>10</text><text transform="translate(1001.00,873.60) scale(1.0000,1)" style='font-family:"Liberation Sans", Arial, sans-serif;font-size:16px;'>-3</text>
<line x1="1018.0" y1="782.9" x2="1024.0" y2="782.9" stroke="#444" stroke-width="1.5" />
<line x1="1362.5" y1="782.9" x2="1356.5" y2="782.9" stroke="#444" stroke-width="1.5" />
<text transform="translate(969.61,793.30) scale(1.0000,1)" style='font-family:"Liberation Sans", Arial, sans-serif;font-size:27.5px;'>10</text><text transform="translate(1001.00,778.80) scale(1.0000,1)" style='font-family:"Liberation Sans", Arial, sans-serif;font-size:16px;'>-2</text>
<line x1="1018.0" y1="688.1" x2="1024.0" y2="688.1" stroke="#444" stroke-width="1.5" />
<line x1="1362.5" y1="688.1" x2="1356.5" y2="688.1" stroke="#444" stroke-width="1.5" />
<text transform="translate(969.61,698.50) scale(1.0000,1)" style='font-family:"Liberation Sans", Arial, sans-serif;font-size:27.5px;'>10</text><text transform="translate(1001.00,684.00) scale(1.0000,1)" style='font-family:"Liberation Sans", Arial, sans-serif;font-size:16px;'>-1</text>
<line x1="1018.0" y1="593.3" x2="1024.0" y2="593.3" stroke="#444" stroke-width="1.5" />
<line x1="1362.5" y1="593.3" x2="1356.5" y2="593.3" stroke="#444" stroke-width="1.5" />
<text transform="translate(974.86,603.70) scale(1.0000,1)" style='font-family:"Liberation Sans", Arial, sans-serif;font-size:27.5px;'>10</text><text transform="translate(1006.25,589.20) scale(1.0000,1)" style='font-family:"Liberation Sans", Arial, sans-serif;font-size:16px;'>0</text>
<text transform="translate(956.50,742.54) rotate(-90) scale(1.2444,1)" fill="#000" style='font-family:"Liberation Serif", serif;font-style:italic;font-size:27px;'>η</text>
<path d="M 935.2 724.5 C 929.9 729.9, 936.9 734.4, 931.6 739.8" fill="none" stroke="#000" stroke-width="1.9" stroke-linecap="round"/>
<text transform="translate(1184.98,981.00) scale(1.2465,1)" fill="#000" style='font-family:"Liberation Serif", serif;font-style:italic;font-size:27px;'>γ</text>
<path d="M 1187.7 962.0 C 1192.0 957.0, 1195.7 964.0, 1200.0 959.0" fill="none" stroke="#000" stroke-width="1.9" stroke-linecap="round"/>
<line x1="1494.6" y1="906.6" x2="1774.9" y2="564.4" stroke="#c020c0" stroke-width="2.4" stroke-dasharray="11 7"/>
<circle cx="1607.8" cy="839.1" r="13.5" fill="#ffe233" />
<polygon points="1602.0,771.5 1632.0,771.5 1617.0,796.5" fill="#ffe02a"/>
<polygon points="1628.3,714.5 1658.3,714.5 1643.3,739.5" fill="#ffd400"/>
<circle cx="1648.3" cy="717.4" r="13.5" fill="#ffd400" />
<circle cx="1653.0" cy="712.0" r="13.5" fill="#ffd000" />
<circle cx="1666.4" cy="702.0" r="13.5" fill="#ffa600" />
<circle cx="1677.9" cy="677.9" r="13.5" fill="#f58848" />
<polygon points="1676.0,696.5 1706.0,696.5 1691.0,721.5" fill="#ffa600"/>
<polygon points="1692.5,670.5 1722.5,670.5 1707.5,695.5" fill="#c41ccc"/>
<circle cx="1699.3" cy="646.7" r="13.5" fill="#c21bcb" />
<polygon points="1700.0,644.5 1730.0,644.5 1715.0,669.5" fill="#a000b4"/>
<circle cx="1711.0" cy="658.0" r="13.5" fill="#a00ab0" />
<circle cx="1716.0" cy="648.0" r="13.5" fill="#9a0aaa" />
<circle cx="1722.3" cy="636.8" r="13.5" fill="#7a0a48" />
<circle cx="1724.0" cy="641.0" r="13.5" fill="#80104c" />
<rect x="1485.4" y="563.2" width="344.8" height="345.0" fill="none" stroke="#444" stroke-width="1.7"/>
<text transform="translate(1463.56,937.20) scale(1.0200,1)" style='font-family:"Liberation Sans", Arial, sans-serif;font-size:26px;'>10</text><text transform="translate(1493.88,923.70) scale(1.0200,1)" style='font-family:"Liberation Sans", Arial, sans-serif;font-size:15.5px;'>-2</text>
<line x1="1600.0" y1="908.2" x2="1600.0" y2="902.2" stroke="#444" stroke-width="1.5" />
<line x1="1600.0" y1="563.2" x2="1600.0" y2="569.2" stroke="#444" stroke-width="1.5" />
<text transform="translate(1578.56,937.20) scale(1.0200,1)" style='font-family:"Liberation Sans", Arial, sans-serif;font-size:26px;'>10</text><text transform="translate(1608.88,923.70) scale(1.0200,1)" style='font-family:"Liberation Sans", Arial, sans-serif;font-size:15.5px;'>-1</text>
<line x1="1715.0" y1="908.2" x2="1715.0" y2="902.2" stroke="#444" stroke-width="1.5" />
<line x1="1715.0" y1="563.2" x2="1715.0" y2="569.2" stroke="#444" stroke-width="1.5" />
<text transform="translate(1696.24,937.20) scale(1.0200,1)" style='font-family:"Liberation Sans", Arial, sans-serif;font-size:26px;'>10</text><text transform="translate(1726.56,923.70) scale(1.0200,1)" style='font-family:"Liberation Sans", Arial, sans-serif;font-size:15.5px;'>0</text>
<text transform="translate(1804.12,937.20) scale(1.0200,1)" style='font-family:"Liberation Sans", Arial, sans-serif;font-size:26px;'>10</text><text transform="translate(1834.44,923.70) scale(1.0200,1)" style='font-family:"Liberation Sans", Arial, sans-serif;font-size:15.5px;'>1</text>
<text transform="translate(1442.02,916.50) scale(1.0300,1)" style='font-family:"Liberation Sans", Arial, sans-serif;font-size:25.5px;'>10</text><text transform="translate(1472.06,902.70) scale(1.0300,1)" style='font-family:"Liberation Sans", Arial, sans-serif;font-size:15.5px;'>0</text>
<line x1="1485.4" y1="814.9" x2="1491.4" y2="814.9" stroke="#444" stroke-width="1.5" />
<line x1="1830.2" y1="814.9" x2="1824.2" y2="814.9" stroke="#444" stroke-width="1.5" />
<text transform="translate(1441.22,824.70) scale(1.0300,1)" style='font-family:"Liberation Sans", Arial, sans-serif;font-size:25.5px;'>10</text><text transform="translate(1471.26,810.90) scale(1.0300,1)" style='font-family:"Liberation Sans", Arial, sans-serif;font-size:15.5px;'>1</text>
<line x1="1485.4" y1="721.6" x2="1491.4" y2="721.6" stroke="#444" stroke-width="1.5" />
<line x1="1830.2" y1="721.6" x2="1824.2" y2="721.6" stroke="#444" stroke-width="1.5" />
<text transform="translate(1441.22,731.40) scale(1.0300,1)" style='font-family:"Liberation Sans", Arial, sans-serif;font-size:25.5px;'>10</text><text transform="translate(1471.26,717.60) scale(1.0300,1)" style='font-family:"Liberation Sans", Arial, sans-serif;font-size:15.5px;'>2</text>
<line x1="1485.4" y1="628.3" x2="1491.4" y2="628.3" stroke="#444" stroke-width="1.5" />
<line x1="1830.2" y1="628.3" x2="1824.2" y2="628.3" stroke="#444" stroke-width="1.5" />
<text transform="translate(1441.22,638.10) scale(1.0300,1)" style='font-family:"Liberation Sans", Arial, sans-serif;font-size:25.5px;'>10</text><text transform="translate(1471.26,624.30) scale(1.0300,1)" style='font-family:"Liberation Sans", Arial, sans-serif;font-size:15.5px;'>3</text>
<text transform="translate(1519.45,688.80) scale(1.0766,1)" fill="#000" style='font-family:"Liberation Sans", Arial, sans-serif;font-size:26px;'>Slope 1.5</text>
<text transform="translate(1532.42,970.00) scale(1.1014,1)" style='font-family:"Liberation Sans", Arial, sans-serif;font-size:25.6px;'>Concentration (g mL</text><text transform="translate(1786.91,957.50) scale(1.1014,1)" style='font-family:"Liberation Sans", Arial, sans-serif;font-size:15.5px;'>-1</text><text transform="translate(1802.09,970.00) scale(1.1014,1)" style='font-family:"Liberation Sans", Arial, sans-serif;font-size:25.6px;'>)</text>
<text transform="translate(1420.00,768.23) rotate(-90) scale(1.0429,1)" fill="#000" style='font-family:"Liberation Sans", Arial, sans-serif;font-size:27.5px;'>(Pa s)</text>
<text transform="translate(1420.50,813.87) rotate(-90) scale(1.3689,1)" fill="#000" style='font-family:"Liberation Serif", serif;font-style:italic;font-size:27px;'>η</text>
<text transform="translate(1428.50,800.00) rotate(-90) scale(1.0667,1)" fill="#000" style='font-family:"Liberation Sans", Arial, sans-serif;font-style:italic;font-size:17px;'>s,0</text>
<text transform="translate(1401.80,572.90) scale(1.0683,1)" fill="#000" style='font-family:"Liberation Sans", Arial, sans-serif;font-size:50px;'>(f)</text>
<defs><clipPath id="clipEL"><rect x="199" y="1000" width="577" height="360"/></clipPath></defs>
<g clip-path="url(#clipEL)"><polyline points="199.0,1174.5 207.3,1174.8 215.7,1175.1 224.0,1175.4 232.3,1175.6 240.6,1176.0 249.0,1176.3 257.3,1176.7 265.6,1177.1 273.9,1177.5 282.3,1178.0 290.6,1178.5 298.9,1179.1 307.3,1179.7 315.6,1180.4 323.9,1181.1 332.2,1182.0 340.6,1182.8 348.9,1183.8 357.2,1184.9 365.6,1186.0 373.9,1187.2 382.2,1188.5 390.5,1189.9 398.9,1191.4 407.2,1193.0 415.5,1194.6 423.8,1196.3 432.2,1198.0 440.5,1199.8 448.8,1201.6 457.2,1203.5 465.5,1205.4 473.8,1207.3 482.1,1209.3 490.5,1211.2 498.8,1213.2 507.1,1215.2 515.4,1217.2 523.8,1219.2 532.1,1221.3 540.4,1223.4 548.8,1225.6 557.1,1227.8 565.4,1230.0 573.7,1232.3 582.1,1234.7 590.4,1237.1 598.7,1239.5 607.0,1242.0 615.4,1244.6 623.7,1247.3 632.0,1250.0 640.4,1252.8 648.7,1255.7 657.0,1258.6 665.3,1261.6 673.7,1264.6 682.0,1267.6 690.3,1270.7 698.7,1273.8 707.0,1276.8 715.3,1279.9 723.6,1282.9 732.0,1285.9 740.3,1288.9 748.6,1291.8 756.9,1294.6 765.3,1297.3 773.6,1300.0" fill="none" stroke="#f8e22e" stroke-width="4.5" stroke-linejoin="round" stroke-linecap="round" stroke-linecap="butt"/><polyline points="199.0,1114.9 207.3,1114.3 215.7,1114.2 224.0,1114.6 232.3,1115.4 240.6,1116.5 249.0,1117.9 257.3,1119.6 265.6,1121.4 273.9,1123.4 282.3,1125.4 290.6,1127.4 298.9,1129.3 307.3,1131.1 315.6,1132.9 323.9,1134.6 332.2,1136.3 340.6,1137.9 348.9,1139.6 357.2,1141.3 365.6,1143.0 373.9,1144.7 382.2,1146.5 390.5,1148.2 398.9,1150.0 407.2,1151.8 415.5,1153.7 423.8,1155.5 432.2,1157.4 440.5,1159.3 448.8,1161.2 457.2,1163.1 465.5,1165.0 473.8,1167.0 482.1,1169.0 490.5,1171.0 498.8,1173.0 507.1,1175.0 515.4,1177.0 523.8,1179.1 532.1,1181.2 540.4,1183.2 548.8,1185.3 557.1,1187.5 565.4,1189.6 573.7,1191.7 582.1,1193.9 590.4,1196.0 598.7,1198.2 607.0,1200.4 615.4,1202.6 623.7,1204.8 632.0,1207.0 640.4,1209.3 648.7,1211.5 657.0,1213.7 665.3,1216.0 673.7,1218.2 682.0,1220.5 690.3,1222.8 698.7,1225.0 707.0,1227.3 715.3,1229.6 723.6,1231.9 732.0,1234.2 740.3,1236.4 748.6,1238.7 756.9,1241.0 765.3,1243.3 773.6,1245.6" fill="none" stroke="#ffd400" stroke-width="4.5" stroke-linejoin="round" stroke-linecap="round" stroke-linecap="butt"/><polyline points="199.0,1092.9 207.3,1094.0 215.7,1095.1 224.0,1096.1 232.3,1097.2 240.6,1098.2 249.0,1099.2 257.3,1100.1 265.6,1101.1 273.9,1102.1 282.3,1103.0 290.6,1104.0 298.9,1105.0 307.3,1106.0 315.6,1107.0 323.9,1108.0 332.2,1109.1 340.6,1110.1 348.9,1111.2 357.2,1112.4 365.6,1113.6 373.9,1114.8 382.2,1116.1 390.5,1117.5 398.9,1119.0 407.2,1120.5 415.5,1122.2 423.8,1124.0 432.2,1125.9 440.5,1128.0 448.8,1130.3 457.2,1132.7 465.5,1135.2 473.8,1138.0 482.1,1140.9 490.5,1143.9 498.8,1146.9 507.1,1150.0 515.4,1153.1 523.8,1156.1 532.1,1159.2 540.4,1162.2 548.8,1165.3 557.1,1168.4 565.4,1171.4 573.7,1174.4 582.1,1177.5 590.4,1180.5 598.7,1183.5 607.0,1186.6 615.4,1189.6 623.7,1192.6 632.0,1195.6 640.4,1198.5 648.7,1201.5 657.0,1204.5 665.3,1207.4 673.7,1210.4 682.0,1213.3 690.3,1216.2 698.7,1219.1 707.0,1221.9 715.3,1224.8 723.6,1227.6 732.0,1230.5 740.3,1233.3 748.6,1236.1 756.9,1238.8 765.3,1241.6 773.6,1244.3" fill="none" stroke="#ffa600" stroke-width="4.5" stroke-linejoin="round" stroke-linecap="round" stroke-linecap="butt"/><polyline points="199.0,1082.4 207.3,1083.3 215.7,1084.1 224.0,1084.9 232.3,1085.8 240.6,1086.7 249.0,1087.6 257.3,1088.5 265.6,1089.4 273.9,1090.4 282.3,1091.4 290.6,1092.5 298.9,1093.6 307.3,1094.7 315.6,1095.9 323.9,1097.1 332.2,1098.3 340.6,1099.6 348.9,1101.0 357.2,1102.4 365.6,1103.9 373.9,1105.4 382.2,1107.0 390.5,1108.6 398.9,1110.3 407.2,1112.1 415.5,1113.9 423.8,1115.8 432.2,1117.8 440.5,1119.9 448.8,1122.0 457.2,1124.2 465.5,1126.6 473.8,1128.9 482.1,1131.4 490.5,1133.9 498.8,1136.5 507.1,1139.2 515.4,1141.8 523.8,1144.5 532.1,1147.2 540.4,1150.0 548.8,1152.7 557.1,1155.4 565.4,1158.1 573.7,1160.7 582.1,1163.3 590.4,1165.9 598.7,1168.4 607.0,1170.8 615.4,1173.1 623.7,1175.4 632.0,1177.7 640.4,1179.8 648.7,1181.9 657.0,1184.0 665.3,1186.0 673.7,1188.0 682.0,1190.0 690.3,1191.9 698.7,1193.9 707.0,1195.8 715.3,1197.8 723.6,1199.8 732.0,1201.8 740.3,1203.9 748.6,1206.0 756.9,1208.2 765.3,1210.5 773.6,1212.9" fill="none" stroke="#ff7e22" stroke-width="4.5" stroke-linejoin="round" stroke-linecap="round" stroke-linecap="butt"/><polyline points="199.0,1062.6 207.3,1063.3 215.7,1064.0 224.0,1064.9 232.3,1065.9 240.6,1066.9 249.0,1068.1 257.3,1069.3 265.6,1070.6 273.9,1072.0 282.3,1073.4 290.6,1074.9 298.9,1076.4 307.3,1077.9 315.6,1079.4 323.9,1081.0 332.2,1082.5 340.6,1084.1 348.9,1085.6 357.2,1087.1 365.6,1088.6 373.9,1090.0 382.2,1091.5 390.5,1092.9 398.9,1094.3 407.2,1095.7 415.5,1097.1 423.8,1098.6 432.2,1100.0 440.5,1101.5 448.8,1103.0 457.2,1104.5 465.5,1106.0 473.8,1107.6 482.1,1109.3 490.5,1111.0 498.8,1112.7 507.1,1114.5 515.4,1116.4 523.8,1118.3 532.1,1120.3 540.4,1122.3 548.8,1124.4 557.1,1126.6 565.4,1128.8 573.7,1131.1 582.1,1133.4 590.4,1135.8 598.7,1138.2 607.0,1140.7 615.4,1143.2 623.7,1145.8 632.0,1148.4 640.4,1151.1 648.7,1153.8 657.0,1156.5 665.3,1159.3 673.7,1162.1 682.0,1165.0 690.3,1167.8 698.7,1170.7 707.0,1173.5 715.3,1176.3 723.6,1179.0 732.0,1181.6 740.3,1184.2 748.6,1186.6 756.9,1189.0 765.3,1191.2 773.6,1193.3" fill="none" stroke="#cc1ad4" stroke-width="4.5" stroke-linejoin="round" stroke-linecap="round" stroke-linecap="butt"/><polyline points="199.0,1049.3 207.3,1049.8 215.7,1050.4 224.0,1051.0 232.3,1051.7 240.6,1052.5 249.0,1053.3 257.3,1054.3 265.6,1055.2 273.9,1056.3 282.3,1057.4 290.6,1058.6 298.9,1059.8 307.3,1061.1 315.6,1062.5 323.9,1064.0 332.2,1065.6 340.6,1067.2 348.9,1068.9 357.2,1070.7 365.6,1072.5 373.9,1074.5 382.2,1076.5 390.5,1078.6 398.9,1080.7 407.2,1083.0 415.5,1085.3 423.8,1087.7 432.2,1090.2 440.5,1092.8 448.8,1095.4 457.2,1098.1 465.5,1100.9 473.8,1103.8 482.1,1106.7 490.5,1109.6 498.8,1112.5 507.1,1115.3 515.4,1118.1 523.8,1120.8 532.1,1123.4 540.4,1126.0 548.8,1128.5 557.1,1131.0 565.4,1133.5 573.7,1135.9 582.1,1138.3 590.4,1140.8 598.7,1143.2 607.0,1145.6 615.4,1148.1 623.7,1150.6 632.0,1153.1 640.4,1155.6 648.7,1158.2 657.0,1160.8 665.3,1163.5 673.7,1166.3 682.0,1169.1 690.3,1171.9 698.7,1174.7 707.0,1177.6 715.3,1180.4 723.6,1183.2 732.0,1186.0 740.3,1188.8 748.6,1191.4 756.9,1194.1 765.3,1196.6 773.6,1199.0" fill="none" stroke="#820084" stroke-width="4.5" stroke-linejoin="round" stroke-linecap="round" stroke-linecap="butt"/><circle cx="255.0" cy="1176.9" r="10.6" fill="#f8e22e" /><circle cx="284.2" cy="1178.8" r="10.6" fill="#f8e22e" /><circle cx="313.4" cy="1181.1" r="10.6" fill="#f8e22e" /><circle cx="342.6" cy="1184.4" r="10.6" fill="#f8e22e" /><circle cx="371.8" cy="1187.6" r="10.6" fill="#f8e22e" /><circle cx="401.0" cy="1193.1" r="10.6" fill="#f8e22e" /><circle cx="430.2" cy="1196.2" r="10.6" fill="#f8e22e" /><circle cx="459.4" cy="1203.9" r="10.6" fill="#f8e22e" /><circle cx="488.6" cy="1212.1" r="10.6" fill="#f8e22e" /><circle cx="209.6" cy="1114.6" r="10.6" fill="#ffd400" /><circle cx="238.4" cy="1117.4" r="10.6" fill="#ffd400" /><circle cx="267.2" cy="1120.6" r="10.6" fill="#ffd400" /><circle cx="296.0" cy="1128.5" r="10.6" fill="#ffd400" /><circle cx="324.8" cy="1134.0" r="10.6" fill="#ffd400" /><circle cx="353.6" cy="1140.7" r="10.6" fill="#ffd400" /><circle cx="382.4" cy="1146.7" r="10.6" fill="#ffd400" /><circle cx="411.2" cy="1151.2" r="10.6" fill="#ffd400" /><circle cx="440.0" cy="1158.3" r="10.6" fill="#ffd400" /><circle cx="468.8" cy="1165.1" r="10.6" fill="#ffd400" /><circle cx="497.6" cy="1173.9" r="10.6" fill="#ffd400" /><circle cx="241.2" cy="1099.0" r="10.6" fill="#ffa600" /><circle cx="269.6" cy="1100.6" r="10.6" fill="#ffa600" /><circle cx="298.0" cy="1105.8" r="10.6" fill="#ffa600" /><circle cx="326.4" cy="1107.2" r="10.6" fill="#ffa600" /><circle cx="354.8" cy="1112.4" r="10.6" fill="#ffa600" /><circle cx="383.2" cy="1115.2" r="10.6" fill="#ffa600" /><circle cx="411.6" cy="1119.9" r="10.6" fill="#ffa600" /><circle cx="440.0" cy="1129.0" r="10.6" fill="#ffa600" /><circle cx="468.4" cy="1135.3" r="10.6" fill="#ffa600" /><circle cx="496.8" cy="1145.4" r="10.6" fill="#ffa600" /><circle cx="241.2" cy="1088.2" r="10.6" fill="#ff7e22" /><circle cx="269.6" cy="1091.0" r="10.6" fill="#ff7e22" /><circle cx="298.0" cy="1092.8" r="10.6" fill="#ff7e22" /><circle cx="326.4" cy="1098.8" r="10.6" fill="#ff7e22" /><circle cx="354.8" cy="1102.1" r="10.6" fill="#ff7e22" /><circle cx="383.2" cy="1107.7" r="10.6" fill="#ff7e22" /><circle cx="411.6" cy="1112.2" r="10.6" fill="#ff7e22" /><circle cx="440.0" cy="1121.1" r="10.6" fill="#ff7e22" /><circle cx="468.4" cy="1128.0" r="10.6" fill="#ff7e22" /><circle cx="496.8" cy="1137.3" r="10.6" fill="#ff7e22" /><circle cx="241.2" cy="1068.2" r="10.6" fill="#cc1ad4" /><circle cx="269.6" cy="1070.7" r="10.6" fill="#cc1ad4" /><circle cx="298.0" cy="1075.8" r="10.6" fill="#cc1ad4" /><circle cx="326.4" cy="1080.5" r="10.6" fill="#cc1ad4" /><circle cx="354.8" cy="1085.6" r="10.6" fill="#cc1ad4" /><circle cx="383.2" cy="1090.3" r="10.6" fill="#cc1ad4" /><circle cx="411.6" cy="1095.9" r="10.6" fill="#cc1ad4" /><circle cx="440.0" cy="1101.7" r="10.6" fill="#cc1ad4" /><circle cx="468.4" cy="1105.1" r="10.6" fill="#cc1ad4" /><circle cx="496.8" cy="1112.8" r="10.6" fill="#cc1ad4" /><circle cx="241.2" cy="1052.1" r="10.6" fill="#820084" /><circle cx="269.6" cy="1055.1" r="10.6" fill="#820084" /><circle cx="298.0" cy="1060.6" r="10.6" fill="#820084" /><circle cx="326.4" cy="1064.4" r="10.6" fill="#820084" /><circle cx="354.8" cy="1069.6" r="10.6" fill="#820084" /><circle cx="383.2" cy="1076.7" r="10.6" fill="#820084" /><circle cx="411.6" cy="1084.8" r="10.6" fill="#820084" /><circle cx="440.0" cy="1091.3" r="10.6" fill="#820084" /><circle cx="468.4" cy="1103.4" r="10.6" fill="#820084" /><circle cx="496.8" cy="1110.4" r="10.6" fill="#820084" /><circle cx="513.7" cy="1217.4" r="10.6" fill="#f8e22e" /><circle cx="543.8" cy="1229.7" r="10.6" fill="#f8e22e" /><circle cx="572.6" cy="1229.7" r="10.6" fill="#f8e22e" /><circle cx="601.4" cy="1240.7" r="10.6" fill="#f8e22e" /><circle cx="630.2" cy="1250.3" r="10.6" fill="#f8e22e" /><circle cx="659.0" cy="1261.3" r="10.6" fill="#f8e22e" /><circle cx="688.4" cy="1272.2" r="10.6" fill="#f8e22e" /><circle cx="715.1" cy="1274.3" r="10.6" fill="#f8e22e" /><circle cx="519.2" cy="1177.7" r="10.6" fill="#ffd400" /><circle cx="548.6" cy="1184.5" r="10.6" fill="#ffd400" /><circle cx="576.7" cy="1205.0" r="10.6" fill="#ffd400" /><circle cx="604.1" cy="1207.8" r="10.6" fill="#ffd400" /><circle cx="632.2" cy="1214.0" r="10.6" fill="#ffd400" /><circle cx="660.3" cy="1227.0" r="10.6" fill="#ffd400" /><circle cx="688.4" cy="1231.1" r="10.6" fill="#ffd400" /><circle cx="715.1" cy="1228.0" r="10.6" fill="#ffd400" /><circle cx="548.6" cy="1177.7" r="10.6" fill="#ffa600" /><circle cx="576.7" cy="1199.6" r="10.6" fill="#ffa600" /><circle cx="604.1" cy="1188.6" r="10.6" fill="#ffa600" /><circle cx="632.2" cy="1196.9" r="10.6" fill="#ffa600" /><circle cx="660.3" cy="1222.9" r="10.6" fill="#ffa600" /><circle cx="688.4" cy="1229.8" r="10.6" fill="#ffa600" /><circle cx="715.1" cy="1233.9" r="10.6" fill="#ffa600" /><circle cx="519.2" cy="1153.0" r="10.6" fill="#ff7e22" /><circle cx="548.6" cy="1166.7" r="10.6" fill="#ff7e22" /><circle cx="576.7" cy="1183.2" r="10.6" fill="#ff7e22" /><circle cx="604.1" cy="1175.0" r="10.6" fill="#ff7e22" /><circle cx="632.2" cy="1214.7" r="10.6" fill="#ff7e22" /><circle cx="660.3" cy="1205.0" r="10.6" fill="#ff7e22" /><circle cx="688.4" cy="1212.0" r="10.6" fill="#ff7e22" /><circle cx="715.1" cy="1216.0" r="10.6" fill="#ff7e22" /><circle cx="519.2" cy="1132.5" r="10.6" fill="#cc1ad4" /><circle cx="548.6" cy="1121.5" r="10.6" fill="#cc1ad4" /><circle cx="576.7" cy="1170.8" r="10.6" fill="#cc1ad4" /><circle cx="604.1" cy="1168.0" r="10.6" fill="#cc1ad4" /><circle cx="632.2" cy="1179.0" r="10.6" fill="#cc1ad4" /><circle cx="660.3" cy="1199.6" r="10.6" fill="#cc1ad4" /><circle cx="688.4" cy="1206.5" r="10.6" fill="#cc1ad4" /><circle cx="715.1" cy="1200.0" r="10.6" fill="#cc1ad4" /><circle cx="548.6" cy="1150.3" r="10.6" fill="#a400c2" /><circle cx="604.1" cy="1172.0" r="10.6" fill="#a400c2" /><circle cx="688.4" cy="1200.0" r="10.6" fill="#a400c2" /><circle cx="519.2" cy="1118.8" r="10.6" fill="#820084" /><circle cx="548.6" cy="1130.0" r="10.6" fill="#820084" /><circle cx="576.7" cy="1152.3" r="10.6" fill="#820084" /><circle cx="604.1" cy="1161.2" r="10.6" fill="#820084" /><circle cx="632.2" cy="1166.7" r="10.6" fill="#820084" /><circle cx="660.3" cy="1175.6" r="10.6" fill="#820084" /><circle cx="688.4" cy="1179.0" r="10.6" fill="#820084" /><circle cx="715.1" cy="1195.5" r="10.6" fill="#820084" /><circle cx="715.1" cy="1206.5" r="10.6" fill="#820084" /></g>
<line x1="198.9" y1="1018.9" x2="198.9" y2="1360.5" stroke="#444" stroke-width="1.7" />
<line x1="198.1" y1="1359.7" x2="773.2" y2="1359.7" stroke="#444" stroke-width="1.7" />
<line x1="198.9" y1="1299.5" x2="211.4" y2="1299.5" stroke="#444" stroke-width="1.5" />
<line x1="198.9" y1="1239.3" x2="211.4" y2="1239.3" stroke="#444" stroke-width="1.5" />
<line x1="198.9" y1="1179.1" x2="211.4" y2="1179.1" stroke="#444" stroke-width="1.5" />
<line x1="198.9" y1="1118.9" x2="211.4" y2="1118.9" stroke="#444" stroke-width="1.5" />
<line x1="198.9" y1="1058.7" x2="211.4" y2="1058.7" stroke="#444" stroke-width="1.5" />
<line x1="241.3" y1="1359.7" x2="241.3" y2="1347.2" stroke="#444" stroke-width="1.5" />
<line x1="385.1" y1="1359.7" x2="385.1" y2="1347.2" stroke="#444" stroke-width="1.5" />
<line x1="528.9" y1="1359.7" x2="528.9" y2="1347.2" stroke="#444" stroke-width="1.5" />
<line x1="672.7" y1="1359.7" x2="672.7" y2="1347.2" stroke="#444" stroke-width="1.5" />
<text transform="translate(142.01,1369.30) scale(0.9500,1)" style='font-family:"Liberation Sans", Arial, sans-serif;font-size:29px;'>10</text><text transform="translate(173.41,1355.50) scale(0.9500,1)" style='font-family:"Liberation Sans", Arial, sans-serif;font-size:15.5px;'>-3</text>
<text transform="translate(142.01,1309.10) scale(0.9500,1)" style='font-family:"Liberation Sans", Arial, sans-serif;font-size:29px;'>10</text><text transform="translate(173.41,1295.30) scale(0.9500,1)" style='font-family:"Liberation Sans", Arial, sans-serif;font-size:15.5px;'>-2</text>
<text transform="translate(142.01,1248.90) scale(0.9500,1)" style='font-family:"Liberation Sans", Arial, sans-serif;font-size:29px;'>10</text><text transform="translate(173.41,1235.10) scale(0.9500,1)" style='font-family:"Liberation Sans", Arial, sans-serif;font-size:15.5px;'>-1</text>
<text transform="translate(147.00,1188.70) scale(0.9500,1)" style='font-family:"Liberation Sans", Arial, sans-serif;font-size:29px;'>10</text><text transform="translate(178.40,1174.90) scale(0.9500,1)" style='font-family:"Liberation Sans", Arial, sans-serif;font-size:15.5px;'>0</text>
<text transform="translate(147.00,1128.50) scale(0.9500,1)" style='font-family:"Liberation Sans", Arial, sans-serif;font-size:29px;'>10</text><text transform="translate(178.40,1114.70) scale(0.9500,1)" style='font-family:"Liberation Sans", Arial, sans-serif;font-size:15.5px;'>1</text>
<text transform="translate(147.00,1068.30) scale(0.9500,1)" style='font-family:"Liberation Sans", Arial, sans-serif;font-size:29px;'>10</text><text transform="translate(178.40,1054.50) scale(0.9500,1)" style='font-family:"Liberation Sans", Arial, sans-serif;font-size:15.5px;'>2</text>
<text transform="translate(207.98,1395.50) scale(1.0500,1)" fill="#000" style='font-family:"Liberation Sans", Arial, sans-serif;font-size:26px;'>0.005</text>
<text transform="translate(359.26,1395.50) scale(1.0500,1)" fill="#000" style='font-family:"Liberation Sans", Arial, sans-serif;font-size:26px;'>0.05</text>
<text transform="translate(510.67,1395.50) scale(1.0500,1)" fill="#000" style='font-family:"Liberation Sans", Arial, sans-serif;font-size:26px;'>0.5</text>
<text transform="translate(665.89,1395.50) scale(1.0500,1)" fill="#000" style='font-family:"Liberation Sans", Arial, sans-serif;font-size:26px;'>5</text>
<text transform="translate(429.02,1437.10) scale(1.1071,1)" style='font-family:"Liberation Sans", Arial, sans-serif;font-size:25.7px;'>Shear rate (s</text><text transform="translate(593.79,1424.60) scale(1.1071,1)" style='font-family:"Liberation Sans", Arial, sans-serif;font-size:15.5px;'>-1</text><text transform="translate(609.05,1437.10) scale(1.1071,1)" style='font-family:"Liberation Sans", Arial, sans-serif;font-size:25.7px;'>)</text>
<text transform="translate(117.00,1324.06) rotate(-90) scale(1.0895,1)" fill="#000" style='font-family:"Liberation Sans", Arial, sans-serif;font-size:25.8px;'>Shear viscosity (Pa s)</text>
<circle cx="1053.0" cy="1057.0" r="9.5" fill="#f8e22e" />
<circle cx="1060.0" cy="1066.0" r="9.5" fill="#f8e22e" />
<circle cx="1075.0" cy="1062.0" r="9.5" fill="#f8e22e" />
<circle cx="1088.0" cy="1052.0" r="9.5" fill="#f8e22e" />
<circle cx="1092.0" cy="1071.0" r="9.5" fill="#f8e22e" />
<circle cx="1098.0" cy="1076.0" r="9.5" fill="#f8e22e" />
<circle cx="1112.0" cy="1085.0" r="9.5" fill="#f8e22e" />
<circle cx="1115.0" cy="1081.3" r="9.5" fill="#f8e22e" />
<circle cx="1121.1" cy="1084.5" r="9.5" fill="#f8e22e" />
<circle cx="1128.5" cy="1083.5" r="9.5" fill="#f8e22e" />
<circle cx="1136.4" cy="1093.0" r="9.5" fill="#f8e22e" />
<circle cx="1141.6" cy="1098.4" r="9.5" fill="#f8e22e" />
<circle cx="1147.8" cy="1102.0" r="9.5" fill="#f8e22e" />
<circle cx="1154.5" cy="1107.4" r="9.5" fill="#f8e22e" />
<circle cx="1162.4" cy="1112.1" r="9.5" fill="#f8e22e" />
<circle cx="1167.4" cy="1119.9" r="9.5" fill="#f8e22e" />
<circle cx="1175.0" cy="1124.9" r="9.5" fill="#f8e22e" />
<circle cx="1180.1" cy="1135.6" r="9.5" fill="#f8e22e" />
<circle cx="1188.1" cy="1138.9" r="9.5" fill="#f8e22e" />
<circle cx="1194.9" cy="1150.0" r="9.5" fill="#f8e22e" />
<circle cx="1201.2" cy="1160.1" r="9.5" fill="#f8e22e" />
<circle cx="1206.4" cy="1157.9" r="9.5" fill="#f8e22e" />
<circle cx="1212.8" cy="1165.9" r="9.5" fill="#f8e22e" />
<circle cx="1218.3" cy="1176.6" r="9.5" fill="#f8e22e" />
<circle cx="1224.7" cy="1184.3" r="9.5" fill="#f8e22e" />
<circle cx="1230.0" cy="1185.0" r="9.5" fill="#f8e22e" />
<circle cx="1100.0" cy="1071.7" r="9.5" fill="#ffd400" />
<circle cx="1105.4" cy="1079.8" r="9.5" fill="#ffd400" />
<circle cx="1112.5" cy="1079.0" r="9.5" fill="#ffd400" />
<circle cx="1120.5" cy="1083.2" r="9.5" fill="#ffd400" />
<circle cx="1126.1" cy="1084.1" r="9.5" fill="#ffd400" />
<circle cx="1132.5" cy="1088.1" r="9.5" fill="#ffd400" />
<circle cx="1139.0" cy="1096.6" r="9.5" fill="#ffd400" />
<circle cx="1144.2" cy="1103.4" r="9.5" fill="#ffd400" />
<circle cx="1149.9" cy="1105.6" r="9.5" fill="#ffd400" />
<circle cx="1156.2" cy="1109.1" r="9.5" fill="#ffd400" />
<circle cx="1163.9" cy="1114.8" r="9.5" fill="#ffd400" />
<circle cx="1169.6" cy="1122.0" r="9.5" fill="#ffd400" />
<circle cx="1177.6" cy="1132.2" r="9.5" fill="#ffd400" />
<circle cx="1183.7" cy="1136.6" r="9.5" fill="#ffd400" />
<circle cx="1190.7" cy="1140.6" r="9.5" fill="#ffd400" />
<circle cx="1197.2" cy="1153.0" r="9.5" fill="#ffd400" />
<circle cx="1204.2" cy="1160.3" r="9.5" fill="#ffd400" />
<circle cx="1209.6" cy="1162.0" r="9.5" fill="#ffd400" />
<circle cx="1214.8" cy="1172.8" r="9.5" fill="#ffd400" />
<circle cx="1220.4" cy="1175.8" r="9.5" fill="#ffd400" />
<circle cx="1228.2" cy="1182.9" r="9.5" fill="#ffd400" />
<circle cx="1235.9" cy="1194.2" r="9.5" fill="#ffd400" />
<circle cx="1241.7" cy="1200.4" r="9.5" fill="#ffd400" />
<circle cx="1247.1" cy="1214.6" r="9.5" fill="#ffd400" />
<circle cx="1105.0" cy="1076.4" r="9.5" fill="#ffa600" />
<circle cx="1112.1" cy="1079.4" r="9.5" fill="#ffa600" />
<circle cx="1120.0" cy="1083.5" r="9.5" fill="#ffa600" />
<circle cx="1125.5" cy="1083.0" r="9.5" fill="#ffa600" />
<circle cx="1131.0" cy="1086.3" r="9.5" fill="#ffa600" />
<circle cx="1136.2" cy="1092.4" r="9.5" fill="#ffa600" />
<circle cx="1143.9" cy="1094.9" r="9.5" fill="#ffa600" />
<circle cx="1149.6" cy="1103.1" r="9.5" fill="#ffa600" />
<circle cx="1155.3" cy="1110.4" r="9.5" fill="#ffa600" />
<circle cx="1161.1" cy="1113.4" r="9.5" fill="#ffa600" />
<circle cx="1167.4" cy="1115.6" r="9.5" fill="#ffa600" />
<circle cx="1175.1" cy="1129.7" r="9.5" fill="#ffa600" />
<circle cx="1180.6" cy="1130.8" r="9.5" fill="#ffa600" />
<circle cx="1187.6" cy="1140.1" r="9.5" fill="#ffa600" />
<circle cx="1195.5" cy="1149.1" r="9.5" fill="#ffa600" />
<circle cx="1201.4" cy="1158.5" r="9.5" fill="#ffa600" />
<circle cx="1206.4" cy="1160.4" r="9.5" fill="#ffa600" />
<circle cx="1212.0" cy="1164.4" r="9.5" fill="#ffa600" />
<circle cx="1218.3" cy="1174.5" r="9.5" fill="#ffa600" />
<circle cx="1224.6" cy="1184.5" r="9.5" fill="#ffa600" />
<circle cx="1230.8" cy="1188.0" r="9.5" fill="#ffa600" />
<circle cx="1236.1" cy="1195.3" r="9.5" fill="#ffa600" />
<circle cx="1098.0" cy="1069.3" r="9.5" fill="#cc1ad4" />
<circle cx="1104.4" cy="1069.1" r="9.5" fill="#cc1ad4" />
<circle cx="1110.1" cy="1075.5" r="9.5" fill="#cc1ad4" />
<circle cx="1115.7" cy="1076.2" r="9.5" fill="#cc1ad4" />
<circle cx="1122.9" cy="1082.1" r="9.5" fill="#cc1ad4" />
<circle cx="1130.0" cy="1086.1" r="9.5" fill="#cc1ad4" />
<circle cx="1136.1" cy="1090.5" r="9.5" fill="#cc1ad4" />
<circle cx="1142.4" cy="1101.0" r="9.5" fill="#cc1ad4" />
<circle cx="1149.6" cy="1105.0" r="9.5" fill="#cc1ad4" />
<circle cx="1156.1" cy="1106.4" r="9.5" fill="#cc1ad4" />
<circle cx="1161.8" cy="1110.3" r="9.5" fill="#cc1ad4" />
<circle cx="1168.4" cy="1117.8" r="9.5" fill="#cc1ad4" />
<circle cx="1173.4" cy="1119.2" r="9.5" fill="#cc1ad4" />
<circle cx="1180.3" cy="1133.1" r="9.5" fill="#cc1ad4" />
<circle cx="1188.1" cy="1135.5" r="9.5" fill="#cc1ad4" />
<circle cx="1196.0" cy="1146.7" r="9.5" fill="#cc1ad4" />
<circle cx="1202.6" cy="1155.9" r="9.5" fill="#cc1ad4" />
<circle cx="1210.6" cy="1159.0" r="9.5" fill="#cc1ad4" />
<circle cx="1218.1" cy="1176.4" r="9.5" fill="#cc1ad4" />
<circle cx="1224.7" cy="1175.6" r="9.5" fill="#cc1ad4" />
<circle cx="1100.0" cy="1069.9" r="9.5" fill="#a400c2" />
<circle cx="1107.3" cy="1070.4" r="9.5" fill="#a400c2" />
<circle cx="1114.7" cy="1073.9" r="9.5" fill="#a400c2" />
<circle cx="1122.1" cy="1083.6" r="9.5" fill="#a400c2" />
<circle cx="1130.0" cy="1090.4" r="9.5" fill="#a400c2" />
<circle cx="1135.5" cy="1088.3" r="9.5" fill="#a400c2" />
<circle cx="1142.3" cy="1095.1" r="9.5" fill="#a400c2" />
<circle cx="1148.7" cy="1099.6" r="9.5" fill="#a400c2" />
<circle cx="1156.3" cy="1111.7" r="9.5" fill="#a400c2" />
<circle cx="1161.6" cy="1108.5" r="9.5" fill="#a400c2" />
<circle cx="1168.4" cy="1120.3" r="9.5" fill="#a400c2" />
<circle cx="1174.3" cy="1121.0" r="9.5" fill="#a400c2" />
<circle cx="1179.5" cy="1133.1" r="9.5" fill="#a400c2" />
<circle cx="1186.4" cy="1133.6" r="9.5" fill="#a400c2" />
<circle cx="1192.5" cy="1144.7" r="9.5" fill="#a400c2" />
<circle cx="1199.7" cy="1146.4" r="9.5" fill="#a400c2" />
<circle cx="1206.5" cy="1157.4" r="9.5" fill="#a400c2" />
<circle cx="1212.6" cy="1167.3" r="9.5" fill="#a400c2" />
<circle cx="1218.5" cy="1171.3" r="9.5" fill="#a400c2" />
<circle cx="1225.7" cy="1181.2" r="9.5" fill="#a400c2" />
<circle cx="1095.0" cy="1062.0" r="9.5" fill="#820084" />
<circle cx="1100.9" cy="1070.1" r="9.5" fill="#820084" />
<circle cx="1107.0" cy="1071.0" r="9.5" fill="#820084" />
<circle cx="1114.9" cy="1078.0" r="9.5" fill="#820084" />
<circle cx="1120.7" cy="1078.6" r="9.5" fill="#820084" />
<circle cx="1127.6" cy="1086.9" r="9.5" fill="#820084" />
<circle cx="1135.4" cy="1087.2" r="9.5" fill="#820084" />
<circle cx="1142.6" cy="1097.2" r="9.5" fill="#820084" />
<circle cx="1148.7" cy="1097.5" r="9.5" fill="#820084" />
<circle cx="1154.9" cy="1102.8" r="9.5" fill="#820084" />
<circle cx="1162.5" cy="1112.7" r="9.5" fill="#820084" />
<circle cx="1168.3" cy="1121.5" r="9.5" fill="#820084" />
<circle cx="1174.1" cy="1125.1" r="9.5" fill="#820084" />
<circle cx="1180.3" cy="1133.2" r="9.5" fill="#820084" />
<circle cx="1186.2" cy="1138.9" r="9.5" fill="#820084" />
<circle cx="1192.0" cy="1143.0" r="9.5" fill="#820084" />
<circle cx="1197.9" cy="1145.7" r="9.5" fill="#820084" />
<circle cx="1205.5" cy="1155.1" r="9.5" fill="#820084" />
<circle cx="1213.4" cy="1167.7" r="9.5" fill="#820084" />
<circle cx="1220.8" cy="1175.3" r="9.5" fill="#820084" />
<circle cx="1228.2" cy="1182.6" r="9.5" fill="#820084" />
<circle cx="1220.0" cy="1165.0" r="9.5" fill="#ffa600" />
<circle cx="1233.0" cy="1180.0" r="9.5" fill="#cc1ad4" />
<circle cx="1225.0" cy="1162.0" r="9.5" fill="#ffd400" />
<circle cx="1233.0" cy="1218.0" r="9.5" fill="#820084" />
<circle cx="1240.0" cy="1210.0" r="9.5" fill="#a400c2" />
<circle cx="1262.0" cy="1218.0" r="9.5" fill="#ffd400" />
<circle cx="1268.0" cy="1232.0" r="9.5" fill="#ffa600" />
<circle cx="1277.0" cy="1227.0" r="9.5" fill="#f8e22e" />
<circle cx="1240.0" cy="1255.0" r="9.5" fill="#820084" />
<circle cx="1256.0" cy="1266.0" r="9.5" fill="#820084" />
<circle cx="1262.0" cy="1248.0" r="9.5" fill="#820084" />
<circle cx="1250.0" cy="1240.0" r="9.5" fill="#a400c2" />
<circle cx="1270.0" cy="1262.0" r="9.5" fill="#a400c2" />
<circle cx="1258.0" cy="1262.0" r="9.5" fill="#cc1ad4" />
<circle cx="1264.0" cy="1276.0" r="9.5" fill="#cc1ad4" />
<circle cx="1275.0" cy="1285.0" r="9.5" fill="#820084" />
<circle cx="1283.0" cy="1300.0" r="9.5" fill="#820084" />
<circle cx="1285.0" cy="1287.0" r="9.5" fill="#a400c2" />
<circle cx="1263.0" cy="1296.0" r="9.5" fill="#ff8c00" />
<circle cx="1300.0" cy="1264.0" r="9.5" fill="#ffa600" />
<circle cx="1314.0" cy="1305.0" r="9.5" fill="#ffa600" />
<circle cx="1272.0" cy="1300.0" r="9.5" fill="#cc1ad4" />
<circle cx="1286.0" cy="1318.0" r="9.5" fill="#cc1ad4" />
<circle cx="1292.0" cy="1316.0" r="9.5" fill="#a400c2" />
<circle cx="1297.0" cy="1330.0" r="9.5" fill="#820084" />
<polyline points="1017.0,1052.4 1020.9,1052.1 1024.7,1051.9 1028.6,1051.8 1032.5,1051.8 1036.3,1051.9 1040.2,1052.1 1044.1,1052.4 1047.9,1052.8 1051.8,1053.3 1055.7,1054.0 1059.5,1054.7 1063.4,1055.5 1067.2,1056.5 1071.1,1057.6 1075.0,1058.7 1078.8,1060.0 1082.7,1061.4 1086.6,1062.8 1090.4,1064.4 1094.3,1066.1 1098.2,1067.9 1102.0,1069.8 1105.9,1071.8 1109.8,1073.9 1113.6,1076.1 1117.5,1078.4 1121.4,1080.8 1125.2,1083.3 1129.1,1085.9 1133.0,1088.6 1136.8,1091.4 1140.7,1094.3 1144.6,1097.3 1148.4,1100.4 1152.3,1103.6 1156.1,1106.9 1160.0,1110.3 1163.9,1113.8 1167.7,1117.3 1171.6,1121.0 1175.5,1124.8 1179.3,1128.7 1183.2,1132.6 1187.1,1136.7 1190.9,1140.8 1194.8,1145.0 1198.7,1149.3 1202.5,1153.7 1206.4,1158.2 1210.3,1162.7 1214.1,1167.2 1218.0,1171.9 1221.9,1176.6 1225.7,1181.3 1229.6,1186.2 1233.4,1191.0 1237.3,1195.9 1241.2,1200.9 1245.0,1205.9 1248.9,1211.0 1252.8,1216.0 1256.6,1221.1 1260.5,1226.3 1264.4,1231.5 1268.2,1236.7 1272.1,1241.9 1276.0,1247.1 1279.8,1252.4 1283.7,1257.7 1287.6,1262.9 1291.4,1268.2 1295.3,1273.5 1299.2,1278.8 1303.0,1284.1 1306.9,1289.4 1310.8,1294.7 1314.6,1300.0 1318.5,1305.2 1322.3,1310.5 1326.2,1315.7 1330.1,1320.9 1333.9,1326.1 1337.8,1331.2 1341.7,1336.4 1345.5,1341.5 1349.4,1346.5 1353.3,1351.5 1357.1,1356.5 1361.0,1361.4" fill="none" stroke="#000" stroke-width="3.4" stroke-linejoin="round" stroke-linecap="round" />
<rect x="1017.0" y="1018.5" width="344.5" height="344.1" fill="none" stroke="#444" stroke-width="1.7"/>
<line x1="1040.8" y1="1362.6" x2="1040.8" y2="1356.6" stroke="#444" stroke-width="1.5" />
<line x1="1040.8" y1="1018.5" x2="1040.8" y2="1024.5" stroke="#444" stroke-width="1.5" />
<text transform="translate(1018.23,1392.50) scale(1.0300,1)" style='font-family:"Liberation Sans", Arial, sans-serif;font-size:26.5px;'>10</text><text transform="translate(1049.41,1379.00) scale(1.0300,1)" style='font-family:"Liberation Sans", Arial, sans-serif;font-size:16px;'>-1</text>
<line x1="1120.8" y1="1362.6" x2="1120.8" y2="1356.6" stroke="#444" stroke-width="1.5" />
<line x1="1120.8" y1="1018.5" x2="1120.8" y2="1024.5" stroke="#444" stroke-width="1.5" />
<text transform="translate(1100.93,1392.50) scale(1.0300,1)" style='font-family:"Liberation Sans", Arial, sans-serif;font-size:26.5px;'>10</text><text transform="translate(1132.11,1379.00) scale(1.0300,1)" style='font-family:"Liberation Sans", Arial, sans-serif;font-size:16px;'>0</text>
<line x1="1200.8" y1="1362.6" x2="1200.8" y2="1356.6" stroke="#444" stroke-width="1.5" />
<line x1="1200.8" y1="1018.5" x2="1200.8" y2="1024.5" stroke="#444" stroke-width="1.5" />
<text transform="translate(1180.93,1392.50) scale(1.0300,1)" style='font-family:"Liberation Sans", Arial, sans-serif;font-size:26.5px;'>10</text><text transform="translate(1212.11,1379.00) scale(1.0300,1)" style='font-family:"Liberation Sans", Arial, sans-serif;font-size:16px;'>1</text>
<line x1="1280.8" y1="1362.6" x2="1280.8" y2="1356.6" stroke="#444" stroke-width="1.5" />
<line x1="1280.8" y1="1018.5" x2="1280.8" y2="1024.5" stroke="#444" stroke-width="1.5" />
<text transform="translate(1260.93,1392.50) scale(1.0300,1)" style='font-family:"Liberation Sans", Arial, sans-serif;font-size:26.5px;'>10</text><text transform="translate(1292.11,1379.00) scale(1.0300,1)" style='font-family:"Liberation Sans", Arial, sans-serif;font-size:16px;'>2</text>
<line x1="1360.8" y1="1362.6" x2="1360.8" y2="1356.6" stroke="#444" stroke-width="1.5" />
<line x1="1360.8" y1="1018.5" x2="1360.8" y2="1024.5" stroke="#444" stroke-width="1.5" />
<text transform="translate(1340.93,1392.50) scale(1.0300,1)" style='font-family:"Liberation Sans", Arial, sans-serif;font-size:26.5px;'>10</text><text transform="translate(1372.11,1379.00) scale(1.0300,1)" style='font-family:"Liberation Sans", Arial, sans-serif;font-size:16px;'>3</text>
<line x1="1017.0" y1="1363.4" x2="1023.0" y2="1363.4" stroke="#444" stroke-width="1.5" />
<line x1="1361.5" y1="1363.4" x2="1355.5" y2="1363.4" stroke="#444" stroke-width="1.5" />
<text transform="translate(966.61,1373.60) scale(1.0000,1)" style='font-family:"Liberation Sans", Arial, sans-serif;font-size:27.5px;'>10</text><text transform="translate(998.00,1359.10) scale(1.0000,1)" style='font-family:"Liberation Sans", Arial, sans-serif;font-size:16px;'>-3</text>
<line x1="1017.0" y1="1258.7" x2="1023.0" y2="1258.7" stroke="#444" stroke-width="1.5" />
<line x1="1361.5" y1="1258.7" x2="1355.5" y2="1258.7" stroke="#444" stroke-width="1.5" />
<text transform="translate(966.61,1268.90) scale(1.0000,1)" style='font-family:"Liberation Sans", Arial, sans-serif;font-size:27.5px;'>10</text><text transform="translate(998.00,1254.40) scale(1.0000,1)" style='font-family:"Liberation Sans", Arial, sans-serif;font-size:16px;'>-2</text>
<line x1="1017.0" y1="1154.0" x2="1023.0" y2="1154.0" stroke="#444" stroke-width="1.5" />
<line x1="1361.5" y1="1154.0" x2="1355.5" y2="1154.0" stroke="#444" stroke-width="1.5" />
<text transform="translate(966.61,1164.20) scale(1.0000,1)" style='font-family:"Liberation Sans", Arial, sans-serif;font-size:27.5px;'>10</text><text transform="translate(998.00,1149.70) scale(1.0000,1)" style='font-family:"Liberation Sans", Arial, sans-serif;font-size:16px;'>-1</text>
<line x1="1017.0" y1="1049.3" x2="1023.0" y2="1049.3" stroke="#444" stroke-width="1.5" />
<line x1="1361.5" y1="1049.3" x2="1355.5" y2="1049.3" stroke="#444" stroke-width="1.5" />
<text transform="translate(971.86,1059.50) scale(1.0000,1)" style='font-family:"Liberation Sans", Arial, sans-serif;font-size:27.5px;'>10</text><text transform="translate(1003.25,1045.00) scale(1.0000,1)" style='font-family:"Liberation Sans", Arial, sans-serif;font-size:16px;'>0</text>
<text transform="translate(956.90,1209.81) rotate(-90) scale(1.2089,1)" fill="#000" style='font-family:"Liberation Serif", serif;font-style:italic;font-size:27px;'>η</text>
<path d="M 935.0 1193.5 C 929.7 1198.3, 936.7 1202.3, 931.4 1207.1" fill="none" stroke="#000" stroke-width="1.9" stroke-linecap="round"/>
<text transform="translate(1184.98,1436.00) scale(1.2465,1)" fill="#000" style='font-family:"Liberation Serif", serif;font-style:italic;font-size:27px;'>γ</text>
<path d="M 1187.7 1417.0 C 1192.0 1412.0, 1195.7 1419.0, 1200.0 1414.0" fill="none" stroke="#000" stroke-width="1.9" stroke-linecap="round"/>
<line x1="1488.0" y1="1318.9" x2="1756.5" y2="1026.2" stroke="#000" stroke-width="2.6" stroke-dasharray="11 7"/>
<defs><linearGradient id="actG" x1="1746" y1="1099" x2="1590" y2="1281" gradientUnits="userSpaceOnUse"><stop offset="0" stop-color="#a8c4f4"/><stop offset="0.45" stop-color="#b07890"/><stop offset="1" stop-color="#a80010"/></linearGradient></defs>
<line x1="1746" y1="1099" x2="1597" y2="1271" stroke="url(#actG)" stroke-width="7"/>
<polygon points="1585.2,1285.6 1592,1262 1608,1276" fill="#a80010"/>
<rect x="1704.4" y="1045.7" width="24.4" height="24.5" fill="#a4c2f4" />
<circle cx="1689.2" cy="1112.5" r="13.5" fill="#f87878" />
<circle cx="1589.6" cy="1188.0" r="13.5" fill="#fc0000" />
<circle cx="1554.7" cy="1269.1" r="13.5" fill="#b00000" />
<rect x="1485.4" y="1017.0" width="344.5" height="344.0" fill="none" stroke="#444" stroke-width="1.7"/>
<text transform="translate(1463.96,1392.00) scale(1.0200,1)" style='font-family:"Liberation Sans", Arial, sans-serif;font-size:26px;'>10</text><text transform="translate(1494.28,1378.50) scale(1.0200,1)" style='font-family:"Liberation Sans", Arial, sans-serif;font-size:15.5px;'>-1</text>
<line x1="1657.4" y1="1361.0" x2="1657.4" y2="1355.0" stroke="#444" stroke-width="1.5" />
<text transform="translate(1638.64,1392.00) scale(1.0200,1)" style='font-family:"Liberation Sans", Arial, sans-serif;font-size:26px;'>10</text><text transform="translate(1668.96,1378.50) scale(1.0200,1)" style='font-family:"Liberation Sans", Arial, sans-serif;font-size:15.5px;'>0</text>
<text transform="translate(1805.22,1392.00) scale(1.0200,1)" style='font-family:"Liberation Sans", Arial, sans-serif;font-size:26px;'>10</text><text transform="translate(1835.54,1378.50) scale(1.0200,1)" style='font-family:"Liberation Sans", Arial, sans-serif;font-size:15.5px;'>1</text>
<text transform="translate(1442.02,1370.00) scale(1.0300,1)" style='font-family:"Liberation Sans", Arial, sans-serif;font-size:25.5px;'>10</text><text transform="translate(1472.06,1356.20) scale(1.0300,1)" style='font-family:"Liberation Sans", Arial, sans-serif;font-size:15.5px;'>0</text>
<line x1="1485.4" y1="1211.0" x2="1491.4" y2="1211.0" stroke="#444" stroke-width="1.5" />
<text transform="translate(1441.22,1220.80) scale(1.0300,1)" style='font-family:"Liberation Sans", Arial, sans-serif;font-size:25.5px;'>10</text><text transform="translate(1471.26,1207.00) scale(1.0300,1)" style='font-family:"Liberation Sans", Arial, sans-serif;font-size:15.5px;'>1</text>
<line x1="1485.4" y1="1061.0" x2="1491.4" y2="1061.0" stroke="#444" stroke-width="1.5" />
<text transform="translate(1441.22,1070.80) scale(1.0300,1)" style='font-family:"Liberation Sans", Arial, sans-serif;font-size:25.5px;'>10</text><text transform="translate(1471.26,1057.00) scale(1.0300,1)" style='font-family:"Liberation Sans", Arial, sans-serif;font-size:15.5px;'>2</text>
<text transform="translate(1535.08,1127.60) scale(1.0558,1)" fill="#000" style='font-family:"Liberation Sans", Arial, sans-serif;font-size:26px;'>Slope 1.7</text>
<text transform="translate(1730.30,1152.00) scale(1.0650,1)" fill="#000" style='font-family:"Liberation Sans", Arial, sans-serif;font-size:26px;'>Activity</text>
<text transform="translate(1633.47,1432.00) scale(1.0500,1)" fill="#000" style='font-family:"Liberation Serif", serif;font-style:italic;font-size:27px;'>τ</text>
<text transform="translate(1645.50,1440.60) scale(0.8889,1)" fill="#000" style='font-family:"Liberation Sans", Arial, sans-serif;font-size:17px;'>worm</text>
<text transform="translate(1688.07,1432.00) scale(1.1026,1)" fill="#000" style='font-family:"Liberation Sans", Arial, sans-serif;font-size:27.5px;'>(s)</text>
<text transform="translate(1425.40,1212.39) rotate(-90) scale(1.0214,1)" fill="#000" style='font-family:"Liberation Sans", Arial, sans-serif;font-size:27.5px;'>(Pa s)</text>
<text transform="translate(1425.90,1255.08) rotate(-90) scale(1.2800,1)" fill="#000" style='font-family:"Liberation Serif", serif;font-style:italic;font-size:27px;'>η</text>
<text transform="translate(1433.90,1241.40) rotate(-90) scale(0.9822,1)" fill="#000" style='font-family:"Liberation Sans", Arial, sans-serif;font-style:italic;font-size:17px;'>s,0</text>
<text transform="translate(1394.64,1033.50) scale(1.0527,1)" fill="#000" style='font-family:"Liberation Sans", Arial, sans-serif;font-size:50px;'>(g)</text>
</svg>
</body></html>
